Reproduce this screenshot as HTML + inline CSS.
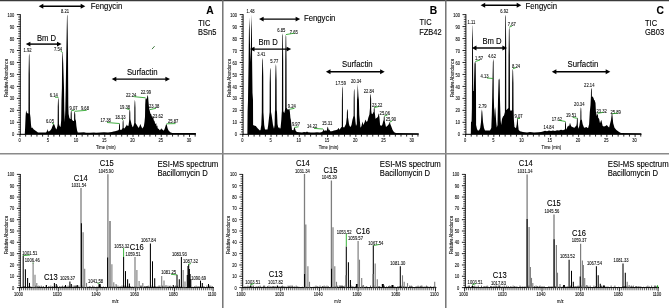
<!DOCTYPE html>
<html><head><meta charset="utf-8"><style>
html,body{margin:0;padding:0;background:#fff;}
body{width:669px;height:308px;overflow:hidden;}
svg{display:block;font-family:"Liberation Sans", sans-serif;will-change:transform;}
</style></head><body>
<svg width="669" height="308" viewBox="0 0 669 308">
<rect width="669" height="308" fill="#fff"/>
<path d="M20.2 134.3 L24.8 134 L25.1 128 L25.6 116 L26.1 110.2 L26.8 112.8 L27.9 113.4 L28.45 113.5 L28.57 74.37 L28.92 55.8 L29.2 53.3 L29.48 55.8 L29.83 74.37 L29.95 113.5 L30.5 117.5 L31 124.8 L31.5 127.9 L32.2 127.5 L33 128.4 L33.8 129.5 L34.6 130 L35.6 130.8 L36.7 131.5 L38 132.4 L46 132.6 L46.8 131.5 L47.4 128.9 L48 131.3 L49 131.6 L50.5 130.3 L51.5 128.8 L52.5 126 L53.4 124.3 L53.8 123.7 L54.5 125 L55.5 128 L56.5 129.4 L57.4 126 L57.65 124 L57.75 106.64 L58.02 99.8 L58.3 97.3 L58.58 99.8 L58.85 106.64 L58.95 124 L59.6 126 L60.6 127 L61.2 120 L61.5 100 L61.9 88 L62.1 63 L62.4 53.2 L62.6 52 L62.8 53.2 L63.2 63 L64 88 L64.3 110 L64.8 122 L65.3 110 L65.7 90 L66.3 54 L66.7 31 L67 16 L67.2 14.5 L67.4 16 L67.7 31 L68 54 L68.2 88 L68.3 105 L68.6 114 L69.4 118 L70.2 119 L70.6 119 L70.7 113.41 L70.92 111.26 L71.2 110.4 L71.48 111.26 L71.7 113.41 L71.8 119 L72.2 120 L73.2 121 L74.05 121 L74.15 114.69 L74.42 112.27 L74.7 111.3 L74.98 112.27 L75.25 114.69 L75.35 121 L75.8 119 L76.4 126 L77.1 130.5 L77.8 132.4 L80 132.6 L84 132.2 L86 132.7 L90 132.7 L94 132.4 L96 132.7 L100 132.6 L104 132.3 L108 132.5 L111.9 132 L113.5 131.6 L115 131.2 L116.8 130.8 L118.3 130.3 L118.95 129.5 L119.04 125.41 L119.22 123.83 L119.5 123.2 L119.78 123.83 L119.96 125.41 L120.05 129.5 L120.8 130 L121.8 129.5 L122.55 128 L122.64 122.8 L122.82 120.8 L123.1 120 L123.38 120.8 L123.56 122.8 L123.65 128 L124.4 128.4 L125.4 127 L126.3 125.8 L126.9 124.6 L127.6 126 L128.5 125.8 L129.1 121 L129.25 119 L129.34 112.83 L129.52 110.45 L129.8 109.5 L130.08 110.45 L130.26 112.83 L130.35 119 L130.5 120 L131 122.1 L131.6 124.5 L132 125.5 L132.6 127.2 L133.2 126.4 L133.7 125.2 L134.25 123 L134.35 107.92 L134.62 102.12 L134.9 99.8 L135.18 102.12 L135.45 107.92 L135.55 123 L136.5 124.5 L137.7 126.5 L138.8 128 L139.6 126 L140.4 124.1 L141.2 126.2 L142.3 128.4 L143.4 127 L143.9 126 L144.5 122 L145 116.7 L145.2 105 L145.5 99.2 L146.1 97.8 L146.5 99.5 L146.9 98.6 L147.4 95.8 L147.7 95.1 L148.1 96.8 L148.5 101.8 L149.1 108.3 L149.5 109.6 L149.9 111.5 L150.4 113.5 L151.3 114.5 L151.8 116.5 L152.3 116 L152.9 118.3 L153.2 116.2 L153.5 119 L153.8 120 L154.2 121.8 L154.6 120.2 L155 123.2 L155.6 124.2 L156.1 122.8 L156.5 125.5 L156.9 126.5 L157.3 125.2 L157.7 128.2 L158.8 129 L159.8 130.3 L160.8 129.3 L161.4 128.2 L162 129.5 L162.8 129.8 L163.7 130.7 L164.6 129 L165.4 126.5 L166 124.5 L166.4 124.1 L166.9 125.3 L167.6 128.2 L168.4 130.3 L169.5 131.6 L170.7 132.4 L172.5 132.9 L195.9 133.1 L195.9 134.3 Z" fill="#000"/>
<line x1="20.3" y1="14.2" x2="20.3" y2="134.8" stroke="#000" stroke-width="0.95"/>
<line x1="16.9" y1="134.3" x2="20.3" y2="134.3" stroke="#000" stroke-width="0.85"/>
<line x1="18.2" y1="131.91" x2="20.3" y2="131.91" stroke="#000" stroke-width="0.7"/>
<line x1="18.2" y1="129.51" x2="20.3" y2="129.51" stroke="#000" stroke-width="0.7"/>
<line x1="18.2" y1="127.12" x2="20.3" y2="127.12" stroke="#000" stroke-width="0.7"/>
<line x1="18.2" y1="124.72" x2="20.3" y2="124.72" stroke="#000" stroke-width="0.7"/>
<line x1="16.9" y1="122.33" x2="20.3" y2="122.33" stroke="#000" stroke-width="0.85"/>
<line x1="18.2" y1="119.94" x2="20.3" y2="119.94" stroke="#000" stroke-width="0.7"/>
<line x1="18.2" y1="117.54" x2="20.3" y2="117.54" stroke="#000" stroke-width="0.7"/>
<line x1="18.2" y1="115.15" x2="20.3" y2="115.15" stroke="#000" stroke-width="0.7"/>
<line x1="18.2" y1="112.75" x2="20.3" y2="112.75" stroke="#000" stroke-width="0.7"/>
<line x1="16.9" y1="110.36" x2="20.3" y2="110.36" stroke="#000" stroke-width="0.85"/>
<line x1="18.2" y1="107.97" x2="20.3" y2="107.97" stroke="#000" stroke-width="0.7"/>
<line x1="18.2" y1="105.57" x2="20.3" y2="105.57" stroke="#000" stroke-width="0.7"/>
<line x1="18.2" y1="103.18" x2="20.3" y2="103.18" stroke="#000" stroke-width="0.7"/>
<line x1="18.2" y1="100.78" x2="20.3" y2="100.78" stroke="#000" stroke-width="0.7"/>
<line x1="16.9" y1="98.39" x2="20.3" y2="98.39" stroke="#000" stroke-width="0.85"/>
<line x1="18.2" y1="96" x2="20.3" y2="96" stroke="#000" stroke-width="0.7"/>
<line x1="18.2" y1="93.6" x2="20.3" y2="93.6" stroke="#000" stroke-width="0.7"/>
<line x1="18.2" y1="91.21" x2="20.3" y2="91.21" stroke="#000" stroke-width="0.7"/>
<line x1="18.2" y1="88.81" x2="20.3" y2="88.81" stroke="#000" stroke-width="0.7"/>
<line x1="16.9" y1="86.42" x2="20.3" y2="86.42" stroke="#000" stroke-width="0.85"/>
<line x1="18.2" y1="84.03" x2="20.3" y2="84.03" stroke="#000" stroke-width="0.7"/>
<line x1="18.2" y1="81.63" x2="20.3" y2="81.63" stroke="#000" stroke-width="0.7"/>
<line x1="18.2" y1="79.24" x2="20.3" y2="79.24" stroke="#000" stroke-width="0.7"/>
<line x1="18.2" y1="76.84" x2="20.3" y2="76.84" stroke="#000" stroke-width="0.7"/>
<line x1="16.9" y1="74.45" x2="20.3" y2="74.45" stroke="#000" stroke-width="0.85"/>
<line x1="18.2" y1="72.06" x2="20.3" y2="72.06" stroke="#000" stroke-width="0.7"/>
<line x1="18.2" y1="69.66" x2="20.3" y2="69.66" stroke="#000" stroke-width="0.7"/>
<line x1="18.2" y1="67.27" x2="20.3" y2="67.27" stroke="#000" stroke-width="0.7"/>
<line x1="18.2" y1="64.87" x2="20.3" y2="64.87" stroke="#000" stroke-width="0.7"/>
<line x1="16.9" y1="62.48" x2="20.3" y2="62.48" stroke="#000" stroke-width="0.85"/>
<line x1="18.2" y1="60.09" x2="20.3" y2="60.09" stroke="#000" stroke-width="0.7"/>
<line x1="18.2" y1="57.69" x2="20.3" y2="57.69" stroke="#000" stroke-width="0.7"/>
<line x1="18.2" y1="55.3" x2="20.3" y2="55.3" stroke="#000" stroke-width="0.7"/>
<line x1="18.2" y1="52.9" x2="20.3" y2="52.9" stroke="#000" stroke-width="0.7"/>
<line x1="16.9" y1="50.51" x2="20.3" y2="50.51" stroke="#000" stroke-width="0.85"/>
<line x1="18.2" y1="48.12" x2="20.3" y2="48.12" stroke="#000" stroke-width="0.7"/>
<line x1="18.2" y1="45.72" x2="20.3" y2="45.72" stroke="#000" stroke-width="0.7"/>
<line x1="18.2" y1="43.33" x2="20.3" y2="43.33" stroke="#000" stroke-width="0.7"/>
<line x1="18.2" y1="40.93" x2="20.3" y2="40.93" stroke="#000" stroke-width="0.7"/>
<line x1="16.9" y1="38.54" x2="20.3" y2="38.54" stroke="#000" stroke-width="0.85"/>
<line x1="18.2" y1="36.15" x2="20.3" y2="36.15" stroke="#000" stroke-width="0.7"/>
<line x1="18.2" y1="33.75" x2="20.3" y2="33.75" stroke="#000" stroke-width="0.7"/>
<line x1="18.2" y1="31.36" x2="20.3" y2="31.36" stroke="#000" stroke-width="0.7"/>
<line x1="18.2" y1="28.96" x2="20.3" y2="28.96" stroke="#000" stroke-width="0.7"/>
<line x1="16.9" y1="26.57" x2="20.3" y2="26.57" stroke="#000" stroke-width="0.85"/>
<line x1="18.2" y1="24.18" x2="20.3" y2="24.18" stroke="#000" stroke-width="0.7"/>
<line x1="18.2" y1="21.78" x2="20.3" y2="21.78" stroke="#000" stroke-width="0.7"/>
<line x1="18.2" y1="19.39" x2="20.3" y2="19.39" stroke="#000" stroke-width="0.7"/>
<line x1="18.2" y1="16.99" x2="20.3" y2="16.99" stroke="#000" stroke-width="0.7"/>
<line x1="16.9" y1="14.6" x2="20.3" y2="14.6" stroke="#000" stroke-width="0.85"/>
<text transform="translate(14.3,136.38) scale(0.86,1)" font-size="4.7" text-anchor="end" fill="#111" stroke="#111" stroke-width="0.1">0</text>
<text transform="translate(14.3,124.41) scale(0.86,1)" font-size="4.7" text-anchor="end" fill="#111" stroke="#111" stroke-width="0.1">10</text>
<text transform="translate(14.3,112.44) scale(0.86,1)" font-size="4.7" text-anchor="end" fill="#111" stroke="#111" stroke-width="0.1">20</text>
<text transform="translate(14.3,100.47) scale(0.86,1)" font-size="4.7" text-anchor="end" fill="#111" stroke="#111" stroke-width="0.1">30</text>
<text transform="translate(14.3,88.5) scale(0.86,1)" font-size="4.7" text-anchor="end" fill="#111" stroke="#111" stroke-width="0.1">40</text>
<text transform="translate(14.3,76.53) scale(0.86,1)" font-size="4.7" text-anchor="end" fill="#111" stroke="#111" stroke-width="0.1">50</text>
<text transform="translate(14.3,64.56) scale(0.86,1)" font-size="4.7" text-anchor="end" fill="#111" stroke="#111" stroke-width="0.1">60</text>
<text transform="translate(14.3,52.59) scale(0.86,1)" font-size="4.7" text-anchor="end" fill="#111" stroke="#111" stroke-width="0.1">70</text>
<text transform="translate(14.3,40.62) scale(0.86,1)" font-size="4.7" text-anchor="end" fill="#111" stroke="#111" stroke-width="0.1">80</text>
<text transform="translate(14.3,28.65) scale(0.86,1)" font-size="4.7" text-anchor="end" fill="#111" stroke="#111" stroke-width="0.1">90</text>
<text transform="translate(14.3,16.68) scale(0.86,1)" font-size="4.7" text-anchor="end" fill="#111" stroke="#111" stroke-width="0.1">100</text>
<line x1="19.9" y1="134.3" x2="195.9" y2="134.3" stroke="#000" stroke-width="1"/>
<line x1="20" y1="134.3" x2="20" y2="136.9" stroke="#000" stroke-width="0.85"/>
<line x1="25.65" y1="134.3" x2="25.65" y2="136.6" stroke="#000" stroke-width="0.85"/>
<line x1="31.3" y1="134.3" x2="31.3" y2="136.6" stroke="#000" stroke-width="0.85"/>
<line x1="36.95" y1="134.3" x2="36.95" y2="136.6" stroke="#000" stroke-width="0.85"/>
<line x1="42.6" y1="134.3" x2="42.6" y2="136.6" stroke="#000" stroke-width="0.85"/>
<line x1="48.25" y1="134.3" x2="48.25" y2="136.9" stroke="#000" stroke-width="0.85"/>
<line x1="53.9" y1="134.3" x2="53.9" y2="136.6" stroke="#000" stroke-width="0.85"/>
<line x1="59.55" y1="134.3" x2="59.55" y2="136.6" stroke="#000" stroke-width="0.85"/>
<line x1="65.2" y1="134.3" x2="65.2" y2="136.6" stroke="#000" stroke-width="0.85"/>
<line x1="70.85" y1="134.3" x2="70.85" y2="136.6" stroke="#000" stroke-width="0.85"/>
<line x1="76.5" y1="134.3" x2="76.5" y2="136.9" stroke="#000" stroke-width="0.85"/>
<line x1="82.15" y1="134.3" x2="82.15" y2="136.6" stroke="#000" stroke-width="0.85"/>
<line x1="87.8" y1="134.3" x2="87.8" y2="136.6" stroke="#000" stroke-width="0.85"/>
<line x1="93.45" y1="134.3" x2="93.45" y2="136.6" stroke="#000" stroke-width="0.85"/>
<line x1="99.1" y1="134.3" x2="99.1" y2="136.6" stroke="#000" stroke-width="0.85"/>
<line x1="104.75" y1="134.3" x2="104.75" y2="136.9" stroke="#000" stroke-width="0.85"/>
<line x1="110.4" y1="134.3" x2="110.4" y2="136.6" stroke="#000" stroke-width="0.85"/>
<line x1="116.05" y1="134.3" x2="116.05" y2="136.6" stroke="#000" stroke-width="0.85"/>
<line x1="121.7" y1="134.3" x2="121.7" y2="136.6" stroke="#000" stroke-width="0.85"/>
<line x1="127.35" y1="134.3" x2="127.35" y2="136.6" stroke="#000" stroke-width="0.85"/>
<line x1="133" y1="134.3" x2="133" y2="136.9" stroke="#000" stroke-width="0.85"/>
<line x1="138.65" y1="134.3" x2="138.65" y2="136.6" stroke="#000" stroke-width="0.85"/>
<line x1="144.3" y1="134.3" x2="144.3" y2="136.6" stroke="#000" stroke-width="0.85"/>
<line x1="149.95" y1="134.3" x2="149.95" y2="136.6" stroke="#000" stroke-width="0.85"/>
<line x1="155.6" y1="134.3" x2="155.6" y2="136.6" stroke="#000" stroke-width="0.85"/>
<line x1="161.25" y1="134.3" x2="161.25" y2="136.9" stroke="#000" stroke-width="0.85"/>
<line x1="166.9" y1="134.3" x2="166.9" y2="136.6" stroke="#000" stroke-width="0.85"/>
<line x1="172.55" y1="134.3" x2="172.55" y2="136.6" stroke="#000" stroke-width="0.85"/>
<line x1="178.2" y1="134.3" x2="178.2" y2="136.6" stroke="#000" stroke-width="0.85"/>
<line x1="183.85" y1="134.3" x2="183.85" y2="136.6" stroke="#000" stroke-width="0.85"/>
<line x1="189.5" y1="134.3" x2="189.5" y2="136.9" stroke="#000" stroke-width="0.85"/>
<line x1="195.15" y1="134.3" x2="195.15" y2="136.6" stroke="#000" stroke-width="0.85"/>
<text transform="translate(19.5,141.98) scale(0.86,1)" font-size="4.7" text-anchor="middle" fill="#111" stroke="#111" stroke-width="0.1">0</text>
<text transform="translate(47.75,141.98) scale(0.86,1)" font-size="4.7" text-anchor="middle" fill="#111" stroke="#111" stroke-width="0.1">5</text>
<text transform="translate(76,141.98) scale(0.86,1)" font-size="4.7" text-anchor="middle" fill="#111" stroke="#111" stroke-width="0.1">10</text>
<text transform="translate(104.25,141.98) scale(0.86,1)" font-size="4.7" text-anchor="middle" fill="#111" stroke="#111" stroke-width="0.1">15</text>
<text transform="translate(132.5,141.98) scale(0.86,1)" font-size="4.7" text-anchor="middle" fill="#111" stroke="#111" stroke-width="0.1">20</text>
<text transform="translate(160.75,141.98) scale(0.86,1)" font-size="4.7" text-anchor="middle" fill="#111" stroke="#111" stroke-width="0.1">25</text>
<text transform="translate(189,141.98) scale(0.86,1)" font-size="4.7" text-anchor="middle" fill="#111" stroke="#111" stroke-width="0.1">30</text>
<text transform="translate(105.8,148.72) scale(0.76,1)" font-size="5.46" text-anchor="middle" fill="#111" stroke="#111" stroke-width="0.1">Time (min)</text>
<text transform="translate(8.1,78) rotate(-90) scale(0.87,1)" font-size="4.95" text-anchor="middle" fill="#111" stroke="#111" stroke-width="0.1">Relative Abundance</text>
<path d="M243 134.3 L247.4 134 L247.6 112 L248 100 L248.6 60 L248.95 30 L249.35 17.3 L249.7 30 L250.1 50 L250.4 62 L250.8 50 L251.2 30 L251.6 14.6 L251.95 30 L252.1 60 L252.5 93 L253 100 L253.1 125 L254 125.5 L255.8 126 L257.6 128.3 L259.9 130.5 L260.5 130 L261.3 125 L261.8 112 L261.93 76.77 L262.32 60.3 L262.6 57.8 L262.88 60.3 L263.27 76.77 L263.4 112 L264.2 125 L265 129.6 L267.5 129.6 L268.2 125 L269.3 115 L269.6 112 L269.71 83.08 L270.02 70 L270.3 67.5 L270.58 70 L270.89 83.08 L271 112 L271.6 115 L273 125 L274 128.7 L274.6 125 L274.9 112 L275.1 110 L275.23 80.1 L275.62 66.5 L275.9 64 L276.18 66.5 L276.57 80.1 L276.7 110 L277 112 L277.5 124 L278.3 128 L279 127 L279.8 128.5 L280.5 128.3 L281.3 120 L281.7 113 L281.9 111 L282.01 60.49 L282.32 35.8 L282.6 33.3 L282.88 35.8 L283.19 60.49 L283.3 111 L283.6 112 L284.3 113 L285 110 L285.15 108 L285.27 60.29 L285.62 37.1 L285.9 34.6 L286.18 37.1 L286.53 60.29 L286.65 108 L286.8 108 L287.5 109.5 L288.5 109.5 L289.4 108.8 L289.9 112 L290.4 117.8 L290.9 120 L291.4 125 L292 130 L293.5 130.2 L294 128 L294.5 126.9 L295 128.5 L295.8 131 L297 132 L302 132.4 L304 132.1 L306 132.3 L307 131.4 L308 132.3 L311 132.5 L314 132.5 L317 132.2 L320 132.4 L322 132 L323 131 L323.6 128.7 L324.2 131 L324.8 130.5 L325.2 129.8 L325.7 131 L326.8 130.5 L327.4 127.5 L327.8 126.4 L328.3 128.5 L329 130.5 L329.5 129.5 L330.2 131.2 L332 131.3 L334 130.6 L336.5 130 L337.8 129.2 L338.7 127.8 L339.4 129.8 L340.4 128.4 L341.5 127 L341.8 127 L341.9 100.41 L342.12 88.6 L342.4 86.1 L342.68 88.6 L342.9 100.41 L343 127 L343.3 127 L344 127.8 L345 126 L346 124 L346.7 118 L346.8 118 L346.9 112.15 L347.12 109.9 L347.4 109 L347.68 109.9 L347.9 112.15 L348 118 L348.1 118 L349 124 L349.6 126 L350.5 127 L351.5 125 L352.4 120 L353.5 116 L353.6 116 L353.7 98.06 L353.92 90.9 L354.2 88.4 L354.48 90.9 L354.7 98.06 L354.8 116 L355 117 L355.5 122 L356 126 L356.8 124 L357 100 L357.3 96.5 L357.5 90 L357.8 83.8 L358.1 90 L358.5 96.5 L358.9 100 L359.3 115 L360.5 127.8 L361.5 126 L362.4 121.5 L363.3 125 L364.5 122.5 L365.5 119.6 L366.5 122 L367.5 121 L368.3 117.8 L369.4 114.5 L370 108 L370 108 L370.1 98.77 L370.32 95.22 L370.6 93.8 L370.88 95.22 L371.1 98.77 L371.2 108 L371.2 110 L371.6 113.5 L372.4 114.2 L373.5 112 L373.7 112 L373.78 109.2 L373.92 108.13 L374.2 107.7 L374.48 108.13 L374.62 109.2 L374.7 112 L375.5 118.7 L376.5 118 L377.8 116.9 L378.7 113.3 L379.4 117 L380.1 125.1 L381.2 126 L382.4 124.6 L383.5 120 L383.7 121 L383.78 117.75 L383.92 116.5 L384.2 116 L384.48 116.5 L384.62 117.75 L384.7 121 L385 122.5 L386 126.9 L387.2 126 L388.3 125.1 L389.3 123 L389.35 124 L389.42 122.7 L389.52 122.2 L389.8 122 L390.08 122.2 L390.18 122.7 L390.25 124 L390.5 124.5 L391.5 127 L392.5 129.8 L393.6 131.6 L394.6 132.6 L396 133.1 L418.7 133.2 L418.7 134.3 Z" fill="#000"/>
<line x1="243.1" y1="14.2" x2="243.1" y2="134.8" stroke="#000" stroke-width="0.95"/>
<line x1="239.7" y1="134.3" x2="243.1" y2="134.3" stroke="#000" stroke-width="0.85"/>
<line x1="241" y1="131.91" x2="243.1" y2="131.91" stroke="#000" stroke-width="0.7"/>
<line x1="241" y1="129.51" x2="243.1" y2="129.51" stroke="#000" stroke-width="0.7"/>
<line x1="241" y1="127.12" x2="243.1" y2="127.12" stroke="#000" stroke-width="0.7"/>
<line x1="241" y1="124.72" x2="243.1" y2="124.72" stroke="#000" stroke-width="0.7"/>
<line x1="239.7" y1="122.33" x2="243.1" y2="122.33" stroke="#000" stroke-width="0.85"/>
<line x1="241" y1="119.94" x2="243.1" y2="119.94" stroke="#000" stroke-width="0.7"/>
<line x1="241" y1="117.54" x2="243.1" y2="117.54" stroke="#000" stroke-width="0.7"/>
<line x1="241" y1="115.15" x2="243.1" y2="115.15" stroke="#000" stroke-width="0.7"/>
<line x1="241" y1="112.75" x2="243.1" y2="112.75" stroke="#000" stroke-width="0.7"/>
<line x1="239.7" y1="110.36" x2="243.1" y2="110.36" stroke="#000" stroke-width="0.85"/>
<line x1="241" y1="107.97" x2="243.1" y2="107.97" stroke="#000" stroke-width="0.7"/>
<line x1="241" y1="105.57" x2="243.1" y2="105.57" stroke="#000" stroke-width="0.7"/>
<line x1="241" y1="103.18" x2="243.1" y2="103.18" stroke="#000" stroke-width="0.7"/>
<line x1="241" y1="100.78" x2="243.1" y2="100.78" stroke="#000" stroke-width="0.7"/>
<line x1="239.7" y1="98.39" x2="243.1" y2="98.39" stroke="#000" stroke-width="0.85"/>
<line x1="241" y1="96" x2="243.1" y2="96" stroke="#000" stroke-width="0.7"/>
<line x1="241" y1="93.6" x2="243.1" y2="93.6" stroke="#000" stroke-width="0.7"/>
<line x1="241" y1="91.21" x2="243.1" y2="91.21" stroke="#000" stroke-width="0.7"/>
<line x1="241" y1="88.81" x2="243.1" y2="88.81" stroke="#000" stroke-width="0.7"/>
<line x1="239.7" y1="86.42" x2="243.1" y2="86.42" stroke="#000" stroke-width="0.85"/>
<line x1="241" y1="84.03" x2="243.1" y2="84.03" stroke="#000" stroke-width="0.7"/>
<line x1="241" y1="81.63" x2="243.1" y2="81.63" stroke="#000" stroke-width="0.7"/>
<line x1="241" y1="79.24" x2="243.1" y2="79.24" stroke="#000" stroke-width="0.7"/>
<line x1="241" y1="76.84" x2="243.1" y2="76.84" stroke="#000" stroke-width="0.7"/>
<line x1="239.7" y1="74.45" x2="243.1" y2="74.45" stroke="#000" stroke-width="0.85"/>
<line x1="241" y1="72.06" x2="243.1" y2="72.06" stroke="#000" stroke-width="0.7"/>
<line x1="241" y1="69.66" x2="243.1" y2="69.66" stroke="#000" stroke-width="0.7"/>
<line x1="241" y1="67.27" x2="243.1" y2="67.27" stroke="#000" stroke-width="0.7"/>
<line x1="241" y1="64.87" x2="243.1" y2="64.87" stroke="#000" stroke-width="0.7"/>
<line x1="239.7" y1="62.48" x2="243.1" y2="62.48" stroke="#000" stroke-width="0.85"/>
<line x1="241" y1="60.09" x2="243.1" y2="60.09" stroke="#000" stroke-width="0.7"/>
<line x1="241" y1="57.69" x2="243.1" y2="57.69" stroke="#000" stroke-width="0.7"/>
<line x1="241" y1="55.3" x2="243.1" y2="55.3" stroke="#000" stroke-width="0.7"/>
<line x1="241" y1="52.9" x2="243.1" y2="52.9" stroke="#000" stroke-width="0.7"/>
<line x1="239.7" y1="50.51" x2="243.1" y2="50.51" stroke="#000" stroke-width="0.85"/>
<line x1="241" y1="48.12" x2="243.1" y2="48.12" stroke="#000" stroke-width="0.7"/>
<line x1="241" y1="45.72" x2="243.1" y2="45.72" stroke="#000" stroke-width="0.7"/>
<line x1="241" y1="43.33" x2="243.1" y2="43.33" stroke="#000" stroke-width="0.7"/>
<line x1="241" y1="40.93" x2="243.1" y2="40.93" stroke="#000" stroke-width="0.7"/>
<line x1="239.7" y1="38.54" x2="243.1" y2="38.54" stroke="#000" stroke-width="0.85"/>
<line x1="241" y1="36.15" x2="243.1" y2="36.15" stroke="#000" stroke-width="0.7"/>
<line x1="241" y1="33.75" x2="243.1" y2="33.75" stroke="#000" stroke-width="0.7"/>
<line x1="241" y1="31.36" x2="243.1" y2="31.36" stroke="#000" stroke-width="0.7"/>
<line x1="241" y1="28.96" x2="243.1" y2="28.96" stroke="#000" stroke-width="0.7"/>
<line x1="239.7" y1="26.57" x2="243.1" y2="26.57" stroke="#000" stroke-width="0.85"/>
<line x1="241" y1="24.18" x2="243.1" y2="24.18" stroke="#000" stroke-width="0.7"/>
<line x1="241" y1="21.78" x2="243.1" y2="21.78" stroke="#000" stroke-width="0.7"/>
<line x1="241" y1="19.39" x2="243.1" y2="19.39" stroke="#000" stroke-width="0.7"/>
<line x1="241" y1="16.99" x2="243.1" y2="16.99" stroke="#000" stroke-width="0.7"/>
<line x1="239.7" y1="14.6" x2="243.1" y2="14.6" stroke="#000" stroke-width="0.85"/>
<text transform="translate(237.1,136.38) scale(0.86,1)" font-size="4.7" text-anchor="end" fill="#111" stroke="#111" stroke-width="0.1">0</text>
<text transform="translate(237.1,124.41) scale(0.86,1)" font-size="4.7" text-anchor="end" fill="#111" stroke="#111" stroke-width="0.1">10</text>
<text transform="translate(237.1,112.44) scale(0.86,1)" font-size="4.7" text-anchor="end" fill="#111" stroke="#111" stroke-width="0.1">20</text>
<text transform="translate(237.1,100.47) scale(0.86,1)" font-size="4.7" text-anchor="end" fill="#111" stroke="#111" stroke-width="0.1">30</text>
<text transform="translate(237.1,88.5) scale(0.86,1)" font-size="4.7" text-anchor="end" fill="#111" stroke="#111" stroke-width="0.1">40</text>
<text transform="translate(237.1,76.53) scale(0.86,1)" font-size="4.7" text-anchor="end" fill="#111" stroke="#111" stroke-width="0.1">50</text>
<text transform="translate(237.1,64.56) scale(0.86,1)" font-size="4.7" text-anchor="end" fill="#111" stroke="#111" stroke-width="0.1">60</text>
<text transform="translate(237.1,52.59) scale(0.86,1)" font-size="4.7" text-anchor="end" fill="#111" stroke="#111" stroke-width="0.1">70</text>
<text transform="translate(237.1,40.62) scale(0.86,1)" font-size="4.7" text-anchor="end" fill="#111" stroke="#111" stroke-width="0.1">80</text>
<text transform="translate(237.1,28.65) scale(0.86,1)" font-size="4.7" text-anchor="end" fill="#111" stroke="#111" stroke-width="0.1">90</text>
<text transform="translate(237.1,16.68) scale(0.86,1)" font-size="4.7" text-anchor="end" fill="#111" stroke="#111" stroke-width="0.1">100</text>
<line x1="242.7" y1="134.3" x2="418.7" y2="134.3" stroke="#000" stroke-width="1"/>
<line x1="242.8" y1="134.3" x2="242.8" y2="136.9" stroke="#000" stroke-width="0.85"/>
<line x1="248.45" y1="134.3" x2="248.45" y2="136.6" stroke="#000" stroke-width="0.85"/>
<line x1="254.1" y1="134.3" x2="254.1" y2="136.6" stroke="#000" stroke-width="0.85"/>
<line x1="259.75" y1="134.3" x2="259.75" y2="136.6" stroke="#000" stroke-width="0.85"/>
<line x1="265.4" y1="134.3" x2="265.4" y2="136.6" stroke="#000" stroke-width="0.85"/>
<line x1="271.05" y1="134.3" x2="271.05" y2="136.9" stroke="#000" stroke-width="0.85"/>
<line x1="276.7" y1="134.3" x2="276.7" y2="136.6" stroke="#000" stroke-width="0.85"/>
<line x1="282.35" y1="134.3" x2="282.35" y2="136.6" stroke="#000" stroke-width="0.85"/>
<line x1="288" y1="134.3" x2="288" y2="136.6" stroke="#000" stroke-width="0.85"/>
<line x1="293.65" y1="134.3" x2="293.65" y2="136.6" stroke="#000" stroke-width="0.85"/>
<line x1="299.3" y1="134.3" x2="299.3" y2="136.9" stroke="#000" stroke-width="0.85"/>
<line x1="304.95" y1="134.3" x2="304.95" y2="136.6" stroke="#000" stroke-width="0.85"/>
<line x1="310.6" y1="134.3" x2="310.6" y2="136.6" stroke="#000" stroke-width="0.85"/>
<line x1="316.25" y1="134.3" x2="316.25" y2="136.6" stroke="#000" stroke-width="0.85"/>
<line x1="321.9" y1="134.3" x2="321.9" y2="136.6" stroke="#000" stroke-width="0.85"/>
<line x1="327.55" y1="134.3" x2="327.55" y2="136.9" stroke="#000" stroke-width="0.85"/>
<line x1="333.2" y1="134.3" x2="333.2" y2="136.6" stroke="#000" stroke-width="0.85"/>
<line x1="338.85" y1="134.3" x2="338.85" y2="136.6" stroke="#000" stroke-width="0.85"/>
<line x1="344.5" y1="134.3" x2="344.5" y2="136.6" stroke="#000" stroke-width="0.85"/>
<line x1="350.15" y1="134.3" x2="350.15" y2="136.6" stroke="#000" stroke-width="0.85"/>
<line x1="355.8" y1="134.3" x2="355.8" y2="136.9" stroke="#000" stroke-width="0.85"/>
<line x1="361.45" y1="134.3" x2="361.45" y2="136.6" stroke="#000" stroke-width="0.85"/>
<line x1="367.1" y1="134.3" x2="367.1" y2="136.6" stroke="#000" stroke-width="0.85"/>
<line x1="372.75" y1="134.3" x2="372.75" y2="136.6" stroke="#000" stroke-width="0.85"/>
<line x1="378.4" y1="134.3" x2="378.4" y2="136.6" stroke="#000" stroke-width="0.85"/>
<line x1="384.05" y1="134.3" x2="384.05" y2="136.9" stroke="#000" stroke-width="0.85"/>
<line x1="389.7" y1="134.3" x2="389.7" y2="136.6" stroke="#000" stroke-width="0.85"/>
<line x1="395.35" y1="134.3" x2="395.35" y2="136.6" stroke="#000" stroke-width="0.85"/>
<line x1="401" y1="134.3" x2="401" y2="136.6" stroke="#000" stroke-width="0.85"/>
<line x1="406.65" y1="134.3" x2="406.65" y2="136.6" stroke="#000" stroke-width="0.85"/>
<line x1="412.3" y1="134.3" x2="412.3" y2="136.9" stroke="#000" stroke-width="0.85"/>
<line x1="417.95" y1="134.3" x2="417.95" y2="136.6" stroke="#000" stroke-width="0.85"/>
<text transform="translate(242.3,141.98) scale(0.86,1)" font-size="4.7" text-anchor="middle" fill="#111" stroke="#111" stroke-width="0.1">0</text>
<text transform="translate(270.55,141.98) scale(0.86,1)" font-size="4.7" text-anchor="middle" fill="#111" stroke="#111" stroke-width="0.1">5</text>
<text transform="translate(298.8,141.98) scale(0.86,1)" font-size="4.7" text-anchor="middle" fill="#111" stroke="#111" stroke-width="0.1">10</text>
<text transform="translate(327.05,141.98) scale(0.86,1)" font-size="4.7" text-anchor="middle" fill="#111" stroke="#111" stroke-width="0.1">15</text>
<text transform="translate(355.3,141.98) scale(0.86,1)" font-size="4.7" text-anchor="middle" fill="#111" stroke="#111" stroke-width="0.1">20</text>
<text transform="translate(383.55,141.98) scale(0.86,1)" font-size="4.7" text-anchor="middle" fill="#111" stroke="#111" stroke-width="0.1">25</text>
<text transform="translate(411.8,141.98) scale(0.86,1)" font-size="4.7" text-anchor="middle" fill="#111" stroke="#111" stroke-width="0.1">30</text>
<text transform="translate(328.6,148.72) scale(0.76,1)" font-size="5.46" text-anchor="middle" fill="#111" stroke="#111" stroke-width="0.1">Time (min)</text>
<text transform="translate(230.9,78) rotate(-90) scale(0.87,1)" font-size="4.95" text-anchor="middle" fill="#111" stroke="#111" stroke-width="0.1">Relative Abundance</text>
<path d="M466 134.3 L470.8 134 L471 122 L471.6 121.5 L471.9 108 L472.1 40 L472.4 26 L472.5 25.3 L472.6 26 L472.9 40 L473.3 91 L473.8 91 L474.5 64 L474.9 62 L475.1 61.5 L475.3 62 L475.7 64 L476 91 L476.1 125 L477 129 L477.8 130.5 L479 130.5 L480.2 128 L481 122 L481.5 112 L481.9 109.2 L482.3 112 L483 122 L484 128 L485 130.5 L490 130.6 L491.3 128 L491.8 115 L492.2 97 L492.5 80 L492.9 62 L493.3 58.8 L493.6 62 L493.8 97 L494.4 118 L494.7 110 L495.1 107 L495.4 110 L496.2 122 L496.8 127.4 L497.5 125 L498 100 L498.6 80 L499.2 78.4 L499.6 80 L500 100 L500.6 120 L501.2 125 L502 119 L503 116.5 L504 115.5 L504.9 112 L504.9 110 L505.01 47.99 L505.32 17.1 L505.6 14.6 L505.88 17.1 L506.19 47.99 L506.3 110 L506.5 110 L507.4 109 L508.4 108 L508.4 108 L508.53 55.48 L508.92 29.7 L509.2 27.2 L509.48 29.7 L509.87 55.48 L510 108 L510.1 110 L511 111 L512 110 L512.05 110 L512.17 82.96 L512.52 70.9 L512.8 68.4 L513.08 70.9 L513.43 82.96 L513.55 110 L513.6 110 L513.9 120 L514.5 127 L516 128.3 L516.8 124 L517.1 119 L517.4 117.8 L517.7 119 L518.1 125 L518.7 130 L520 131.3 L523 132 L527 132.4 L530 132.1 L534 132.4 L538 132.2 L541 131.9 L543 131.5 L545 130.8 L547 131.2 L549 130.6 L551 131 L553 130.4 L555 130.9 L557 130.2 L559 130.6 L561 129.8 L563 130.2 L564.6 129.5 L564.95 129.5 L565.04 124.3 L565.22 122.3 L565.5 121.5 L565.78 122.3 L565.96 124.3 L566.05 129.5 L566.5 129 L567.4 127 L568.2 125.5 L569 126.5 L570 122.8 L570.7 125 L571.4 126.5 L572.5 127 L573.5 127.5 L574.5 127.8 L575.5 126.5 L576.4 125.5 L576.8 123 L576.8 123 L576.88 119.62 L577.02 118.32 L577.3 117.8 L577.58 118.32 L577.72 119.62 L577.8 123 L577.9 126 L578.3 128.7 L579.3 126 L580.2 120 L580.35 120 L580.44 111.68 L580.62 108.48 L580.9 107.2 L581.18 108.48 L581.36 111.68 L581.45 120 L581.8 119.6 L582.7 124.2 L584.1 127.8 L585.2 127.5 L586.4 126.9 L587.5 128 L588.2 127.8 L589.1 124.2 L589.8 112 L590.5 104.9 L590.9 97 L590.9 97 L590.98 91.22 L591.12 88.99 L591.4 88.1 L591.68 88.99 L591.82 91.22 L591.9 97 L592 96.7 L592.7 96.5 L593.5 98 L594.1 99.9 L594.5 100 L595.5 103.1 L595.9 111.5 L596.8 116 L597.5 114 L597.8 113.4 L598.2 117.8 L599.1 118.7 L600 123.3 L600.8 121 L601.4 120.1 L602 123 L602.7 126 L604 126.5 L605.5 126 L606.8 125.1 L608 126.5 L609.1 127.4 L610 124 L611 120 L611.5 116 L611.55 116 L611.62 114.25 L611.72 113.57 L612 113.3 L612.28 113.57 L612.38 114.25 L612.45 116 L612.5 116 L613.2 123.3 L614.5 127.8 L616.4 130.1 L619.1 132 L621 133 L641.3 133.2 L641.3 134.3 Z" fill="#000"/>
<line x1="465.9" y1="14.2" x2="465.9" y2="134.8" stroke="#000" stroke-width="0.95"/>
<line x1="462.5" y1="134.3" x2="465.9" y2="134.3" stroke="#000" stroke-width="0.85"/>
<line x1="463.8" y1="131.91" x2="465.9" y2="131.91" stroke="#000" stroke-width="0.7"/>
<line x1="463.8" y1="129.51" x2="465.9" y2="129.51" stroke="#000" stroke-width="0.7"/>
<line x1="463.8" y1="127.12" x2="465.9" y2="127.12" stroke="#000" stroke-width="0.7"/>
<line x1="463.8" y1="124.72" x2="465.9" y2="124.72" stroke="#000" stroke-width="0.7"/>
<line x1="462.5" y1="122.33" x2="465.9" y2="122.33" stroke="#000" stroke-width="0.85"/>
<line x1="463.8" y1="119.94" x2="465.9" y2="119.94" stroke="#000" stroke-width="0.7"/>
<line x1="463.8" y1="117.54" x2="465.9" y2="117.54" stroke="#000" stroke-width="0.7"/>
<line x1="463.8" y1="115.15" x2="465.9" y2="115.15" stroke="#000" stroke-width="0.7"/>
<line x1="463.8" y1="112.75" x2="465.9" y2="112.75" stroke="#000" stroke-width="0.7"/>
<line x1="462.5" y1="110.36" x2="465.9" y2="110.36" stroke="#000" stroke-width="0.85"/>
<line x1="463.8" y1="107.97" x2="465.9" y2="107.97" stroke="#000" stroke-width="0.7"/>
<line x1="463.8" y1="105.57" x2="465.9" y2="105.57" stroke="#000" stroke-width="0.7"/>
<line x1="463.8" y1="103.18" x2="465.9" y2="103.18" stroke="#000" stroke-width="0.7"/>
<line x1="463.8" y1="100.78" x2="465.9" y2="100.78" stroke="#000" stroke-width="0.7"/>
<line x1="462.5" y1="98.39" x2="465.9" y2="98.39" stroke="#000" stroke-width="0.85"/>
<line x1="463.8" y1="96" x2="465.9" y2="96" stroke="#000" stroke-width="0.7"/>
<line x1="463.8" y1="93.6" x2="465.9" y2="93.6" stroke="#000" stroke-width="0.7"/>
<line x1="463.8" y1="91.21" x2="465.9" y2="91.21" stroke="#000" stroke-width="0.7"/>
<line x1="463.8" y1="88.81" x2="465.9" y2="88.81" stroke="#000" stroke-width="0.7"/>
<line x1="462.5" y1="86.42" x2="465.9" y2="86.42" stroke="#000" stroke-width="0.85"/>
<line x1="463.8" y1="84.03" x2="465.9" y2="84.03" stroke="#000" stroke-width="0.7"/>
<line x1="463.8" y1="81.63" x2="465.9" y2="81.63" stroke="#000" stroke-width="0.7"/>
<line x1="463.8" y1="79.24" x2="465.9" y2="79.24" stroke="#000" stroke-width="0.7"/>
<line x1="463.8" y1="76.84" x2="465.9" y2="76.84" stroke="#000" stroke-width="0.7"/>
<line x1="462.5" y1="74.45" x2="465.9" y2="74.45" stroke="#000" stroke-width="0.85"/>
<line x1="463.8" y1="72.06" x2="465.9" y2="72.06" stroke="#000" stroke-width="0.7"/>
<line x1="463.8" y1="69.66" x2="465.9" y2="69.66" stroke="#000" stroke-width="0.7"/>
<line x1="463.8" y1="67.27" x2="465.9" y2="67.27" stroke="#000" stroke-width="0.7"/>
<line x1="463.8" y1="64.87" x2="465.9" y2="64.87" stroke="#000" stroke-width="0.7"/>
<line x1="462.5" y1="62.48" x2="465.9" y2="62.48" stroke="#000" stroke-width="0.85"/>
<line x1="463.8" y1="60.09" x2="465.9" y2="60.09" stroke="#000" stroke-width="0.7"/>
<line x1="463.8" y1="57.69" x2="465.9" y2="57.69" stroke="#000" stroke-width="0.7"/>
<line x1="463.8" y1="55.3" x2="465.9" y2="55.3" stroke="#000" stroke-width="0.7"/>
<line x1="463.8" y1="52.9" x2="465.9" y2="52.9" stroke="#000" stroke-width="0.7"/>
<line x1="462.5" y1="50.51" x2="465.9" y2="50.51" stroke="#000" stroke-width="0.85"/>
<line x1="463.8" y1="48.12" x2="465.9" y2="48.12" stroke="#000" stroke-width="0.7"/>
<line x1="463.8" y1="45.72" x2="465.9" y2="45.72" stroke="#000" stroke-width="0.7"/>
<line x1="463.8" y1="43.33" x2="465.9" y2="43.33" stroke="#000" stroke-width="0.7"/>
<line x1="463.8" y1="40.93" x2="465.9" y2="40.93" stroke="#000" stroke-width="0.7"/>
<line x1="462.5" y1="38.54" x2="465.9" y2="38.54" stroke="#000" stroke-width="0.85"/>
<line x1="463.8" y1="36.15" x2="465.9" y2="36.15" stroke="#000" stroke-width="0.7"/>
<line x1="463.8" y1="33.75" x2="465.9" y2="33.75" stroke="#000" stroke-width="0.7"/>
<line x1="463.8" y1="31.36" x2="465.9" y2="31.36" stroke="#000" stroke-width="0.7"/>
<line x1="463.8" y1="28.96" x2="465.9" y2="28.96" stroke="#000" stroke-width="0.7"/>
<line x1="462.5" y1="26.57" x2="465.9" y2="26.57" stroke="#000" stroke-width="0.85"/>
<line x1="463.8" y1="24.18" x2="465.9" y2="24.18" stroke="#000" stroke-width="0.7"/>
<line x1="463.8" y1="21.78" x2="465.9" y2="21.78" stroke="#000" stroke-width="0.7"/>
<line x1="463.8" y1="19.39" x2="465.9" y2="19.39" stroke="#000" stroke-width="0.7"/>
<line x1="463.8" y1="16.99" x2="465.9" y2="16.99" stroke="#000" stroke-width="0.7"/>
<line x1="462.5" y1="14.6" x2="465.9" y2="14.6" stroke="#000" stroke-width="0.85"/>
<text transform="translate(459.9,136.38) scale(0.86,1)" font-size="4.7" text-anchor="end" fill="#111" stroke="#111" stroke-width="0.1">0</text>
<text transform="translate(459.9,124.41) scale(0.86,1)" font-size="4.7" text-anchor="end" fill="#111" stroke="#111" stroke-width="0.1">10</text>
<text transform="translate(459.9,112.44) scale(0.86,1)" font-size="4.7" text-anchor="end" fill="#111" stroke="#111" stroke-width="0.1">20</text>
<text transform="translate(459.9,100.47) scale(0.86,1)" font-size="4.7" text-anchor="end" fill="#111" stroke="#111" stroke-width="0.1">30</text>
<text transform="translate(459.9,88.5) scale(0.86,1)" font-size="4.7" text-anchor="end" fill="#111" stroke="#111" stroke-width="0.1">40</text>
<text transform="translate(459.9,76.53) scale(0.86,1)" font-size="4.7" text-anchor="end" fill="#111" stroke="#111" stroke-width="0.1">50</text>
<text transform="translate(459.9,64.56) scale(0.86,1)" font-size="4.7" text-anchor="end" fill="#111" stroke="#111" stroke-width="0.1">60</text>
<text transform="translate(459.9,52.59) scale(0.86,1)" font-size="4.7" text-anchor="end" fill="#111" stroke="#111" stroke-width="0.1">70</text>
<text transform="translate(459.9,40.62) scale(0.86,1)" font-size="4.7" text-anchor="end" fill="#111" stroke="#111" stroke-width="0.1">80</text>
<text transform="translate(459.9,28.65) scale(0.86,1)" font-size="4.7" text-anchor="end" fill="#111" stroke="#111" stroke-width="0.1">90</text>
<text transform="translate(459.9,16.68) scale(0.86,1)" font-size="4.7" text-anchor="end" fill="#111" stroke="#111" stroke-width="0.1">100</text>
<line x1="465.5" y1="134.3" x2="641.5" y2="134.3" stroke="#000" stroke-width="1"/>
<line x1="465.6" y1="134.3" x2="465.6" y2="136.9" stroke="#000" stroke-width="0.85"/>
<line x1="471.25" y1="134.3" x2="471.25" y2="136.6" stroke="#000" stroke-width="0.85"/>
<line x1="476.9" y1="134.3" x2="476.9" y2="136.6" stroke="#000" stroke-width="0.85"/>
<line x1="482.55" y1="134.3" x2="482.55" y2="136.6" stroke="#000" stroke-width="0.85"/>
<line x1="488.2" y1="134.3" x2="488.2" y2="136.6" stroke="#000" stroke-width="0.85"/>
<line x1="493.85" y1="134.3" x2="493.85" y2="136.9" stroke="#000" stroke-width="0.85"/>
<line x1="499.5" y1="134.3" x2="499.5" y2="136.6" stroke="#000" stroke-width="0.85"/>
<line x1="505.15" y1="134.3" x2="505.15" y2="136.6" stroke="#000" stroke-width="0.85"/>
<line x1="510.8" y1="134.3" x2="510.8" y2="136.6" stroke="#000" stroke-width="0.85"/>
<line x1="516.45" y1="134.3" x2="516.45" y2="136.6" stroke="#000" stroke-width="0.85"/>
<line x1="522.1" y1="134.3" x2="522.1" y2="136.9" stroke="#000" stroke-width="0.85"/>
<line x1="527.75" y1="134.3" x2="527.75" y2="136.6" stroke="#000" stroke-width="0.85"/>
<line x1="533.4" y1="134.3" x2="533.4" y2="136.6" stroke="#000" stroke-width="0.85"/>
<line x1="539.05" y1="134.3" x2="539.05" y2="136.6" stroke="#000" stroke-width="0.85"/>
<line x1="544.7" y1="134.3" x2="544.7" y2="136.6" stroke="#000" stroke-width="0.85"/>
<line x1="550.35" y1="134.3" x2="550.35" y2="136.9" stroke="#000" stroke-width="0.85"/>
<line x1="556" y1="134.3" x2="556" y2="136.6" stroke="#000" stroke-width="0.85"/>
<line x1="561.65" y1="134.3" x2="561.65" y2="136.6" stroke="#000" stroke-width="0.85"/>
<line x1="567.3" y1="134.3" x2="567.3" y2="136.6" stroke="#000" stroke-width="0.85"/>
<line x1="572.95" y1="134.3" x2="572.95" y2="136.6" stroke="#000" stroke-width="0.85"/>
<line x1="578.6" y1="134.3" x2="578.6" y2="136.9" stroke="#000" stroke-width="0.85"/>
<line x1="584.25" y1="134.3" x2="584.25" y2="136.6" stroke="#000" stroke-width="0.85"/>
<line x1="589.9" y1="134.3" x2="589.9" y2="136.6" stroke="#000" stroke-width="0.85"/>
<line x1="595.55" y1="134.3" x2="595.55" y2="136.6" stroke="#000" stroke-width="0.85"/>
<line x1="601.2" y1="134.3" x2="601.2" y2="136.6" stroke="#000" stroke-width="0.85"/>
<line x1="606.85" y1="134.3" x2="606.85" y2="136.9" stroke="#000" stroke-width="0.85"/>
<line x1="612.5" y1="134.3" x2="612.5" y2="136.6" stroke="#000" stroke-width="0.85"/>
<line x1="618.15" y1="134.3" x2="618.15" y2="136.6" stroke="#000" stroke-width="0.85"/>
<line x1="623.8" y1="134.3" x2="623.8" y2="136.6" stroke="#000" stroke-width="0.85"/>
<line x1="629.45" y1="134.3" x2="629.45" y2="136.6" stroke="#000" stroke-width="0.85"/>
<line x1="635.1" y1="134.3" x2="635.1" y2="136.9" stroke="#000" stroke-width="0.85"/>
<line x1="640.75" y1="134.3" x2="640.75" y2="136.6" stroke="#000" stroke-width="0.85"/>
<text transform="translate(465.1,141.98) scale(0.86,1)" font-size="4.7" text-anchor="middle" fill="#111" stroke="#111" stroke-width="0.1">0</text>
<text transform="translate(493.35,141.98) scale(0.86,1)" font-size="4.7" text-anchor="middle" fill="#111" stroke="#111" stroke-width="0.1">5</text>
<text transform="translate(521.6,141.98) scale(0.86,1)" font-size="4.7" text-anchor="middle" fill="#111" stroke="#111" stroke-width="0.1">10</text>
<text transform="translate(549.85,141.98) scale(0.86,1)" font-size="4.7" text-anchor="middle" fill="#111" stroke="#111" stroke-width="0.1">15</text>
<text transform="translate(578.1,141.98) scale(0.86,1)" font-size="4.7" text-anchor="middle" fill="#111" stroke="#111" stroke-width="0.1">20</text>
<text transform="translate(606.35,141.98) scale(0.86,1)" font-size="4.7" text-anchor="middle" fill="#111" stroke="#111" stroke-width="0.1">25</text>
<text transform="translate(634.6,141.98) scale(0.86,1)" font-size="4.7" text-anchor="middle" fill="#111" stroke="#111" stroke-width="0.1">30</text>
<text transform="translate(551.4,148.72) scale(0.76,1)" font-size="5.46" text-anchor="middle" fill="#111" stroke="#111" stroke-width="0.1">Time (min)</text>
<text transform="translate(453.7,78) rotate(-90) scale(0.87,1)" font-size="4.95" text-anchor="middle" fill="#111" stroke="#111" stroke-width="0.1">Relative Abundance</text>
<line x1="42.38" y1="6.2" x2="81.62" y2="6.2" stroke="#000" stroke-width="1.45"/>
<path d="M85.3 6.2 L80.7 3.75 L80.7 8.65 Z" fill="#000"/>
<path d="M38.7 6.2 L43.3 3.75 L43.3 8.65 Z" fill="#000"/>
<text transform="translate(90.7,8.9) scale(0.84,1)" font-size="9.28" text-anchor="start" fill="#000" stroke="#000" stroke-width="0.12">Fengycin</text>
<line x1="29.48" y1="44.1" x2="57.92" y2="44.1" stroke="#000" stroke-width="1.45"/>
<path d="M61.6 44.1 L57 41.65 L57 46.55 Z" fill="#000"/>
<path d="M25.8 44.1 L30.4 41.65 L30.4 46.55 Z" fill="#000"/>
<text transform="translate(36.9,41.3) scale(0.84,1)" font-size="9.16" text-anchor="start" fill="#000" stroke="#000" stroke-width="0.12">Bm D</text>
<line x1="115.38" y1="79.1" x2="166.32" y2="79.1" stroke="#000" stroke-width="1.45"/>
<path d="M170 79.1 L165.4 76.65 L165.4 81.55 Z" fill="#000"/>
<path d="M111.7 79.1 L116.3 76.65 L116.3 81.55 Z" fill="#000"/>
<text transform="translate(126.9,75.2) scale(0.84,1)" font-size="9.28" text-anchor="start" fill="#000" stroke="#000" stroke-width="0.12">Surfactin</text>
<text transform="translate(213.8,14.2) scale(0.95,1)" font-size="10.82" text-anchor="end" fill="#000" font-weight="bold" stroke="#000" stroke-width="0.12">A</text>
<text transform="translate(198.3,26) scale(0.84,1)" font-size="8.92" text-anchor="start" fill="#000" stroke="#000" stroke-width="0.12">TIC</text>
<text transform="translate(198,35) scale(0.84,1)" font-size="8.92" text-anchor="start" fill="#000" stroke="#000" stroke-width="0.12">BSn5</text>
<text transform="translate(61,13.12) scale(0.76,1)" font-size="5.46" text-anchor="start" fill="#111" stroke="#111" stroke-width="0.1">8.21</text>
<text transform="translate(23.5,52.02) scale(0.76,1)" font-size="5.46" text-anchor="start" fill="#111" stroke="#111" stroke-width="0.1">1.92</text>
<text transform="translate(54,50.82) scale(0.76,1)" font-size="5.46" text-anchor="start" fill="#111" stroke="#111" stroke-width="0.1">7.54</text>
<line x1="60.5" y1="51" x2="62.6" y2="52.5" stroke="#22a022" stroke-width="0.85"/>
<text transform="translate(49.7,96.62) scale(0.76,1)" font-size="5.46" text-anchor="start" fill="#111" stroke="#111" stroke-width="0.1">6.14</text>
<line x1="55" y1="97.2" x2="58.4" y2="97.4" stroke="#22a022" stroke-width="0.85"/>
<text transform="translate(45.9,123.42) scale(0.76,1)" font-size="5.46" text-anchor="start" fill="#111" stroke="#111" stroke-width="0.1">6.05</text>
<line x1="52" y1="123.5" x2="54" y2="124" stroke="#22a022" stroke-width="0.85"/>
<text transform="translate(69.5,110.22) scale(0.76,1)" font-size="5.46" text-anchor="start" fill="#111" stroke="#111" stroke-width="0.1">9.07</text>
<line x1="71.3" y1="110.7" x2="74.3" y2="110.2" stroke="#22a022" stroke-width="0.85"/>
<text transform="translate(80.9,110.22) scale(0.76,1)" font-size="5.46" text-anchor="start" fill="#111" stroke="#111" stroke-width="0.1">9.68</text>
<line x1="74.7" y1="111.3" x2="86.7" y2="110.3" stroke="#22a022" stroke-width="0.85"/>
<text transform="translate(100.4,122.02) scale(0.76,1)" font-size="5.46" text-anchor="start" fill="#111" stroke="#111" stroke-width="0.1">17.38</text>
<line x1="107" y1="122.5" x2="119.4" y2="123.5" stroke="#22a022" stroke-width="0.85"/>
<text transform="translate(115.3,119.42) scale(0.76,1)" font-size="5.46" text-anchor="start" fill="#111" stroke="#111" stroke-width="0.1">18.33</text>
<line x1="122" y1="119" x2="123.2" y2="120.2" stroke="#22a022" stroke-width="0.85"/>
<text transform="translate(119.8,108.72) scale(0.76,1)" font-size="5.46" text-anchor="start" fill="#111" stroke="#111" stroke-width="0.1">19.38</text>
<line x1="126.5" y1="108.7" x2="129.7" y2="109.7" stroke="#22a022" stroke-width="0.85"/>
<text transform="translate(126,97.02) scale(0.76,1)" font-size="5.46" text-anchor="start" fill="#111" stroke="#111" stroke-width="0.1">22.24</text>
<line x1="133.5" y1="96.6" x2="145.5" y2="97.8" stroke="#22a022" stroke-width="0.85"/>
<text transform="translate(140.7,93.92) scale(0.76,1)" font-size="5.46" text-anchor="start" fill="#111" stroke="#111" stroke-width="0.1">22.99</text>
<text transform="translate(149,108.22) scale(0.76,1)" font-size="5.46" text-anchor="start" fill="#111" stroke="#111" stroke-width="0.1">23.38</text>
<line x1="150" y1="109.6" x2="156" y2="108.3" stroke="#22a022" stroke-width="0.85"/>
<text transform="translate(152.8,117.82) scale(0.76,1)" font-size="5.46" text-anchor="start" fill="#111" stroke="#111" stroke-width="0.1">23.62</text>
<text transform="translate(168,122.92) scale(0.76,1)" font-size="5.46" text-anchor="start" fill="#111" stroke="#111" stroke-width="0.1">25.87</text>
<line x1="166.5" y1="123.8" x2="175.5" y2="123.6" stroke="#22a022" stroke-width="0.85"/>
<line x1="152" y1="49.1" x2="154.6" y2="46.2" stroke="#2a6a2a" stroke-width="0.9"/>
<line x1="262.68" y1="19.1" x2="296.52" y2="19.1" stroke="#000" stroke-width="1.45"/>
<path d="M300.2 19.1 L295.6 16.65 L295.6 21.55 Z" fill="#000"/>
<path d="M259 19.1 L263.6 16.65 L263.6 21.55 Z" fill="#000"/>
<text transform="translate(303.9,21) scale(0.84,1)" font-size="9.28" text-anchor="start" fill="#000" stroke="#000" stroke-width="0.12">Fengycin</text>
<line x1="253.58" y1="49.1" x2="287.52" y2="49.1" stroke="#000" stroke-width="1.45"/>
<path d="M291.2 49.1 L286.6 46.65 L286.6 51.55 Z" fill="#000"/>
<path d="M249.9 49.1 L254.5 46.65 L254.5 51.55 Z" fill="#000"/>
<text transform="translate(258.5,45.1) scale(0.84,1)" font-size="9.16" text-anchor="start" fill="#000" stroke="#000" stroke-width="0.12">Bm D</text>
<line x1="329.58" y1="71.8" x2="381.02" y2="71.8" stroke="#000" stroke-width="1.45"/>
<path d="M384.7 71.8 L380.1 69.35 L380.1 74.25 Z" fill="#000"/>
<path d="M325.9 71.8 L330.5 69.35 L330.5 74.25 Z" fill="#000"/>
<text transform="translate(342,67.2) scale(0.84,1)" font-size="9.28" text-anchor="start" fill="#000" stroke="#000" stroke-width="0.12">Surfactin</text>
<text transform="translate(437.2,13.6) scale(0.95,1)" font-size="10.82" text-anchor="end" fill="#000" font-weight="bold" stroke="#000" stroke-width="0.12">B</text>
<text transform="translate(419.5,25.4) scale(0.84,1)" font-size="8.92" text-anchor="start" fill="#000" stroke="#000" stroke-width="0.12">TIC</text>
<text transform="translate(419.2,35) scale(0.84,1)" font-size="8.92" text-anchor="start" fill="#000" stroke="#000" stroke-width="0.12">FZB42</text>
<text transform="translate(246.5,13.22) scale(0.76,1)" font-size="5.46" text-anchor="start" fill="#111" stroke="#111" stroke-width="0.1">1.48</text>
<text transform="translate(277.3,32.02) scale(0.76,1)" font-size="5.46" text-anchor="start" fill="#111" stroke="#111" stroke-width="0.1">6.85</text>
<text transform="translate(289.7,33.72) scale(0.76,1)" font-size="5.46" text-anchor="start" fill="#111" stroke="#111" stroke-width="0.1">7.65</text>
<line x1="285.9" y1="34.6" x2="294.6" y2="33.1" stroke="#22a022" stroke-width="0.85"/>
<text transform="translate(257.3,56.12) scale(0.76,1)" font-size="5.46" text-anchor="start" fill="#111" stroke="#111" stroke-width="0.1">3.41</text>
<text transform="translate(270.2,63.32) scale(0.76,1)" font-size="5.46" text-anchor="start" fill="#111" stroke="#111" stroke-width="0.1">5.77</text>
<text transform="translate(287.8,108.42) scale(0.76,1)" font-size="5.46" text-anchor="start" fill="#111" stroke="#111" stroke-width="0.1">9.24</text>
<line x1="289.6" y1="109.3" x2="294.5" y2="108.3" stroke="#22a022" stroke-width="0.85"/>
<text transform="translate(291.9,126.12) scale(0.76,1)" font-size="5.46" text-anchor="start" fill="#111" stroke="#111" stroke-width="0.1">9.97</text>
<line x1="294.5" y1="127.4" x2="298.5" y2="126.8" stroke="#22a022" stroke-width="0.85"/>
<text transform="translate(307,128.32) scale(0.76,1)" font-size="5.46" text-anchor="start" fill="#111" stroke="#111" stroke-width="0.1">14.22</text>
<line x1="314" y1="128.4" x2="323" y2="129" stroke="#22a022" stroke-width="0.85"/>
<text transform="translate(322,125.42) scale(0.76,1)" font-size="5.46" text-anchor="start" fill="#111" stroke="#111" stroke-width="0.1">15.31</text>
<text transform="translate(335.6,85.42) scale(0.76,1)" font-size="5.46" text-anchor="start" fill="#111" stroke="#111" stroke-width="0.1">17.59</text>
<text transform="translate(351,82.72) scale(0.76,1)" font-size="5.46" text-anchor="start" fill="#111" stroke="#111" stroke-width="0.1">20.34</text>
<text transform="translate(363.8,92.52) scale(0.76,1)" font-size="5.46" text-anchor="start" fill="#111" stroke="#111" stroke-width="0.1">22.84</text>
<text transform="translate(372,106.62) scale(0.76,1)" font-size="5.46" text-anchor="start" fill="#111" stroke="#111" stroke-width="0.1">23.22</text>
<line x1="374.1" y1="107.6" x2="378.5" y2="106.6" stroke="#22a022" stroke-width="0.85"/>
<text transform="translate(379.6,115.22) scale(0.76,1)" font-size="5.46" text-anchor="start" fill="#111" stroke="#111" stroke-width="0.1">25.06</text>
<line x1="384.3" y1="116" x2="387.5" y2="115" stroke="#22a022" stroke-width="0.85"/>
<text transform="translate(385.7,121.12) scale(0.76,1)" font-size="5.46" text-anchor="start" fill="#111" stroke="#111" stroke-width="0.1">25.90</text>
<line x1="389.8" y1="122" x2="392" y2="121" stroke="#22a022" stroke-width="0.85"/>
<line x1="484.28" y1="5.2" x2="517.62" y2="5.2" stroke="#000" stroke-width="1.45"/>
<path d="M521.3 5.2 L516.7 2.75 L516.7 7.65 Z" fill="#000"/>
<path d="M480.6 5.2 L485.2 2.75 L485.2 7.65 Z" fill="#000"/>
<text transform="translate(525.5,8.6) scale(0.84,1)" font-size="9.28" text-anchor="start" fill="#000" stroke="#000" stroke-width="0.12">Fengycin</text>
<line x1="475.58" y1="48" x2="503.32" y2="48" stroke="#000" stroke-width="1.45"/>
<path d="M507 48 L502.4 45.55 L502.4 50.45 Z" fill="#000"/>
<path d="M471.9 48 L476.5 45.55 L476.5 50.45 Z" fill="#000"/>
<text transform="translate(482.4,44.4) scale(0.84,1)" font-size="9.16" text-anchor="start" fill="#000" stroke="#000" stroke-width="0.12">Bm D</text>
<line x1="555.48" y1="71.8" x2="606.62" y2="71.8" stroke="#000" stroke-width="1.45"/>
<path d="M610.3 71.8 L605.7 69.35 L605.7 74.25 Z" fill="#000"/>
<path d="M551.8 71.8 L556.4 69.35 L556.4 74.25 Z" fill="#000"/>
<text transform="translate(567.6,67.1) scale(0.84,1)" font-size="9.28" text-anchor="start" fill="#000" stroke="#000" stroke-width="0.12">Surfactin</text>
<text transform="translate(664,13.6) scale(0.95,1)" font-size="10.82" text-anchor="end" fill="#000" font-weight="bold" stroke="#000" stroke-width="0.12">C</text>
<text transform="translate(645,25.5) scale(0.84,1)" font-size="8.92" text-anchor="start" fill="#000" stroke="#000" stroke-width="0.12">TIC</text>
<text transform="translate(645,35.2) scale(0.84,1)" font-size="8.92" text-anchor="start" fill="#000" stroke="#000" stroke-width="0.12">GB03</text>
<text transform="translate(500.3,13.22) scale(0.76,1)" font-size="5.46" text-anchor="start" fill="#111" stroke="#111" stroke-width="0.1">6.92</text>
<text transform="translate(467.6,24.32) scale(0.76,1)" font-size="5.46" text-anchor="start" fill="#111" stroke="#111" stroke-width="0.1">1.11</text>
<text transform="translate(507.7,26.22) scale(0.76,1)" font-size="5.46" text-anchor="start" fill="#111" stroke="#111" stroke-width="0.1">7.67</text>
<line x1="509.3" y1="27.2" x2="512" y2="26" stroke="#22a022" stroke-width="0.85"/>
<text transform="translate(475,60.02) scale(0.76,1)" font-size="5.46" text-anchor="start" fill="#111" stroke="#111" stroke-width="0.1">1.57</text>
<line x1="475.3" y1="61.5" x2="480" y2="60" stroke="#22a022" stroke-width="0.85"/>
<text transform="translate(487.9,57.62) scale(0.76,1)" font-size="5.46" text-anchor="start" fill="#111" stroke="#111" stroke-width="0.1">4.62</text>
<text transform="translate(480.5,78.02) scale(0.76,1)" font-size="5.46" text-anchor="start" fill="#111" stroke="#111" stroke-width="0.1">4.13</text>
<line x1="487" y1="78" x2="493" y2="78.5" stroke="#22a022" stroke-width="0.85"/>
<text transform="translate(512,68.12) scale(0.76,1)" font-size="5.46" text-anchor="start" fill="#111" stroke="#111" stroke-width="0.1">8.24</text>
<line x1="513" y1="68.8" x2="516" y2="67.6" stroke="#22a022" stroke-width="0.85"/>
<text transform="translate(478.5,108.42) scale(0.76,1)" font-size="5.46" text-anchor="start" fill="#111" stroke="#111" stroke-width="0.1">2.79</text>
<text transform="translate(514.5,118.22) scale(0.76,1)" font-size="5.46" text-anchor="start" fill="#111" stroke="#111" stroke-width="0.1">9.07</text>
<line x1="517.3" y1="118.5" x2="520" y2="118.5" stroke="#22a022" stroke-width="0.85"/>
<text transform="translate(543.6,128.92) scale(0.76,1)" font-size="5.46" text-anchor="start" fill="#111" stroke="#111" stroke-width="0.1">14.84</text>
<text transform="translate(551.8,120.72) scale(0.76,1)" font-size="5.46" text-anchor="start" fill="#111" stroke="#111" stroke-width="0.1">17.62</text>
<line x1="559" y1="120.3" x2="565.5" y2="121.5" stroke="#22a022" stroke-width="0.85"/>
<text transform="translate(565.9,117.32) scale(0.76,1)" font-size="5.46" text-anchor="start" fill="#111" stroke="#111" stroke-width="0.1">19.51</text>
<line x1="572.7" y1="117.4" x2="577.3" y2="118.3" stroke="#22a022" stroke-width="0.85"/>
<text transform="translate(574.1,106.32) scale(0.76,1)" font-size="5.46" text-anchor="start" fill="#111" stroke="#111" stroke-width="0.1">20.34</text>
<text transform="translate(584.1,87.22) scale(0.76,1)" font-size="5.46" text-anchor="start" fill="#111" stroke="#111" stroke-width="0.1">22.14</text>
<text transform="translate(596.4,112.82) scale(0.76,1)" font-size="5.46" text-anchor="start" fill="#111" stroke="#111" stroke-width="0.1">23.32</text>
<line x1="597.7" y1="113.3" x2="603.2" y2="112.4" stroke="#22a022" stroke-width="0.85"/>
<text transform="translate(610.5,113.72) scale(0.76,1)" font-size="5.46" text-anchor="start" fill="#111" stroke="#111" stroke-width="0.1">25.89</text>
<line x1="612.3" y1="113.7" x2="617.7" y2="113.1" stroke="#22a022" stroke-width="0.85"/>
<line x1="20.3" y1="174" x2="20.3" y2="288.1" stroke="#000" stroke-width="0.95"/>
<line x1="16.9" y1="287.6" x2="20.3" y2="287.6" stroke="#000" stroke-width="0.85"/>
<line x1="18.2" y1="285.34" x2="20.3" y2="285.34" stroke="#000" stroke-width="0.7"/>
<line x1="18.2" y1="283.07" x2="20.3" y2="283.07" stroke="#000" stroke-width="0.7"/>
<line x1="18.2" y1="280.81" x2="20.3" y2="280.81" stroke="#000" stroke-width="0.7"/>
<line x1="18.2" y1="278.54" x2="20.3" y2="278.54" stroke="#000" stroke-width="0.7"/>
<line x1="16.9" y1="276.28" x2="20.3" y2="276.28" stroke="#000" stroke-width="0.85"/>
<line x1="18.2" y1="274.02" x2="20.3" y2="274.02" stroke="#000" stroke-width="0.7"/>
<line x1="18.2" y1="271.75" x2="20.3" y2="271.75" stroke="#000" stroke-width="0.7"/>
<line x1="18.2" y1="269.49" x2="20.3" y2="269.49" stroke="#000" stroke-width="0.7"/>
<line x1="18.2" y1="267.22" x2="20.3" y2="267.22" stroke="#000" stroke-width="0.7"/>
<line x1="16.9" y1="264.96" x2="20.3" y2="264.96" stroke="#000" stroke-width="0.85"/>
<line x1="18.2" y1="262.7" x2="20.3" y2="262.7" stroke="#000" stroke-width="0.7"/>
<line x1="18.2" y1="260.43" x2="20.3" y2="260.43" stroke="#000" stroke-width="0.7"/>
<line x1="18.2" y1="258.17" x2="20.3" y2="258.17" stroke="#000" stroke-width="0.7"/>
<line x1="18.2" y1="255.9" x2="20.3" y2="255.9" stroke="#000" stroke-width="0.7"/>
<line x1="16.9" y1="253.64" x2="20.3" y2="253.64" stroke="#000" stroke-width="0.85"/>
<line x1="18.2" y1="251.38" x2="20.3" y2="251.38" stroke="#000" stroke-width="0.7"/>
<line x1="18.2" y1="249.11" x2="20.3" y2="249.11" stroke="#000" stroke-width="0.7"/>
<line x1="18.2" y1="246.85" x2="20.3" y2="246.85" stroke="#000" stroke-width="0.7"/>
<line x1="18.2" y1="244.58" x2="20.3" y2="244.58" stroke="#000" stroke-width="0.7"/>
<line x1="16.9" y1="242.32" x2="20.3" y2="242.32" stroke="#000" stroke-width="0.85"/>
<line x1="18.2" y1="240.06" x2="20.3" y2="240.06" stroke="#000" stroke-width="0.7"/>
<line x1="18.2" y1="237.79" x2="20.3" y2="237.79" stroke="#000" stroke-width="0.7"/>
<line x1="18.2" y1="235.53" x2="20.3" y2="235.53" stroke="#000" stroke-width="0.7"/>
<line x1="18.2" y1="233.26" x2="20.3" y2="233.26" stroke="#000" stroke-width="0.7"/>
<line x1="16.9" y1="231" x2="20.3" y2="231" stroke="#000" stroke-width="0.85"/>
<line x1="18.2" y1="228.74" x2="20.3" y2="228.74" stroke="#000" stroke-width="0.7"/>
<line x1="18.2" y1="226.47" x2="20.3" y2="226.47" stroke="#000" stroke-width="0.7"/>
<line x1="18.2" y1="224.21" x2="20.3" y2="224.21" stroke="#000" stroke-width="0.7"/>
<line x1="18.2" y1="221.94" x2="20.3" y2="221.94" stroke="#000" stroke-width="0.7"/>
<line x1="16.9" y1="219.68" x2="20.3" y2="219.68" stroke="#000" stroke-width="0.85"/>
<line x1="18.2" y1="217.42" x2="20.3" y2="217.42" stroke="#000" stroke-width="0.7"/>
<line x1="18.2" y1="215.15" x2="20.3" y2="215.15" stroke="#000" stroke-width="0.7"/>
<line x1="18.2" y1="212.89" x2="20.3" y2="212.89" stroke="#000" stroke-width="0.7"/>
<line x1="18.2" y1="210.62" x2="20.3" y2="210.62" stroke="#000" stroke-width="0.7"/>
<line x1="16.9" y1="208.36" x2="20.3" y2="208.36" stroke="#000" stroke-width="0.85"/>
<line x1="18.2" y1="206.1" x2="20.3" y2="206.1" stroke="#000" stroke-width="0.7"/>
<line x1="18.2" y1="203.83" x2="20.3" y2="203.83" stroke="#000" stroke-width="0.7"/>
<line x1="18.2" y1="201.57" x2="20.3" y2="201.57" stroke="#000" stroke-width="0.7"/>
<line x1="18.2" y1="199.3" x2="20.3" y2="199.3" stroke="#000" stroke-width="0.7"/>
<line x1="16.9" y1="197.04" x2="20.3" y2="197.04" stroke="#000" stroke-width="0.85"/>
<line x1="18.2" y1="194.78" x2="20.3" y2="194.78" stroke="#000" stroke-width="0.7"/>
<line x1="18.2" y1="192.51" x2="20.3" y2="192.51" stroke="#000" stroke-width="0.7"/>
<line x1="18.2" y1="190.25" x2="20.3" y2="190.25" stroke="#000" stroke-width="0.7"/>
<line x1="18.2" y1="187.98" x2="20.3" y2="187.98" stroke="#000" stroke-width="0.7"/>
<line x1="16.9" y1="185.72" x2="20.3" y2="185.72" stroke="#000" stroke-width="0.85"/>
<line x1="18.2" y1="183.46" x2="20.3" y2="183.46" stroke="#000" stroke-width="0.7"/>
<line x1="18.2" y1="181.19" x2="20.3" y2="181.19" stroke="#000" stroke-width="0.7"/>
<line x1="18.2" y1="178.93" x2="20.3" y2="178.93" stroke="#000" stroke-width="0.7"/>
<line x1="18.2" y1="176.66" x2="20.3" y2="176.66" stroke="#000" stroke-width="0.7"/>
<line x1="16.9" y1="174.4" x2="20.3" y2="174.4" stroke="#000" stroke-width="0.85"/>
<text transform="translate(14.3,289.68) scale(0.86,1)" font-size="4.7" text-anchor="end" fill="#111" stroke="#111" stroke-width="0.1">0</text>
<text transform="translate(14.3,278.36) scale(0.86,1)" font-size="4.7" text-anchor="end" fill="#111" stroke="#111" stroke-width="0.1">10</text>
<text transform="translate(14.3,267.04) scale(0.86,1)" font-size="4.7" text-anchor="end" fill="#111" stroke="#111" stroke-width="0.1">20</text>
<text transform="translate(14.3,255.72) scale(0.86,1)" font-size="4.7" text-anchor="end" fill="#111" stroke="#111" stroke-width="0.1">30</text>
<text transform="translate(14.3,244.4) scale(0.86,1)" font-size="4.7" text-anchor="end" fill="#111" stroke="#111" stroke-width="0.1">40</text>
<text transform="translate(14.3,233.08) scale(0.86,1)" font-size="4.7" text-anchor="end" fill="#111" stroke="#111" stroke-width="0.1">50</text>
<text transform="translate(14.3,221.76) scale(0.86,1)" font-size="4.7" text-anchor="end" fill="#111" stroke="#111" stroke-width="0.1">60</text>
<text transform="translate(14.3,210.44) scale(0.86,1)" font-size="4.7" text-anchor="end" fill="#111" stroke="#111" stroke-width="0.1">70</text>
<text transform="translate(14.3,199.12) scale(0.86,1)" font-size="4.7" text-anchor="end" fill="#111" stroke="#111" stroke-width="0.1">80</text>
<text transform="translate(14.3,187.8) scale(0.86,1)" font-size="4.7" text-anchor="end" fill="#111" stroke="#111" stroke-width="0.1">90</text>
<text transform="translate(14.3,176.48) scale(0.86,1)" font-size="4.7" text-anchor="end" fill="#111" stroke="#111" stroke-width="0.1">100</text>
<line x1="19.9" y1="287.6" x2="214" y2="287.6" stroke="#000" stroke-width="1"/>
<line x1="19.6" y1="287.6" x2="19.6" y2="291.4" stroke="#000" stroke-width="0.85"/>
<line x1="21.54" y1="287.6" x2="21.54" y2="290.3" stroke="#000" stroke-width="0.6"/>
<line x1="23.47" y1="287.6" x2="23.47" y2="290.3" stroke="#000" stroke-width="0.6"/>
<line x1="25.41" y1="287.6" x2="25.41" y2="290.3" stroke="#000" stroke-width="0.6"/>
<line x1="27.34" y1="287.6" x2="27.34" y2="290.3" stroke="#000" stroke-width="0.6"/>
<line x1="29.28" y1="287.6" x2="29.28" y2="290.3" stroke="#000" stroke-width="0.6"/>
<line x1="31.21" y1="287.6" x2="31.21" y2="290.3" stroke="#000" stroke-width="0.6"/>
<line x1="33.15" y1="287.6" x2="33.15" y2="290.3" stroke="#000" stroke-width="0.6"/>
<line x1="35.08" y1="287.6" x2="35.08" y2="290.3" stroke="#000" stroke-width="0.6"/>
<line x1="37.02" y1="287.6" x2="37.02" y2="290.3" stroke="#000" stroke-width="0.6"/>
<line x1="38.95" y1="287.6" x2="38.95" y2="290.3" stroke="#000" stroke-width="0.6"/>
<line x1="40.89" y1="287.6" x2="40.89" y2="290.3" stroke="#000" stroke-width="0.6"/>
<line x1="42.82" y1="287.6" x2="42.82" y2="290.3" stroke="#000" stroke-width="0.6"/>
<line x1="44.76" y1="287.6" x2="44.76" y2="290.3" stroke="#000" stroke-width="0.6"/>
<line x1="46.69" y1="287.6" x2="46.69" y2="290.3" stroke="#000" stroke-width="0.6"/>
<line x1="48.62" y1="287.6" x2="48.62" y2="290.3" stroke="#000" stroke-width="0.6"/>
<line x1="50.56" y1="287.6" x2="50.56" y2="290.3" stroke="#000" stroke-width="0.6"/>
<line x1="52.5" y1="287.6" x2="52.5" y2="290.3" stroke="#000" stroke-width="0.6"/>
<line x1="54.43" y1="287.6" x2="54.43" y2="290.3" stroke="#000" stroke-width="0.6"/>
<line x1="56.37" y1="287.6" x2="56.37" y2="290.3" stroke="#000" stroke-width="0.6"/>
<line x1="58.3" y1="287.6" x2="58.3" y2="291.4" stroke="#000" stroke-width="0.85"/>
<line x1="60.23" y1="287.6" x2="60.23" y2="290.3" stroke="#000" stroke-width="0.6"/>
<line x1="62.17" y1="287.6" x2="62.17" y2="290.3" stroke="#000" stroke-width="0.6"/>
<line x1="64.11" y1="287.6" x2="64.11" y2="290.3" stroke="#000" stroke-width="0.6"/>
<line x1="66.04" y1="287.6" x2="66.04" y2="290.3" stroke="#000" stroke-width="0.6"/>
<line x1="67.97" y1="287.6" x2="67.97" y2="290.3" stroke="#000" stroke-width="0.6"/>
<line x1="69.91" y1="287.6" x2="69.91" y2="290.3" stroke="#000" stroke-width="0.6"/>
<line x1="71.84" y1="287.6" x2="71.84" y2="290.3" stroke="#000" stroke-width="0.6"/>
<line x1="73.78" y1="287.6" x2="73.78" y2="290.3" stroke="#000" stroke-width="0.6"/>
<line x1="75.72" y1="287.6" x2="75.72" y2="290.3" stroke="#000" stroke-width="0.6"/>
<line x1="77.65" y1="287.6" x2="77.65" y2="290.3" stroke="#000" stroke-width="0.6"/>
<line x1="79.59" y1="287.6" x2="79.59" y2="290.3" stroke="#000" stroke-width="0.6"/>
<line x1="81.52" y1="287.6" x2="81.52" y2="290.3" stroke="#000" stroke-width="0.6"/>
<line x1="83.46" y1="287.6" x2="83.46" y2="290.3" stroke="#000" stroke-width="0.6"/>
<line x1="85.39" y1="287.6" x2="85.39" y2="290.3" stroke="#000" stroke-width="0.6"/>
<line x1="87.33" y1="287.6" x2="87.33" y2="290.3" stroke="#000" stroke-width="0.6"/>
<line x1="89.26" y1="287.6" x2="89.26" y2="290.3" stroke="#000" stroke-width="0.6"/>
<line x1="91.19" y1="287.6" x2="91.19" y2="290.3" stroke="#000" stroke-width="0.6"/>
<line x1="93.13" y1="287.6" x2="93.13" y2="290.3" stroke="#000" stroke-width="0.6"/>
<line x1="95.06" y1="287.6" x2="95.06" y2="290.3" stroke="#000" stroke-width="0.6"/>
<line x1="97" y1="287.6" x2="97" y2="291.4" stroke="#000" stroke-width="0.85"/>
<line x1="98.94" y1="287.6" x2="98.94" y2="290.3" stroke="#000" stroke-width="0.6"/>
<line x1="100.87" y1="287.6" x2="100.87" y2="290.3" stroke="#000" stroke-width="0.6"/>
<line x1="102.81" y1="287.6" x2="102.81" y2="290.3" stroke="#000" stroke-width="0.6"/>
<line x1="104.74" y1="287.6" x2="104.74" y2="290.3" stroke="#000" stroke-width="0.6"/>
<line x1="106.68" y1="287.6" x2="106.68" y2="290.3" stroke="#000" stroke-width="0.6"/>
<line x1="108.61" y1="287.6" x2="108.61" y2="290.3" stroke="#000" stroke-width="0.6"/>
<line x1="110.55" y1="287.6" x2="110.55" y2="290.3" stroke="#000" stroke-width="0.6"/>
<line x1="112.48" y1="287.6" x2="112.48" y2="290.3" stroke="#000" stroke-width="0.6"/>
<line x1="114.41" y1="287.6" x2="114.41" y2="290.3" stroke="#000" stroke-width="0.6"/>
<line x1="116.35" y1="287.6" x2="116.35" y2="290.3" stroke="#000" stroke-width="0.6"/>
<line x1="118.28" y1="287.6" x2="118.28" y2="290.3" stroke="#000" stroke-width="0.6"/>
<line x1="120.22" y1="287.6" x2="120.22" y2="290.3" stroke="#000" stroke-width="0.6"/>
<line x1="122.16" y1="287.6" x2="122.16" y2="290.3" stroke="#000" stroke-width="0.6"/>
<line x1="124.09" y1="287.6" x2="124.09" y2="290.3" stroke="#000" stroke-width="0.6"/>
<line x1="126.03" y1="287.6" x2="126.03" y2="290.3" stroke="#000" stroke-width="0.6"/>
<line x1="127.96" y1="287.6" x2="127.96" y2="290.3" stroke="#000" stroke-width="0.6"/>
<line x1="129.9" y1="287.6" x2="129.9" y2="290.3" stroke="#000" stroke-width="0.6"/>
<line x1="131.83" y1="287.6" x2="131.83" y2="290.3" stroke="#000" stroke-width="0.6"/>
<line x1="133.77" y1="287.6" x2="133.77" y2="290.3" stroke="#000" stroke-width="0.6"/>
<line x1="135.7" y1="287.6" x2="135.7" y2="291.4" stroke="#000" stroke-width="0.85"/>
<line x1="137.63" y1="287.6" x2="137.63" y2="290.3" stroke="#000" stroke-width="0.6"/>
<line x1="139.57" y1="287.6" x2="139.57" y2="290.3" stroke="#000" stroke-width="0.6"/>
<line x1="141.5" y1="287.6" x2="141.5" y2="290.3" stroke="#000" stroke-width="0.6"/>
<line x1="143.44" y1="287.6" x2="143.44" y2="290.3" stroke="#000" stroke-width="0.6"/>
<line x1="145.38" y1="287.6" x2="145.38" y2="290.3" stroke="#000" stroke-width="0.6"/>
<line x1="147.31" y1="287.6" x2="147.31" y2="290.3" stroke="#000" stroke-width="0.6"/>
<line x1="149.25" y1="287.6" x2="149.25" y2="290.3" stroke="#000" stroke-width="0.6"/>
<line x1="151.18" y1="287.6" x2="151.18" y2="290.3" stroke="#000" stroke-width="0.6"/>
<line x1="153.12" y1="287.6" x2="153.12" y2="290.3" stroke="#000" stroke-width="0.6"/>
<line x1="155.05" y1="287.6" x2="155.05" y2="290.3" stroke="#000" stroke-width="0.6"/>
<line x1="156.98" y1="287.6" x2="156.98" y2="290.3" stroke="#000" stroke-width="0.6"/>
<line x1="158.92" y1="287.6" x2="158.92" y2="290.3" stroke="#000" stroke-width="0.6"/>
<line x1="160.85" y1="287.6" x2="160.85" y2="290.3" stroke="#000" stroke-width="0.6"/>
<line x1="162.79" y1="287.6" x2="162.79" y2="290.3" stroke="#000" stroke-width="0.6"/>
<line x1="164.72" y1="287.6" x2="164.72" y2="290.3" stroke="#000" stroke-width="0.6"/>
<line x1="166.66" y1="287.6" x2="166.66" y2="290.3" stroke="#000" stroke-width="0.6"/>
<line x1="168.59" y1="287.6" x2="168.59" y2="290.3" stroke="#000" stroke-width="0.6"/>
<line x1="170.53" y1="287.6" x2="170.53" y2="290.3" stroke="#000" stroke-width="0.6"/>
<line x1="172.47" y1="287.6" x2="172.47" y2="290.3" stroke="#000" stroke-width="0.6"/>
<line x1="174.4" y1="287.6" x2="174.4" y2="291.4" stroke="#000" stroke-width="0.85"/>
<line x1="176.34" y1="287.6" x2="176.34" y2="290.3" stroke="#000" stroke-width="0.6"/>
<line x1="178.27" y1="287.6" x2="178.27" y2="290.3" stroke="#000" stroke-width="0.6"/>
<line x1="180.21" y1="287.6" x2="180.21" y2="290.3" stroke="#000" stroke-width="0.6"/>
<line x1="182.14" y1="287.6" x2="182.14" y2="290.3" stroke="#000" stroke-width="0.6"/>
<line x1="184.07" y1="287.6" x2="184.07" y2="290.3" stroke="#000" stroke-width="0.6"/>
<line x1="186.01" y1="287.6" x2="186.01" y2="290.3" stroke="#000" stroke-width="0.6"/>
<line x1="187.94" y1="287.6" x2="187.94" y2="290.3" stroke="#000" stroke-width="0.6"/>
<line x1="189.88" y1="287.6" x2="189.88" y2="290.3" stroke="#000" stroke-width="0.6"/>
<line x1="191.81" y1="287.6" x2="191.81" y2="290.3" stroke="#000" stroke-width="0.6"/>
<line x1="193.75" y1="287.6" x2="193.75" y2="290.3" stroke="#000" stroke-width="0.6"/>
<line x1="195.69" y1="287.6" x2="195.69" y2="290.3" stroke="#000" stroke-width="0.6"/>
<line x1="197.62" y1="287.6" x2="197.62" y2="290.3" stroke="#000" stroke-width="0.6"/>
<line x1="199.56" y1="287.6" x2="199.56" y2="290.3" stroke="#000" stroke-width="0.6"/>
<line x1="201.49" y1="287.6" x2="201.49" y2="290.3" stroke="#000" stroke-width="0.6"/>
<line x1="203.43" y1="287.6" x2="203.43" y2="290.3" stroke="#000" stroke-width="0.6"/>
<line x1="205.36" y1="287.6" x2="205.36" y2="290.3" stroke="#000" stroke-width="0.6"/>
<line x1="207.29" y1="287.6" x2="207.29" y2="290.3" stroke="#000" stroke-width="0.6"/>
<line x1="209.23" y1="287.6" x2="209.23" y2="290.3" stroke="#000" stroke-width="0.6"/>
<line x1="211.16" y1="287.6" x2="211.16" y2="290.3" stroke="#000" stroke-width="0.6"/>
<line x1="213.1" y1="287.6" x2="213.1" y2="291.4" stroke="#000" stroke-width="0.85"/>
<line x1="21.1" y1="287.6" x2="21.1" y2="286.7" stroke="#000" stroke-width="0.6"/>
<line x1="22.31" y1="287.6" x2="22.31" y2="287" stroke="#000" stroke-width="0.6"/>
<line x1="23.24" y1="287.6" x2="23.24" y2="286.1" stroke="#000" stroke-width="0.6"/>
<line x1="24.63" y1="287.6" x2="24.63" y2="286.1" stroke="#000" stroke-width="0.6"/>
<line x1="25.91" y1="287.6" x2="25.91" y2="286.7" stroke="#000" stroke-width="0.6"/>
<line x1="26.7" y1="287.6" x2="26.7" y2="287" stroke="#000" stroke-width="0.6"/>
<line x1="28.2" y1="287.6" x2="28.2" y2="286.1" stroke="#000" stroke-width="0.6"/>
<line x1="29.29" y1="287.6" x2="29.29" y2="287" stroke="#000" stroke-width="0.6"/>
<line x1="30.62" y1="287.6" x2="30.62" y2="286.4" stroke="#000" stroke-width="0.6"/>
<line x1="31.97" y1="287.6" x2="31.97" y2="286.7" stroke="#000" stroke-width="0.6"/>
<line x1="33.2" y1="287.6" x2="33.2" y2="287" stroke="#000" stroke-width="0.6"/>
<line x1="34.71" y1="287.6" x2="34.71" y2="287" stroke="#000" stroke-width="0.6"/>
<line x1="35.43" y1="287.6" x2="35.43" y2="285.6" stroke="#000" stroke-width="0.6"/>
<line x1="36.14" y1="287.6" x2="36.14" y2="286.1" stroke="#000" stroke-width="0.6"/>
<line x1="37.46" y1="287.6" x2="37.46" y2="286.1" stroke="#000" stroke-width="0.6"/>
<line x1="38.81" y1="287.6" x2="38.81" y2="285.6" stroke="#000" stroke-width="0.6"/>
<line x1="39.71" y1="287.6" x2="39.71" y2="286.1" stroke="#000" stroke-width="0.6"/>
<line x1="41.25" y1="287.6" x2="41.25" y2="285.6" stroke="#000" stroke-width="0.6"/>
<line x1="42.16" y1="287.6" x2="42.16" y2="286.7" stroke="#000" stroke-width="0.6"/>
<line x1="43.47" y1="287.6" x2="43.47" y2="286.1" stroke="#000" stroke-width="0.6"/>
<line x1="45.03" y1="287.6" x2="45.03" y2="287" stroke="#000" stroke-width="0.6"/>
<line x1="46.1" y1="287.6" x2="46.1" y2="285.6" stroke="#000" stroke-width="0.6"/>
<line x1="47.63" y1="287.6" x2="47.63" y2="287" stroke="#000" stroke-width="0.6"/>
<line x1="48.5" y1="287.6" x2="48.5" y2="286.4" stroke="#000" stroke-width="0.6"/>
<line x1="49.31" y1="287.6" x2="49.31" y2="286.4" stroke="#000" stroke-width="0.6"/>
<line x1="50.82" y1="287.6" x2="50.82" y2="285.6" stroke="#000" stroke-width="0.6"/>
<line x1="52.36" y1="287.6" x2="52.36" y2="286.1" stroke="#000" stroke-width="0.6"/>
<line x1="53.52" y1="287.6" x2="53.52" y2="286.7" stroke="#000" stroke-width="0.6"/>
<line x1="54.49" y1="287.6" x2="54.49" y2="285.6" stroke="#000" stroke-width="0.6"/>
<line x1="56.07" y1="287.6" x2="56.07" y2="286.1" stroke="#000" stroke-width="0.6"/>
<line x1="57.53" y1="287.6" x2="57.53" y2="285.6" stroke="#000" stroke-width="0.6"/>
<line x1="58.58" y1="287.6" x2="58.58" y2="287" stroke="#000" stroke-width="0.6"/>
<line x1="59.71" y1="287.6" x2="59.71" y2="286.1" stroke="#000" stroke-width="0.6"/>
<line x1="60.79" y1="287.6" x2="60.79" y2="286.7" stroke="#000" stroke-width="0.6"/>
<line x1="61.82" y1="287.6" x2="61.82" y2="286.4" stroke="#000" stroke-width="0.6"/>
<line x1="62.59" y1="287.6" x2="62.59" y2="285.6" stroke="#000" stroke-width="0.6"/>
<line x1="63.39" y1="287.6" x2="63.39" y2="286.7" stroke="#000" stroke-width="0.6"/>
<line x1="64.56" y1="287.6" x2="64.56" y2="286.1" stroke="#000" stroke-width="0.6"/>
<line x1="65.59" y1="287.6" x2="65.59" y2="287" stroke="#000" stroke-width="0.6"/>
<line x1="66.72" y1="287.6" x2="66.72" y2="286.4" stroke="#000" stroke-width="0.6"/>
<line x1="68.05" y1="287.6" x2="68.05" y2="285.6" stroke="#000" stroke-width="0.6"/>
<line x1="69.28" y1="287.6" x2="69.28" y2="286.1" stroke="#000" stroke-width="0.6"/>
<line x1="70.57" y1="287.6" x2="70.57" y2="286.7" stroke="#000" stroke-width="0.6"/>
<line x1="71.72" y1="287.6" x2="71.72" y2="287" stroke="#000" stroke-width="0.6"/>
<line x1="73.11" y1="287.6" x2="73.11" y2="285.6" stroke="#000" stroke-width="0.6"/>
<line x1="74.64" y1="287.6" x2="74.64" y2="285.6" stroke="#000" stroke-width="0.6"/>
<line x1="75.55" y1="287.6" x2="75.55" y2="285.6" stroke="#000" stroke-width="0.6"/>
<line x1="76.56" y1="287.6" x2="76.56" y2="285.6" stroke="#000" stroke-width="0.6"/>
<line x1="77.58" y1="287.6" x2="77.58" y2="286.4" stroke="#000" stroke-width="0.6"/>
<line x1="78.87" y1="287.6" x2="78.87" y2="285.6" stroke="#000" stroke-width="0.6"/>
<line x1="80.43" y1="287.6" x2="80.43" y2="287" stroke="#000" stroke-width="0.6"/>
<line x1="81.48" y1="287.6" x2="81.48" y2="285.6" stroke="#000" stroke-width="0.6"/>
<line x1="82.9" y1="287.6" x2="82.9" y2="285.6" stroke="#000" stroke-width="0.6"/>
<line x1="84.3" y1="287.6" x2="84.3" y2="286.7" stroke="#000" stroke-width="0.6"/>
<line x1="85.39" y1="287.6" x2="85.39" y2="287" stroke="#000" stroke-width="0.6"/>
<line x1="86.52" y1="287.6" x2="86.52" y2="286.4" stroke="#000" stroke-width="0.6"/>
<line x1="87.73" y1="287.6" x2="87.73" y2="286.7" stroke="#000" stroke-width="0.6"/>
<line x1="89.28" y1="287.6" x2="89.28" y2="286.1" stroke="#000" stroke-width="0.6"/>
<line x1="90.42" y1="287.6" x2="90.42" y2="286.4" stroke="#000" stroke-width="0.6"/>
<line x1="91.49" y1="287.6" x2="91.49" y2="287" stroke="#000" stroke-width="0.6"/>
<line x1="92.67" y1="287.6" x2="92.67" y2="285.6" stroke="#000" stroke-width="0.6"/>
<line x1="94.08" y1="287.6" x2="94.08" y2="286.4" stroke="#000" stroke-width="0.6"/>
<line x1="95.19" y1="287.6" x2="95.19" y2="287" stroke="#000" stroke-width="0.6"/>
<line x1="96.62" y1="287.6" x2="96.62" y2="286.7" stroke="#000" stroke-width="0.6"/>
<line x1="97.81" y1="287.6" x2="97.81" y2="286.7" stroke="#000" stroke-width="0.6"/>
<line x1="99.29" y1="287.6" x2="99.29" y2="285.6" stroke="#000" stroke-width="0.6"/>
<line x1="100.71" y1="287.6" x2="100.71" y2="286.4" stroke="#000" stroke-width="0.6"/>
<line x1="101.44" y1="287.6" x2="101.44" y2="287" stroke="#000" stroke-width="0.6"/>
<line x1="102.21" y1="287.6" x2="102.21" y2="287" stroke="#000" stroke-width="0.6"/>
<line x1="103.32" y1="287.6" x2="103.32" y2="286.4" stroke="#000" stroke-width="0.6"/>
<line x1="104.24" y1="287.6" x2="104.24" y2="287" stroke="#000" stroke-width="0.6"/>
<line x1="105.66" y1="287.6" x2="105.66" y2="286.7" stroke="#000" stroke-width="0.6"/>
<line x1="106.67" y1="287.6" x2="106.67" y2="287" stroke="#000" stroke-width="0.6"/>
<line x1="107.52" y1="287.6" x2="107.52" y2="286.4" stroke="#000" stroke-width="0.6"/>
<line x1="108.7" y1="287.6" x2="108.7" y2="286.7" stroke="#000" stroke-width="0.6"/>
<line x1="109.99" y1="287.6" x2="109.99" y2="286.4" stroke="#000" stroke-width="0.6"/>
<line x1="111.1" y1="287.6" x2="111.1" y2="286.4" stroke="#000" stroke-width="0.6"/>
<line x1="112.24" y1="287.6" x2="112.24" y2="287" stroke="#000" stroke-width="0.6"/>
<line x1="112.96" y1="287.6" x2="112.96" y2="286.1" stroke="#000" stroke-width="0.6"/>
<line x1="113.97" y1="287.6" x2="113.97" y2="286.7" stroke="#000" stroke-width="0.6"/>
<line x1="114.91" y1="287.6" x2="114.91" y2="286.4" stroke="#000" stroke-width="0.6"/>
<line x1="116.42" y1="287.6" x2="116.42" y2="285.6" stroke="#000" stroke-width="0.6"/>
<line x1="117.99" y1="287.6" x2="117.99" y2="285.6" stroke="#000" stroke-width="0.6"/>
<line x1="119.08" y1="287.6" x2="119.08" y2="287" stroke="#000" stroke-width="0.6"/>
<line x1="119.99" y1="287.6" x2="119.99" y2="286.1" stroke="#000" stroke-width="0.6"/>
<line x1="120.82" y1="287.6" x2="120.82" y2="286.7" stroke="#000" stroke-width="0.6"/>
<line x1="121.92" y1="287.6" x2="121.92" y2="285.6" stroke="#000" stroke-width="0.6"/>
<line x1="123.23" y1="287.6" x2="123.23" y2="285.6" stroke="#000" stroke-width="0.6"/>
<line x1="124.68" y1="287.6" x2="124.68" y2="285.6" stroke="#000" stroke-width="0.6"/>
<line x1="125.78" y1="287.6" x2="125.78" y2="285.6" stroke="#000" stroke-width="0.6"/>
<line x1="127.07" y1="287.6" x2="127.07" y2="286.1" stroke="#000" stroke-width="0.6"/>
<line x1="128.37" y1="287.6" x2="128.37" y2="286.4" stroke="#000" stroke-width="0.6"/>
<line x1="129.67" y1="287.6" x2="129.67" y2="286.1" stroke="#000" stroke-width="0.6"/>
<line x1="130.42" y1="287.6" x2="130.42" y2="286.4" stroke="#000" stroke-width="0.6"/>
<line x1="131.23" y1="287.6" x2="131.23" y2="286.7" stroke="#000" stroke-width="0.6"/>
<line x1="132.72" y1="287.6" x2="132.72" y2="286.4" stroke="#000" stroke-width="0.6"/>
<line x1="133.49" y1="287.6" x2="133.49" y2="287" stroke="#000" stroke-width="0.6"/>
<line x1="134.47" y1="287.6" x2="134.47" y2="286.4" stroke="#000" stroke-width="0.6"/>
<line x1="135.84" y1="287.6" x2="135.84" y2="286.1" stroke="#000" stroke-width="0.6"/>
<line x1="137.04" y1="287.6" x2="137.04" y2="286.7" stroke="#000" stroke-width="0.6"/>
<line x1="137.75" y1="287.6" x2="137.75" y2="287" stroke="#000" stroke-width="0.6"/>
<line x1="138.98" y1="287.6" x2="138.98" y2="286.7" stroke="#000" stroke-width="0.6"/>
<line x1="140.55" y1="287.6" x2="140.55" y2="285.6" stroke="#000" stroke-width="0.6"/>
<line x1="141.66" y1="287.6" x2="141.66" y2="285.6" stroke="#000" stroke-width="0.6"/>
<line x1="142.82" y1="287.6" x2="142.82" y2="286.1" stroke="#000" stroke-width="0.6"/>
<line x1="143.7" y1="287.6" x2="143.7" y2="287" stroke="#000" stroke-width="0.6"/>
<line x1="144.59" y1="287.6" x2="144.59" y2="286.1" stroke="#000" stroke-width="0.6"/>
<line x1="145.82" y1="287.6" x2="145.82" y2="286.1" stroke="#000" stroke-width="0.6"/>
<line x1="146.61" y1="287.6" x2="146.61" y2="286.1" stroke="#000" stroke-width="0.6"/>
<line x1="147.58" y1="287.6" x2="147.58" y2="286.1" stroke="#000" stroke-width="0.6"/>
<line x1="148.3" y1="287.6" x2="148.3" y2="285.6" stroke="#000" stroke-width="0.6"/>
<line x1="149.78" y1="287.6" x2="149.78" y2="286.4" stroke="#000" stroke-width="0.6"/>
<line x1="150.5" y1="287.6" x2="150.5" y2="286.7" stroke="#000" stroke-width="0.6"/>
<line x1="151.97" y1="287.6" x2="151.97" y2="285.6" stroke="#000" stroke-width="0.6"/>
<line x1="153.37" y1="287.6" x2="153.37" y2="286.4" stroke="#000" stroke-width="0.6"/>
<line x1="154.46" y1="287.6" x2="154.46" y2="286.4" stroke="#000" stroke-width="0.6"/>
<line x1="155.77" y1="287.6" x2="155.77" y2="286.1" stroke="#000" stroke-width="0.6"/>
<line x1="157.3" y1="287.6" x2="157.3" y2="286.4" stroke="#000" stroke-width="0.6"/>
<line x1="158.83" y1="287.6" x2="158.83" y2="285.6" stroke="#000" stroke-width="0.6"/>
<line x1="159.96" y1="287.6" x2="159.96" y2="285.6" stroke="#000" stroke-width="0.6"/>
<line x1="160.87" y1="287.6" x2="160.87" y2="287" stroke="#000" stroke-width="0.6"/>
<line x1="161.65" y1="287.6" x2="161.65" y2="286.7" stroke="#000" stroke-width="0.6"/>
<line x1="162.5" y1="287.6" x2="162.5" y2="285.6" stroke="#000" stroke-width="0.6"/>
<line x1="163.39" y1="287.6" x2="163.39" y2="286.4" stroke="#000" stroke-width="0.6"/>
<line x1="164.63" y1="287.6" x2="164.63" y2="286.4" stroke="#000" stroke-width="0.6"/>
<line x1="165.66" y1="287.6" x2="165.66" y2="286.4" stroke="#000" stroke-width="0.6"/>
<line x1="166.47" y1="287.6" x2="166.47" y2="286.7" stroke="#000" stroke-width="0.6"/>
<line x1="167.95" y1="287.6" x2="167.95" y2="285.6" stroke="#000" stroke-width="0.6"/>
<line x1="169.35" y1="287.6" x2="169.35" y2="286.1" stroke="#000" stroke-width="0.6"/>
<line x1="170.17" y1="287.6" x2="170.17" y2="285.6" stroke="#000" stroke-width="0.6"/>
<line x1="171.56" y1="287.6" x2="171.56" y2="286.4" stroke="#000" stroke-width="0.6"/>
<line x1="172.3" y1="287.6" x2="172.3" y2="287" stroke="#000" stroke-width="0.6"/>
<line x1="173.34" y1="287.6" x2="173.34" y2="286.7" stroke="#000" stroke-width="0.6"/>
<line x1="174.79" y1="287.6" x2="174.79" y2="286.4" stroke="#000" stroke-width="0.6"/>
<line x1="175.59" y1="287.6" x2="175.59" y2="285.6" stroke="#000" stroke-width="0.6"/>
<line x1="176.99" y1="287.6" x2="176.99" y2="286.1" stroke="#000" stroke-width="0.6"/>
<line x1="177.76" y1="287.6" x2="177.76" y2="285.6" stroke="#000" stroke-width="0.6"/>
<line x1="178.66" y1="287.6" x2="178.66" y2="287" stroke="#000" stroke-width="0.6"/>
<line x1="180.22" y1="287.6" x2="180.22" y2="286.4" stroke="#000" stroke-width="0.6"/>
<line x1="181.72" y1="287.6" x2="181.72" y2="285.6" stroke="#000" stroke-width="0.6"/>
<line x1="182.9" y1="287.6" x2="182.9" y2="287" stroke="#000" stroke-width="0.6"/>
<line x1="184.02" y1="287.6" x2="184.02" y2="286.4" stroke="#000" stroke-width="0.6"/>
<line x1="184.81" y1="287.6" x2="184.81" y2="287" stroke="#000" stroke-width="0.6"/>
<line x1="186.26" y1="287.6" x2="186.26" y2="287" stroke="#000" stroke-width="0.6"/>
<line x1="187.51" y1="287.6" x2="187.51" y2="287" stroke="#000" stroke-width="0.6"/>
<line x1="188.29" y1="287.6" x2="188.29" y2="287" stroke="#000" stroke-width="0.6"/>
<line x1="189.74" y1="287.6" x2="189.74" y2="287" stroke="#000" stroke-width="0.6"/>
<line x1="190.61" y1="287.6" x2="190.61" y2="285.6" stroke="#000" stroke-width="0.6"/>
<line x1="191.68" y1="287.6" x2="191.68" y2="287" stroke="#000" stroke-width="0.6"/>
<line x1="192.79" y1="287.6" x2="192.79" y2="286.7" stroke="#000" stroke-width="0.6"/>
<line x1="193.63" y1="287.6" x2="193.63" y2="287" stroke="#000" stroke-width="0.6"/>
<line x1="194.72" y1="287.6" x2="194.72" y2="286.1" stroke="#000" stroke-width="0.6"/>
<line x1="196.15" y1="287.6" x2="196.15" y2="285.6" stroke="#000" stroke-width="0.6"/>
<line x1="197.67" y1="287.6" x2="197.67" y2="286.4" stroke="#000" stroke-width="0.6"/>
<line x1="198.86" y1="287.6" x2="198.86" y2="286.1" stroke="#000" stroke-width="0.6"/>
<line x1="199.85" y1="287.6" x2="199.85" y2="286.7" stroke="#000" stroke-width="0.6"/>
<line x1="201.13" y1="287.6" x2="201.13" y2="287" stroke="#000" stroke-width="0.6"/>
<line x1="201.86" y1="287.6" x2="201.86" y2="286.4" stroke="#000" stroke-width="0.6"/>
<line x1="203.21" y1="287.6" x2="203.21" y2="286.4" stroke="#000" stroke-width="0.6"/>
<line x1="204.32" y1="287.6" x2="204.32" y2="286.4" stroke="#000" stroke-width="0.6"/>
<line x1="205.38" y1="287.6" x2="205.38" y2="287" stroke="#000" stroke-width="0.6"/>
<line x1="206.9" y1="287.6" x2="206.9" y2="285.6" stroke="#000" stroke-width="0.6"/>
<line x1="208.47" y1="287.6" x2="208.47" y2="287" stroke="#000" stroke-width="0.6"/>
<line x1="209.4" y1="287.6" x2="209.4" y2="285.6" stroke="#000" stroke-width="0.6"/>
<line x1="210.8" y1="287.6" x2="210.8" y2="285.6" stroke="#000" stroke-width="0.6"/>
<line x1="212.28" y1="287.6" x2="212.28" y2="286.1" stroke="#000" stroke-width="0.6"/>
<text transform="translate(18.5,295.58) scale(0.86,1)" font-size="4.7" text-anchor="middle" fill="#111" stroke="#111" stroke-width="0.1">1000</text>
<text transform="translate(57.2,295.58) scale(0.86,1)" font-size="4.7" text-anchor="middle" fill="#111" stroke="#111" stroke-width="0.1">1020</text>
<text transform="translate(95.9,295.58) scale(0.86,1)" font-size="4.7" text-anchor="middle" fill="#111" stroke="#111" stroke-width="0.1">1040</text>
<text transform="translate(134.6,295.58) scale(0.86,1)" font-size="4.7" text-anchor="middle" fill="#111" stroke="#111" stroke-width="0.1">1060</text>
<text transform="translate(173.3,295.58) scale(0.86,1)" font-size="4.7" text-anchor="middle" fill="#111" stroke="#111" stroke-width="0.1">1080</text>
<text transform="translate(212,295.58) scale(0.86,1)" font-size="4.7" text-anchor="middle" fill="#111" stroke="#111" stroke-width="0.1">1100</text>
<text transform="translate(115.3,303.02) scale(0.76,1)" font-size="5.46" text-anchor="middle" fill="#111" stroke="#111" stroke-width="0.1">m/z</text>
<text transform="translate(7.8,235) rotate(-90) scale(0.87,1)" font-size="4.95" text-anchor="middle" fill="#111" stroke="#111" stroke-width="0.1">Relative Abundance</text>
<text transform="translate(157.4,167) scale(0.84,1)" font-size="9.28" text-anchor="start" fill="#000" stroke="#000" stroke-width="0.12">ESI-MS spectrum</text>
<text transform="translate(157.4,176.3) scale(0.84,1)" font-size="9.16" text-anchor="start" fill="#000" stroke="#000" stroke-width="0.12">Bacillomycin D</text>
<line x1="242.7" y1="174" x2="242.7" y2="288.1" stroke="#000" stroke-width="0.95"/>
<line x1="239.3" y1="287.6" x2="242.7" y2="287.6" stroke="#000" stroke-width="0.85"/>
<line x1="240.6" y1="285.34" x2="242.7" y2="285.34" stroke="#000" stroke-width="0.7"/>
<line x1="240.6" y1="283.07" x2="242.7" y2="283.07" stroke="#000" stroke-width="0.7"/>
<line x1="240.6" y1="280.81" x2="242.7" y2="280.81" stroke="#000" stroke-width="0.7"/>
<line x1="240.6" y1="278.54" x2="242.7" y2="278.54" stroke="#000" stroke-width="0.7"/>
<line x1="239.3" y1="276.28" x2="242.7" y2="276.28" stroke="#000" stroke-width="0.85"/>
<line x1="240.6" y1="274.02" x2="242.7" y2="274.02" stroke="#000" stroke-width="0.7"/>
<line x1="240.6" y1="271.75" x2="242.7" y2="271.75" stroke="#000" stroke-width="0.7"/>
<line x1="240.6" y1="269.49" x2="242.7" y2="269.49" stroke="#000" stroke-width="0.7"/>
<line x1="240.6" y1="267.22" x2="242.7" y2="267.22" stroke="#000" stroke-width="0.7"/>
<line x1="239.3" y1="264.96" x2="242.7" y2="264.96" stroke="#000" stroke-width="0.85"/>
<line x1="240.6" y1="262.7" x2="242.7" y2="262.7" stroke="#000" stroke-width="0.7"/>
<line x1="240.6" y1="260.43" x2="242.7" y2="260.43" stroke="#000" stroke-width="0.7"/>
<line x1="240.6" y1="258.17" x2="242.7" y2="258.17" stroke="#000" stroke-width="0.7"/>
<line x1="240.6" y1="255.9" x2="242.7" y2="255.9" stroke="#000" stroke-width="0.7"/>
<line x1="239.3" y1="253.64" x2="242.7" y2="253.64" stroke="#000" stroke-width="0.85"/>
<line x1="240.6" y1="251.38" x2="242.7" y2="251.38" stroke="#000" stroke-width="0.7"/>
<line x1="240.6" y1="249.11" x2="242.7" y2="249.11" stroke="#000" stroke-width="0.7"/>
<line x1="240.6" y1="246.85" x2="242.7" y2="246.85" stroke="#000" stroke-width="0.7"/>
<line x1="240.6" y1="244.58" x2="242.7" y2="244.58" stroke="#000" stroke-width="0.7"/>
<line x1="239.3" y1="242.32" x2="242.7" y2="242.32" stroke="#000" stroke-width="0.85"/>
<line x1="240.6" y1="240.06" x2="242.7" y2="240.06" stroke="#000" stroke-width="0.7"/>
<line x1="240.6" y1="237.79" x2="242.7" y2="237.79" stroke="#000" stroke-width="0.7"/>
<line x1="240.6" y1="235.53" x2="242.7" y2="235.53" stroke="#000" stroke-width="0.7"/>
<line x1="240.6" y1="233.26" x2="242.7" y2="233.26" stroke="#000" stroke-width="0.7"/>
<line x1="239.3" y1="231" x2="242.7" y2="231" stroke="#000" stroke-width="0.85"/>
<line x1="240.6" y1="228.74" x2="242.7" y2="228.74" stroke="#000" stroke-width="0.7"/>
<line x1="240.6" y1="226.47" x2="242.7" y2="226.47" stroke="#000" stroke-width="0.7"/>
<line x1="240.6" y1="224.21" x2="242.7" y2="224.21" stroke="#000" stroke-width="0.7"/>
<line x1="240.6" y1="221.94" x2="242.7" y2="221.94" stroke="#000" stroke-width="0.7"/>
<line x1="239.3" y1="219.68" x2="242.7" y2="219.68" stroke="#000" stroke-width="0.85"/>
<line x1="240.6" y1="217.42" x2="242.7" y2="217.42" stroke="#000" stroke-width="0.7"/>
<line x1="240.6" y1="215.15" x2="242.7" y2="215.15" stroke="#000" stroke-width="0.7"/>
<line x1="240.6" y1="212.89" x2="242.7" y2="212.89" stroke="#000" stroke-width="0.7"/>
<line x1="240.6" y1="210.62" x2="242.7" y2="210.62" stroke="#000" stroke-width="0.7"/>
<line x1="239.3" y1="208.36" x2="242.7" y2="208.36" stroke="#000" stroke-width="0.85"/>
<line x1="240.6" y1="206.1" x2="242.7" y2="206.1" stroke="#000" stroke-width="0.7"/>
<line x1="240.6" y1="203.83" x2="242.7" y2="203.83" stroke="#000" stroke-width="0.7"/>
<line x1="240.6" y1="201.57" x2="242.7" y2="201.57" stroke="#000" stroke-width="0.7"/>
<line x1="240.6" y1="199.3" x2="242.7" y2="199.3" stroke="#000" stroke-width="0.7"/>
<line x1="239.3" y1="197.04" x2="242.7" y2="197.04" stroke="#000" stroke-width="0.85"/>
<line x1="240.6" y1="194.78" x2="242.7" y2="194.78" stroke="#000" stroke-width="0.7"/>
<line x1="240.6" y1="192.51" x2="242.7" y2="192.51" stroke="#000" stroke-width="0.7"/>
<line x1="240.6" y1="190.25" x2="242.7" y2="190.25" stroke="#000" stroke-width="0.7"/>
<line x1="240.6" y1="187.98" x2="242.7" y2="187.98" stroke="#000" stroke-width="0.7"/>
<line x1="239.3" y1="185.72" x2="242.7" y2="185.72" stroke="#000" stroke-width="0.85"/>
<line x1="240.6" y1="183.46" x2="242.7" y2="183.46" stroke="#000" stroke-width="0.7"/>
<line x1="240.6" y1="181.19" x2="242.7" y2="181.19" stroke="#000" stroke-width="0.7"/>
<line x1="240.6" y1="178.93" x2="242.7" y2="178.93" stroke="#000" stroke-width="0.7"/>
<line x1="240.6" y1="176.66" x2="242.7" y2="176.66" stroke="#000" stroke-width="0.7"/>
<line x1="239.3" y1="174.4" x2="242.7" y2="174.4" stroke="#000" stroke-width="0.85"/>
<text transform="translate(236.7,289.68) scale(0.86,1)" font-size="4.7" text-anchor="end" fill="#111" stroke="#111" stroke-width="0.1">0</text>
<text transform="translate(236.7,278.36) scale(0.86,1)" font-size="4.7" text-anchor="end" fill="#111" stroke="#111" stroke-width="0.1">10</text>
<text transform="translate(236.7,267.04) scale(0.86,1)" font-size="4.7" text-anchor="end" fill="#111" stroke="#111" stroke-width="0.1">20</text>
<text transform="translate(236.7,255.72) scale(0.86,1)" font-size="4.7" text-anchor="end" fill="#111" stroke="#111" stroke-width="0.1">30</text>
<text transform="translate(236.7,244.4) scale(0.86,1)" font-size="4.7" text-anchor="end" fill="#111" stroke="#111" stroke-width="0.1">40</text>
<text transform="translate(236.7,233.08) scale(0.86,1)" font-size="4.7" text-anchor="end" fill="#111" stroke="#111" stroke-width="0.1">50</text>
<text transform="translate(236.7,221.76) scale(0.86,1)" font-size="4.7" text-anchor="end" fill="#111" stroke="#111" stroke-width="0.1">60</text>
<text transform="translate(236.7,210.44) scale(0.86,1)" font-size="4.7" text-anchor="end" fill="#111" stroke="#111" stroke-width="0.1">70</text>
<text transform="translate(236.7,199.12) scale(0.86,1)" font-size="4.7" text-anchor="end" fill="#111" stroke="#111" stroke-width="0.1">80</text>
<text transform="translate(236.7,187.8) scale(0.86,1)" font-size="4.7" text-anchor="end" fill="#111" stroke="#111" stroke-width="0.1">90</text>
<text transform="translate(236.7,176.48) scale(0.86,1)" font-size="4.7" text-anchor="end" fill="#111" stroke="#111" stroke-width="0.1">100</text>
<line x1="242.3" y1="287.6" x2="436.4" y2="287.6" stroke="#000" stroke-width="1"/>
<line x1="242" y1="287.6" x2="242" y2="291.4" stroke="#000" stroke-width="0.85"/>
<line x1="243.94" y1="287.6" x2="243.94" y2="290.3" stroke="#000" stroke-width="0.6"/>
<line x1="245.87" y1="287.6" x2="245.87" y2="290.3" stroke="#000" stroke-width="0.6"/>
<line x1="247.81" y1="287.6" x2="247.81" y2="290.3" stroke="#000" stroke-width="0.6"/>
<line x1="249.74" y1="287.6" x2="249.74" y2="290.3" stroke="#000" stroke-width="0.6"/>
<line x1="251.68" y1="287.6" x2="251.68" y2="290.3" stroke="#000" stroke-width="0.6"/>
<line x1="253.61" y1="287.6" x2="253.61" y2="290.3" stroke="#000" stroke-width="0.6"/>
<line x1="255.54" y1="287.6" x2="255.54" y2="290.3" stroke="#000" stroke-width="0.6"/>
<line x1="257.48" y1="287.6" x2="257.48" y2="290.3" stroke="#000" stroke-width="0.6"/>
<line x1="259.42" y1="287.6" x2="259.42" y2="290.3" stroke="#000" stroke-width="0.6"/>
<line x1="261.35" y1="287.6" x2="261.35" y2="290.3" stroke="#000" stroke-width="0.6"/>
<line x1="263.29" y1="287.6" x2="263.29" y2="290.3" stroke="#000" stroke-width="0.6"/>
<line x1="265.22" y1="287.6" x2="265.22" y2="290.3" stroke="#000" stroke-width="0.6"/>
<line x1="267.15" y1="287.6" x2="267.15" y2="290.3" stroke="#000" stroke-width="0.6"/>
<line x1="269.09" y1="287.6" x2="269.09" y2="290.3" stroke="#000" stroke-width="0.6"/>
<line x1="271.02" y1="287.6" x2="271.02" y2="290.3" stroke="#000" stroke-width="0.6"/>
<line x1="272.96" y1="287.6" x2="272.96" y2="290.3" stroke="#000" stroke-width="0.6"/>
<line x1="274.89" y1="287.6" x2="274.89" y2="290.3" stroke="#000" stroke-width="0.6"/>
<line x1="276.83" y1="287.6" x2="276.83" y2="290.3" stroke="#000" stroke-width="0.6"/>
<line x1="278.76" y1="287.6" x2="278.76" y2="290.3" stroke="#000" stroke-width="0.6"/>
<line x1="280.7" y1="287.6" x2="280.7" y2="291.4" stroke="#000" stroke-width="0.85"/>
<line x1="282.63" y1="287.6" x2="282.63" y2="290.3" stroke="#000" stroke-width="0.6"/>
<line x1="284.57" y1="287.6" x2="284.57" y2="290.3" stroke="#000" stroke-width="0.6"/>
<line x1="286.5" y1="287.6" x2="286.5" y2="290.3" stroke="#000" stroke-width="0.6"/>
<line x1="288.44" y1="287.6" x2="288.44" y2="290.3" stroke="#000" stroke-width="0.6"/>
<line x1="290.38" y1="287.6" x2="290.38" y2="290.3" stroke="#000" stroke-width="0.6"/>
<line x1="292.31" y1="287.6" x2="292.31" y2="290.3" stroke="#000" stroke-width="0.6"/>
<line x1="294.25" y1="287.6" x2="294.25" y2="290.3" stroke="#000" stroke-width="0.6"/>
<line x1="296.18" y1="287.6" x2="296.18" y2="290.3" stroke="#000" stroke-width="0.6"/>
<line x1="298.12" y1="287.6" x2="298.12" y2="290.3" stroke="#000" stroke-width="0.6"/>
<line x1="300.05" y1="287.6" x2="300.05" y2="290.3" stroke="#000" stroke-width="0.6"/>
<line x1="301.99" y1="287.6" x2="301.99" y2="290.3" stroke="#000" stroke-width="0.6"/>
<line x1="303.92" y1="287.6" x2="303.92" y2="290.3" stroke="#000" stroke-width="0.6"/>
<line x1="305.86" y1="287.6" x2="305.86" y2="290.3" stroke="#000" stroke-width="0.6"/>
<line x1="307.79" y1="287.6" x2="307.79" y2="290.3" stroke="#000" stroke-width="0.6"/>
<line x1="309.73" y1="287.6" x2="309.73" y2="290.3" stroke="#000" stroke-width="0.6"/>
<line x1="311.66" y1="287.6" x2="311.66" y2="290.3" stroke="#000" stroke-width="0.6"/>
<line x1="313.6" y1="287.6" x2="313.6" y2="290.3" stroke="#000" stroke-width="0.6"/>
<line x1="315.53" y1="287.6" x2="315.53" y2="290.3" stroke="#000" stroke-width="0.6"/>
<line x1="317.47" y1="287.6" x2="317.47" y2="290.3" stroke="#000" stroke-width="0.6"/>
<line x1="319.4" y1="287.6" x2="319.4" y2="291.4" stroke="#000" stroke-width="0.85"/>
<line x1="321.34" y1="287.6" x2="321.34" y2="290.3" stroke="#000" stroke-width="0.6"/>
<line x1="323.27" y1="287.6" x2="323.27" y2="290.3" stroke="#000" stroke-width="0.6"/>
<line x1="325.2" y1="287.6" x2="325.2" y2="290.3" stroke="#000" stroke-width="0.6"/>
<line x1="327.14" y1="287.6" x2="327.14" y2="290.3" stroke="#000" stroke-width="0.6"/>
<line x1="329.07" y1="287.6" x2="329.07" y2="290.3" stroke="#000" stroke-width="0.6"/>
<line x1="331.01" y1="287.6" x2="331.01" y2="290.3" stroke="#000" stroke-width="0.6"/>
<line x1="332.94" y1="287.6" x2="332.94" y2="290.3" stroke="#000" stroke-width="0.6"/>
<line x1="334.88" y1="287.6" x2="334.88" y2="290.3" stroke="#000" stroke-width="0.6"/>
<line x1="336.81" y1="287.6" x2="336.81" y2="290.3" stroke="#000" stroke-width="0.6"/>
<line x1="338.75" y1="287.6" x2="338.75" y2="290.3" stroke="#000" stroke-width="0.6"/>
<line x1="340.69" y1="287.6" x2="340.69" y2="290.3" stroke="#000" stroke-width="0.6"/>
<line x1="342.62" y1="287.6" x2="342.62" y2="290.3" stroke="#000" stroke-width="0.6"/>
<line x1="344.56" y1="287.6" x2="344.56" y2="290.3" stroke="#000" stroke-width="0.6"/>
<line x1="346.49" y1="287.6" x2="346.49" y2="290.3" stroke="#000" stroke-width="0.6"/>
<line x1="348.43" y1="287.6" x2="348.43" y2="290.3" stroke="#000" stroke-width="0.6"/>
<line x1="350.36" y1="287.6" x2="350.36" y2="290.3" stroke="#000" stroke-width="0.6"/>
<line x1="352.3" y1="287.6" x2="352.3" y2="290.3" stroke="#000" stroke-width="0.6"/>
<line x1="354.23" y1="287.6" x2="354.23" y2="290.3" stroke="#000" stroke-width="0.6"/>
<line x1="356.17" y1="287.6" x2="356.17" y2="290.3" stroke="#000" stroke-width="0.6"/>
<line x1="358.1" y1="287.6" x2="358.1" y2="291.4" stroke="#000" stroke-width="0.85"/>
<line x1="360.03" y1="287.6" x2="360.03" y2="290.3" stroke="#000" stroke-width="0.6"/>
<line x1="361.97" y1="287.6" x2="361.97" y2="290.3" stroke="#000" stroke-width="0.6"/>
<line x1="363.9" y1="287.6" x2="363.9" y2="290.3" stroke="#000" stroke-width="0.6"/>
<line x1="365.84" y1="287.6" x2="365.84" y2="290.3" stroke="#000" stroke-width="0.6"/>
<line x1="367.77" y1="287.6" x2="367.77" y2="290.3" stroke="#000" stroke-width="0.6"/>
<line x1="369.71" y1="287.6" x2="369.71" y2="290.3" stroke="#000" stroke-width="0.6"/>
<line x1="371.64" y1="287.6" x2="371.64" y2="290.3" stroke="#000" stroke-width="0.6"/>
<line x1="373.58" y1="287.6" x2="373.58" y2="290.3" stroke="#000" stroke-width="0.6"/>
<line x1="375.51" y1="287.6" x2="375.51" y2="290.3" stroke="#000" stroke-width="0.6"/>
<line x1="377.45" y1="287.6" x2="377.45" y2="290.3" stroke="#000" stroke-width="0.6"/>
<line x1="379.38" y1="287.6" x2="379.38" y2="290.3" stroke="#000" stroke-width="0.6"/>
<line x1="381.32" y1="287.6" x2="381.32" y2="290.3" stroke="#000" stroke-width="0.6"/>
<line x1="383.25" y1="287.6" x2="383.25" y2="290.3" stroke="#000" stroke-width="0.6"/>
<line x1="385.19" y1="287.6" x2="385.19" y2="290.3" stroke="#000" stroke-width="0.6"/>
<line x1="387.12" y1="287.6" x2="387.12" y2="290.3" stroke="#000" stroke-width="0.6"/>
<line x1="389.06" y1="287.6" x2="389.06" y2="290.3" stroke="#000" stroke-width="0.6"/>
<line x1="391" y1="287.6" x2="391" y2="290.3" stroke="#000" stroke-width="0.6"/>
<line x1="392.93" y1="287.6" x2="392.93" y2="290.3" stroke="#000" stroke-width="0.6"/>
<line x1="394.87" y1="287.6" x2="394.87" y2="290.3" stroke="#000" stroke-width="0.6"/>
<line x1="396.8" y1="287.6" x2="396.8" y2="291.4" stroke="#000" stroke-width="0.85"/>
<line x1="398.74" y1="287.6" x2="398.74" y2="290.3" stroke="#000" stroke-width="0.6"/>
<line x1="400.67" y1="287.6" x2="400.67" y2="290.3" stroke="#000" stroke-width="0.6"/>
<line x1="402.61" y1="287.6" x2="402.61" y2="290.3" stroke="#000" stroke-width="0.6"/>
<line x1="404.54" y1="287.6" x2="404.54" y2="290.3" stroke="#000" stroke-width="0.6"/>
<line x1="406.48" y1="287.6" x2="406.48" y2="290.3" stroke="#000" stroke-width="0.6"/>
<line x1="408.41" y1="287.6" x2="408.41" y2="290.3" stroke="#000" stroke-width="0.6"/>
<line x1="410.35" y1="287.6" x2="410.35" y2="290.3" stroke="#000" stroke-width="0.6"/>
<line x1="412.28" y1="287.6" x2="412.28" y2="290.3" stroke="#000" stroke-width="0.6"/>
<line x1="414.22" y1="287.6" x2="414.22" y2="290.3" stroke="#000" stroke-width="0.6"/>
<line x1="416.15" y1="287.6" x2="416.15" y2="290.3" stroke="#000" stroke-width="0.6"/>
<line x1="418.09" y1="287.6" x2="418.09" y2="290.3" stroke="#000" stroke-width="0.6"/>
<line x1="420.02" y1="287.6" x2="420.02" y2="290.3" stroke="#000" stroke-width="0.6"/>
<line x1="421.96" y1="287.6" x2="421.96" y2="290.3" stroke="#000" stroke-width="0.6"/>
<line x1="423.89" y1="287.6" x2="423.89" y2="290.3" stroke="#000" stroke-width="0.6"/>
<line x1="425.83" y1="287.6" x2="425.83" y2="290.3" stroke="#000" stroke-width="0.6"/>
<line x1="427.76" y1="287.6" x2="427.76" y2="290.3" stroke="#000" stroke-width="0.6"/>
<line x1="429.69" y1="287.6" x2="429.69" y2="290.3" stroke="#000" stroke-width="0.6"/>
<line x1="431.63" y1="287.6" x2="431.63" y2="290.3" stroke="#000" stroke-width="0.6"/>
<line x1="433.56" y1="287.6" x2="433.56" y2="290.3" stroke="#000" stroke-width="0.6"/>
<line x1="435.5" y1="287.6" x2="435.5" y2="291.4" stroke="#000" stroke-width="0.85"/>
<line x1="243.5" y1="287.6" x2="243.5" y2="287" stroke="#000" stroke-width="0.6"/>
<line x1="244.28" y1="287.6" x2="244.28" y2="286.4" stroke="#000" stroke-width="0.6"/>
<line x1="245.73" y1="287.6" x2="245.73" y2="286.4" stroke="#000" stroke-width="0.6"/>
<line x1="246.66" y1="287.6" x2="246.66" y2="286.7" stroke="#000" stroke-width="0.6"/>
<line x1="247.91" y1="287.6" x2="247.91" y2="285.6" stroke="#000" stroke-width="0.6"/>
<line x1="249.22" y1="287.6" x2="249.22" y2="286.1" stroke="#000" stroke-width="0.6"/>
<line x1="250.49" y1="287.6" x2="250.49" y2="285.6" stroke="#000" stroke-width="0.6"/>
<line x1="252.05" y1="287.6" x2="252.05" y2="285.6" stroke="#000" stroke-width="0.6"/>
<line x1="253.59" y1="287.6" x2="253.59" y2="285.6" stroke="#000" stroke-width="0.6"/>
<line x1="254.53" y1="287.6" x2="254.53" y2="287" stroke="#000" stroke-width="0.6"/>
<line x1="256.02" y1="287.6" x2="256.02" y2="286.4" stroke="#000" stroke-width="0.6"/>
<line x1="257.14" y1="287.6" x2="257.14" y2="286.4" stroke="#000" stroke-width="0.6"/>
<line x1="258.65" y1="287.6" x2="258.65" y2="286.1" stroke="#000" stroke-width="0.6"/>
<line x1="260.15" y1="287.6" x2="260.15" y2="285.6" stroke="#000" stroke-width="0.6"/>
<line x1="261" y1="287.6" x2="261" y2="286.7" stroke="#000" stroke-width="0.6"/>
<line x1="261.92" y1="287.6" x2="261.92" y2="287" stroke="#000" stroke-width="0.6"/>
<line x1="262.77" y1="287.6" x2="262.77" y2="286.7" stroke="#000" stroke-width="0.6"/>
<line x1="263.6" y1="287.6" x2="263.6" y2="285.6" stroke="#000" stroke-width="0.6"/>
<line x1="264.62" y1="287.6" x2="264.62" y2="285.6" stroke="#000" stroke-width="0.6"/>
<line x1="265.93" y1="287.6" x2="265.93" y2="286.7" stroke="#000" stroke-width="0.6"/>
<line x1="267.52" y1="287.6" x2="267.52" y2="286.1" stroke="#000" stroke-width="0.6"/>
<line x1="268.94" y1="287.6" x2="268.94" y2="285.6" stroke="#000" stroke-width="0.6"/>
<line x1="270.46" y1="287.6" x2="270.46" y2="286.4" stroke="#000" stroke-width="0.6"/>
<line x1="271.87" y1="287.6" x2="271.87" y2="286.4" stroke="#000" stroke-width="0.6"/>
<line x1="272.89" y1="287.6" x2="272.89" y2="286.1" stroke="#000" stroke-width="0.6"/>
<line x1="273.74" y1="287.6" x2="273.74" y2="286.1" stroke="#000" stroke-width="0.6"/>
<line x1="275.08" y1="287.6" x2="275.08" y2="286.1" stroke="#000" stroke-width="0.6"/>
<line x1="276.37" y1="287.6" x2="276.37" y2="286.7" stroke="#000" stroke-width="0.6"/>
<line x1="277.51" y1="287.6" x2="277.51" y2="286.1" stroke="#000" stroke-width="0.6"/>
<line x1="278.66" y1="287.6" x2="278.66" y2="286.4" stroke="#000" stroke-width="0.6"/>
<line x1="279.96" y1="287.6" x2="279.96" y2="286.1" stroke="#000" stroke-width="0.6"/>
<line x1="281.47" y1="287.6" x2="281.47" y2="286.1" stroke="#000" stroke-width="0.6"/>
<line x1="282.48" y1="287.6" x2="282.48" y2="285.6" stroke="#000" stroke-width="0.6"/>
<line x1="283.84" y1="287.6" x2="283.84" y2="286.1" stroke="#000" stroke-width="0.6"/>
<line x1="285.13" y1="287.6" x2="285.13" y2="286.4" stroke="#000" stroke-width="0.6"/>
<line x1="286.56" y1="287.6" x2="286.56" y2="286.7" stroke="#000" stroke-width="0.6"/>
<line x1="288.05" y1="287.6" x2="288.05" y2="285.6" stroke="#000" stroke-width="0.6"/>
<line x1="288.99" y1="287.6" x2="288.99" y2="286.1" stroke="#000" stroke-width="0.6"/>
<line x1="289.97" y1="287.6" x2="289.97" y2="285.6" stroke="#000" stroke-width="0.6"/>
<line x1="291.18" y1="287.6" x2="291.18" y2="285.6" stroke="#000" stroke-width="0.6"/>
<line x1="292.46" y1="287.6" x2="292.46" y2="285.6" stroke="#000" stroke-width="0.6"/>
<line x1="293.53" y1="287.6" x2="293.53" y2="286.7" stroke="#000" stroke-width="0.6"/>
<line x1="294.67" y1="287.6" x2="294.67" y2="286.4" stroke="#000" stroke-width="0.6"/>
<line x1="296.21" y1="287.6" x2="296.21" y2="285.6" stroke="#000" stroke-width="0.6"/>
<line x1="297.7" y1="287.6" x2="297.7" y2="286.4" stroke="#000" stroke-width="0.6"/>
<line x1="299.06" y1="287.6" x2="299.06" y2="286.7" stroke="#000" stroke-width="0.6"/>
<line x1="300.65" y1="287.6" x2="300.65" y2="287" stroke="#000" stroke-width="0.6"/>
<line x1="301.41" y1="287.6" x2="301.41" y2="287" stroke="#000" stroke-width="0.6"/>
<line x1="302.35" y1="287.6" x2="302.35" y2="286.7" stroke="#000" stroke-width="0.6"/>
<line x1="303.67" y1="287.6" x2="303.67" y2="287" stroke="#000" stroke-width="0.6"/>
<line x1="305.05" y1="287.6" x2="305.05" y2="286.7" stroke="#000" stroke-width="0.6"/>
<line x1="306.51" y1="287.6" x2="306.51" y2="286.7" stroke="#000" stroke-width="0.6"/>
<line x1="307.96" y1="287.6" x2="307.96" y2="287" stroke="#000" stroke-width="0.6"/>
<line x1="309.04" y1="287.6" x2="309.04" y2="287" stroke="#000" stroke-width="0.6"/>
<line x1="309.79" y1="287.6" x2="309.79" y2="286.4" stroke="#000" stroke-width="0.6"/>
<line x1="310.64" y1="287.6" x2="310.64" y2="287" stroke="#000" stroke-width="0.6"/>
<line x1="311.42" y1="287.6" x2="311.42" y2="287" stroke="#000" stroke-width="0.6"/>
<line x1="312.14" y1="287.6" x2="312.14" y2="287" stroke="#000" stroke-width="0.6"/>
<line x1="313.18" y1="287.6" x2="313.18" y2="286.7" stroke="#000" stroke-width="0.6"/>
<line x1="314.61" y1="287.6" x2="314.61" y2="286.7" stroke="#000" stroke-width="0.6"/>
<line x1="315.97" y1="287.6" x2="315.97" y2="285.6" stroke="#000" stroke-width="0.6"/>
<line x1="317.29" y1="287.6" x2="317.29" y2="286.1" stroke="#000" stroke-width="0.6"/>
<line x1="318.52" y1="287.6" x2="318.52" y2="286.7" stroke="#000" stroke-width="0.6"/>
<line x1="319.36" y1="287.6" x2="319.36" y2="287" stroke="#000" stroke-width="0.6"/>
<line x1="320.06" y1="287.6" x2="320.06" y2="285.6" stroke="#000" stroke-width="0.6"/>
<line x1="321.33" y1="287.6" x2="321.33" y2="287" stroke="#000" stroke-width="0.6"/>
<line x1="322.29" y1="287.6" x2="322.29" y2="286.1" stroke="#000" stroke-width="0.6"/>
<line x1="323.01" y1="287.6" x2="323.01" y2="286.1" stroke="#000" stroke-width="0.6"/>
<line x1="324.21" y1="287.6" x2="324.21" y2="285.6" stroke="#000" stroke-width="0.6"/>
<line x1="325.58" y1="287.6" x2="325.58" y2="286.4" stroke="#000" stroke-width="0.6"/>
<line x1="326.96" y1="287.6" x2="326.96" y2="285.6" stroke="#000" stroke-width="0.6"/>
<line x1="328.29" y1="287.6" x2="328.29" y2="286.1" stroke="#000" stroke-width="0.6"/>
<line x1="329.85" y1="287.6" x2="329.85" y2="287" stroke="#000" stroke-width="0.6"/>
<line x1="331.15" y1="287.6" x2="331.15" y2="286.4" stroke="#000" stroke-width="0.6"/>
<line x1="332.6" y1="287.6" x2="332.6" y2="287" stroke="#000" stroke-width="0.6"/>
<line x1="333.71" y1="287.6" x2="333.71" y2="286.7" stroke="#000" stroke-width="0.6"/>
<line x1="334.87" y1="287.6" x2="334.87" y2="286.1" stroke="#000" stroke-width="0.6"/>
<line x1="336.01" y1="287.6" x2="336.01" y2="286.4" stroke="#000" stroke-width="0.6"/>
<line x1="336.84" y1="287.6" x2="336.84" y2="286.4" stroke="#000" stroke-width="0.6"/>
<line x1="337.77" y1="287.6" x2="337.77" y2="285.6" stroke="#000" stroke-width="0.6"/>
<line x1="339.35" y1="287.6" x2="339.35" y2="287" stroke="#000" stroke-width="0.6"/>
<line x1="340.68" y1="287.6" x2="340.68" y2="286.7" stroke="#000" stroke-width="0.6"/>
<line x1="341.98" y1="287.6" x2="341.98" y2="286.4" stroke="#000" stroke-width="0.6"/>
<line x1="342.71" y1="287.6" x2="342.71" y2="286.7" stroke="#000" stroke-width="0.6"/>
<line x1="343.56" y1="287.6" x2="343.56" y2="286.1" stroke="#000" stroke-width="0.6"/>
<line x1="344.83" y1="287.6" x2="344.83" y2="285.6" stroke="#000" stroke-width="0.6"/>
<line x1="346.36" y1="287.6" x2="346.36" y2="287" stroke="#000" stroke-width="0.6"/>
<line x1="347.95" y1="287.6" x2="347.95" y2="286.7" stroke="#000" stroke-width="0.6"/>
<line x1="349.3" y1="287.6" x2="349.3" y2="287" stroke="#000" stroke-width="0.6"/>
<line x1="350.22" y1="287.6" x2="350.22" y2="285.6" stroke="#000" stroke-width="0.6"/>
<line x1="351.13" y1="287.6" x2="351.13" y2="285.6" stroke="#000" stroke-width="0.6"/>
<line x1="352.47" y1="287.6" x2="352.47" y2="286.4" stroke="#000" stroke-width="0.6"/>
<line x1="353.78" y1="287.6" x2="353.78" y2="286.4" stroke="#000" stroke-width="0.6"/>
<line x1="354.96" y1="287.6" x2="354.96" y2="287" stroke="#000" stroke-width="0.6"/>
<line x1="355.79" y1="287.6" x2="355.79" y2="286.1" stroke="#000" stroke-width="0.6"/>
<line x1="356.86" y1="287.6" x2="356.86" y2="287" stroke="#000" stroke-width="0.6"/>
<line x1="358.02" y1="287.6" x2="358.02" y2="287" stroke="#000" stroke-width="0.6"/>
<line x1="358.94" y1="287.6" x2="358.94" y2="287" stroke="#000" stroke-width="0.6"/>
<line x1="359.66" y1="287.6" x2="359.66" y2="286.7" stroke="#000" stroke-width="0.6"/>
<line x1="360.45" y1="287.6" x2="360.45" y2="287" stroke="#000" stroke-width="0.6"/>
<line x1="361.62" y1="287.6" x2="361.62" y2="286.1" stroke="#000" stroke-width="0.6"/>
<line x1="362.73" y1="287.6" x2="362.73" y2="285.6" stroke="#000" stroke-width="0.6"/>
<line x1="364" y1="287.6" x2="364" y2="286.7" stroke="#000" stroke-width="0.6"/>
<line x1="365.32" y1="287.6" x2="365.32" y2="286.7" stroke="#000" stroke-width="0.6"/>
<line x1="366.68" y1="287.6" x2="366.68" y2="286.1" stroke="#000" stroke-width="0.6"/>
<line x1="367.76" y1="287.6" x2="367.76" y2="287" stroke="#000" stroke-width="0.6"/>
<line x1="368.98" y1="287.6" x2="368.98" y2="287" stroke="#000" stroke-width="0.6"/>
<line x1="370.48" y1="287.6" x2="370.48" y2="285.6" stroke="#000" stroke-width="0.6"/>
<line x1="371.7" y1="287.6" x2="371.7" y2="287" stroke="#000" stroke-width="0.6"/>
<line x1="373" y1="287.6" x2="373" y2="286.1" stroke="#000" stroke-width="0.6"/>
<line x1="374.03" y1="287.6" x2="374.03" y2="285.6" stroke="#000" stroke-width="0.6"/>
<line x1="375.59" y1="287.6" x2="375.59" y2="287" stroke="#000" stroke-width="0.6"/>
<line x1="376.84" y1="287.6" x2="376.84" y2="286.4" stroke="#000" stroke-width="0.6"/>
<line x1="378.16" y1="287.6" x2="378.16" y2="286.4" stroke="#000" stroke-width="0.6"/>
<line x1="379.14" y1="287.6" x2="379.14" y2="286.1" stroke="#000" stroke-width="0.6"/>
<line x1="379.93" y1="287.6" x2="379.93" y2="286.4" stroke="#000" stroke-width="0.6"/>
<line x1="380.81" y1="287.6" x2="380.81" y2="287" stroke="#000" stroke-width="0.6"/>
<line x1="382.24" y1="287.6" x2="382.24" y2="287" stroke="#000" stroke-width="0.6"/>
<line x1="383.31" y1="287.6" x2="383.31" y2="286.1" stroke="#000" stroke-width="0.6"/>
<line x1="384.43" y1="287.6" x2="384.43" y2="285.6" stroke="#000" stroke-width="0.6"/>
<line x1="385.68" y1="287.6" x2="385.68" y2="287" stroke="#000" stroke-width="0.6"/>
<line x1="386.63" y1="287.6" x2="386.63" y2="286.4" stroke="#000" stroke-width="0.6"/>
<line x1="387.61" y1="287.6" x2="387.61" y2="287" stroke="#000" stroke-width="0.6"/>
<line x1="388.51" y1="287.6" x2="388.51" y2="286.1" stroke="#000" stroke-width="0.6"/>
<line x1="389.38" y1="287.6" x2="389.38" y2="285.6" stroke="#000" stroke-width="0.6"/>
<line x1="390.42" y1="287.6" x2="390.42" y2="286.1" stroke="#000" stroke-width="0.6"/>
<line x1="391.24" y1="287.6" x2="391.24" y2="286.4" stroke="#000" stroke-width="0.6"/>
<line x1="392.3" y1="287.6" x2="392.3" y2="287" stroke="#000" stroke-width="0.6"/>
<line x1="393.23" y1="287.6" x2="393.23" y2="287" stroke="#000" stroke-width="0.6"/>
<line x1="394" y1="287.6" x2="394" y2="286.4" stroke="#000" stroke-width="0.6"/>
<line x1="395.28" y1="287.6" x2="395.28" y2="286.7" stroke="#000" stroke-width="0.6"/>
<line x1="396.6" y1="287.6" x2="396.6" y2="287" stroke="#000" stroke-width="0.6"/>
<line x1="397.86" y1="287.6" x2="397.86" y2="286.1" stroke="#000" stroke-width="0.6"/>
<line x1="399.25" y1="287.6" x2="399.25" y2="286.1" stroke="#000" stroke-width="0.6"/>
<line x1="400.22" y1="287.6" x2="400.22" y2="286.1" stroke="#000" stroke-width="0.6"/>
<line x1="401.04" y1="287.6" x2="401.04" y2="286.4" stroke="#000" stroke-width="0.6"/>
<line x1="401.99" y1="287.6" x2="401.99" y2="285.6" stroke="#000" stroke-width="0.6"/>
<line x1="403.46" y1="287.6" x2="403.46" y2="286.1" stroke="#000" stroke-width="0.6"/>
<line x1="405" y1="287.6" x2="405" y2="286.4" stroke="#000" stroke-width="0.6"/>
<line x1="406.06" y1="287.6" x2="406.06" y2="286.7" stroke="#000" stroke-width="0.6"/>
<line x1="407.2" y1="287.6" x2="407.2" y2="286.4" stroke="#000" stroke-width="0.6"/>
<line x1="408.39" y1="287.6" x2="408.39" y2="287" stroke="#000" stroke-width="0.6"/>
<line x1="409.62" y1="287.6" x2="409.62" y2="285.6" stroke="#000" stroke-width="0.6"/>
<line x1="410.41" y1="287.6" x2="410.41" y2="286.4" stroke="#000" stroke-width="0.6"/>
<line x1="411.26" y1="287.6" x2="411.26" y2="285.6" stroke="#000" stroke-width="0.6"/>
<line x1="412.1" y1="287.6" x2="412.1" y2="286.1" stroke="#000" stroke-width="0.6"/>
<line x1="413.6" y1="287.6" x2="413.6" y2="287" stroke="#000" stroke-width="0.6"/>
<line x1="415.13" y1="287.6" x2="415.13" y2="287" stroke="#000" stroke-width="0.6"/>
<line x1="415.94" y1="287.6" x2="415.94" y2="286.4" stroke="#000" stroke-width="0.6"/>
<line x1="416.99" y1="287.6" x2="416.99" y2="286.4" stroke="#000" stroke-width="0.6"/>
<line x1="418.09" y1="287.6" x2="418.09" y2="285.6" stroke="#000" stroke-width="0.6"/>
<line x1="419.05" y1="287.6" x2="419.05" y2="286.7" stroke="#000" stroke-width="0.6"/>
<line x1="420.23" y1="287.6" x2="420.23" y2="286.1" stroke="#000" stroke-width="0.6"/>
<line x1="421.02" y1="287.6" x2="421.02" y2="285.6" stroke="#000" stroke-width="0.6"/>
<line x1="421.94" y1="287.6" x2="421.94" y2="285.6" stroke="#000" stroke-width="0.6"/>
<line x1="422.87" y1="287.6" x2="422.87" y2="286.7" stroke="#000" stroke-width="0.6"/>
<line x1="423.99" y1="287.6" x2="423.99" y2="286.7" stroke="#000" stroke-width="0.6"/>
<line x1="425.05" y1="287.6" x2="425.05" y2="286.4" stroke="#000" stroke-width="0.6"/>
<line x1="426.46" y1="287.6" x2="426.46" y2="285.6" stroke="#000" stroke-width="0.6"/>
<line x1="427.81" y1="287.6" x2="427.81" y2="286.1" stroke="#000" stroke-width="0.6"/>
<line x1="428.91" y1="287.6" x2="428.91" y2="287" stroke="#000" stroke-width="0.6"/>
<line x1="430.34" y1="287.6" x2="430.34" y2="286.1" stroke="#000" stroke-width="0.6"/>
<line x1="431.83" y1="287.6" x2="431.83" y2="286.7" stroke="#000" stroke-width="0.6"/>
<line x1="432.89" y1="287.6" x2="432.89" y2="287" stroke="#000" stroke-width="0.6"/>
<line x1="434.02" y1="287.6" x2="434.02" y2="286.1" stroke="#000" stroke-width="0.6"/>
<line x1="434.95" y1="287.6" x2="434.95" y2="286.1" stroke="#000" stroke-width="0.6"/>
<text transform="translate(240.9,295.58) scale(0.86,1)" font-size="4.7" text-anchor="middle" fill="#111" stroke="#111" stroke-width="0.1">1000</text>
<text transform="translate(279.6,295.58) scale(0.86,1)" font-size="4.7" text-anchor="middle" fill="#111" stroke="#111" stroke-width="0.1">1020</text>
<text transform="translate(318.3,295.58) scale(0.86,1)" font-size="4.7" text-anchor="middle" fill="#111" stroke="#111" stroke-width="0.1">1040</text>
<text transform="translate(357,295.58) scale(0.86,1)" font-size="4.7" text-anchor="middle" fill="#111" stroke="#111" stroke-width="0.1">1060</text>
<text transform="translate(395.7,295.58) scale(0.86,1)" font-size="4.7" text-anchor="middle" fill="#111" stroke="#111" stroke-width="0.1">1080</text>
<text transform="translate(434.4,295.58) scale(0.86,1)" font-size="4.7" text-anchor="middle" fill="#111" stroke="#111" stroke-width="0.1">1100</text>
<text transform="translate(337.7,303.02) scale(0.76,1)" font-size="5.46" text-anchor="middle" fill="#111" stroke="#111" stroke-width="0.1">m/z</text>
<text transform="translate(230.2,235) rotate(-90) scale(0.87,1)" font-size="4.95" text-anchor="middle" fill="#111" stroke="#111" stroke-width="0.1">Relative Abundance</text>
<text transform="translate(379.8,167) scale(0.84,1)" font-size="9.28" text-anchor="start" fill="#000" stroke="#000" stroke-width="0.12">ESI-MS spectrum</text>
<text transform="translate(379.8,176.3) scale(0.84,1)" font-size="9.16" text-anchor="start" fill="#000" stroke="#000" stroke-width="0.12">Bacillomycin D</text>
<line x1="465.3" y1="174" x2="465.3" y2="288.1" stroke="#000" stroke-width="0.95"/>
<line x1="461.9" y1="287.6" x2="465.3" y2="287.6" stroke="#000" stroke-width="0.85"/>
<line x1="463.2" y1="285.34" x2="465.3" y2="285.34" stroke="#000" stroke-width="0.7"/>
<line x1="463.2" y1="283.07" x2="465.3" y2="283.07" stroke="#000" stroke-width="0.7"/>
<line x1="463.2" y1="280.81" x2="465.3" y2="280.81" stroke="#000" stroke-width="0.7"/>
<line x1="463.2" y1="278.54" x2="465.3" y2="278.54" stroke="#000" stroke-width="0.7"/>
<line x1="461.9" y1="276.28" x2="465.3" y2="276.28" stroke="#000" stroke-width="0.85"/>
<line x1="463.2" y1="274.02" x2="465.3" y2="274.02" stroke="#000" stroke-width="0.7"/>
<line x1="463.2" y1="271.75" x2="465.3" y2="271.75" stroke="#000" stroke-width="0.7"/>
<line x1="463.2" y1="269.49" x2="465.3" y2="269.49" stroke="#000" stroke-width="0.7"/>
<line x1="463.2" y1="267.22" x2="465.3" y2="267.22" stroke="#000" stroke-width="0.7"/>
<line x1="461.9" y1="264.96" x2="465.3" y2="264.96" stroke="#000" stroke-width="0.85"/>
<line x1="463.2" y1="262.7" x2="465.3" y2="262.7" stroke="#000" stroke-width="0.7"/>
<line x1="463.2" y1="260.43" x2="465.3" y2="260.43" stroke="#000" stroke-width="0.7"/>
<line x1="463.2" y1="258.17" x2="465.3" y2="258.17" stroke="#000" stroke-width="0.7"/>
<line x1="463.2" y1="255.9" x2="465.3" y2="255.9" stroke="#000" stroke-width="0.7"/>
<line x1="461.9" y1="253.64" x2="465.3" y2="253.64" stroke="#000" stroke-width="0.85"/>
<line x1="463.2" y1="251.38" x2="465.3" y2="251.38" stroke="#000" stroke-width="0.7"/>
<line x1="463.2" y1="249.11" x2="465.3" y2="249.11" stroke="#000" stroke-width="0.7"/>
<line x1="463.2" y1="246.85" x2="465.3" y2="246.85" stroke="#000" stroke-width="0.7"/>
<line x1="463.2" y1="244.58" x2="465.3" y2="244.58" stroke="#000" stroke-width="0.7"/>
<line x1="461.9" y1="242.32" x2="465.3" y2="242.32" stroke="#000" stroke-width="0.85"/>
<line x1="463.2" y1="240.06" x2="465.3" y2="240.06" stroke="#000" stroke-width="0.7"/>
<line x1="463.2" y1="237.79" x2="465.3" y2="237.79" stroke="#000" stroke-width="0.7"/>
<line x1="463.2" y1="235.53" x2="465.3" y2="235.53" stroke="#000" stroke-width="0.7"/>
<line x1="463.2" y1="233.26" x2="465.3" y2="233.26" stroke="#000" stroke-width="0.7"/>
<line x1="461.9" y1="231" x2="465.3" y2="231" stroke="#000" stroke-width="0.85"/>
<line x1="463.2" y1="228.74" x2="465.3" y2="228.74" stroke="#000" stroke-width="0.7"/>
<line x1="463.2" y1="226.47" x2="465.3" y2="226.47" stroke="#000" stroke-width="0.7"/>
<line x1="463.2" y1="224.21" x2="465.3" y2="224.21" stroke="#000" stroke-width="0.7"/>
<line x1="463.2" y1="221.94" x2="465.3" y2="221.94" stroke="#000" stroke-width="0.7"/>
<line x1="461.9" y1="219.68" x2="465.3" y2="219.68" stroke="#000" stroke-width="0.85"/>
<line x1="463.2" y1="217.42" x2="465.3" y2="217.42" stroke="#000" stroke-width="0.7"/>
<line x1="463.2" y1="215.15" x2="465.3" y2="215.15" stroke="#000" stroke-width="0.7"/>
<line x1="463.2" y1="212.89" x2="465.3" y2="212.89" stroke="#000" stroke-width="0.7"/>
<line x1="463.2" y1="210.62" x2="465.3" y2="210.62" stroke="#000" stroke-width="0.7"/>
<line x1="461.9" y1="208.36" x2="465.3" y2="208.36" stroke="#000" stroke-width="0.85"/>
<line x1="463.2" y1="206.1" x2="465.3" y2="206.1" stroke="#000" stroke-width="0.7"/>
<line x1="463.2" y1="203.83" x2="465.3" y2="203.83" stroke="#000" stroke-width="0.7"/>
<line x1="463.2" y1="201.57" x2="465.3" y2="201.57" stroke="#000" stroke-width="0.7"/>
<line x1="463.2" y1="199.3" x2="465.3" y2="199.3" stroke="#000" stroke-width="0.7"/>
<line x1="461.9" y1="197.04" x2="465.3" y2="197.04" stroke="#000" stroke-width="0.85"/>
<line x1="463.2" y1="194.78" x2="465.3" y2="194.78" stroke="#000" stroke-width="0.7"/>
<line x1="463.2" y1="192.51" x2="465.3" y2="192.51" stroke="#000" stroke-width="0.7"/>
<line x1="463.2" y1="190.25" x2="465.3" y2="190.25" stroke="#000" stroke-width="0.7"/>
<line x1="463.2" y1="187.98" x2="465.3" y2="187.98" stroke="#000" stroke-width="0.7"/>
<line x1="461.9" y1="185.72" x2="465.3" y2="185.72" stroke="#000" stroke-width="0.85"/>
<line x1="463.2" y1="183.46" x2="465.3" y2="183.46" stroke="#000" stroke-width="0.7"/>
<line x1="463.2" y1="181.19" x2="465.3" y2="181.19" stroke="#000" stroke-width="0.7"/>
<line x1="463.2" y1="178.93" x2="465.3" y2="178.93" stroke="#000" stroke-width="0.7"/>
<line x1="463.2" y1="176.66" x2="465.3" y2="176.66" stroke="#000" stroke-width="0.7"/>
<line x1="461.9" y1="174.4" x2="465.3" y2="174.4" stroke="#000" stroke-width="0.85"/>
<text transform="translate(459.3,289.68) scale(0.86,1)" font-size="4.7" text-anchor="end" fill="#111" stroke="#111" stroke-width="0.1">0</text>
<text transform="translate(459.3,278.36) scale(0.86,1)" font-size="4.7" text-anchor="end" fill="#111" stroke="#111" stroke-width="0.1">10</text>
<text transform="translate(459.3,267.04) scale(0.86,1)" font-size="4.7" text-anchor="end" fill="#111" stroke="#111" stroke-width="0.1">20</text>
<text transform="translate(459.3,255.72) scale(0.86,1)" font-size="4.7" text-anchor="end" fill="#111" stroke="#111" stroke-width="0.1">30</text>
<text transform="translate(459.3,244.4) scale(0.86,1)" font-size="4.7" text-anchor="end" fill="#111" stroke="#111" stroke-width="0.1">40</text>
<text transform="translate(459.3,233.08) scale(0.86,1)" font-size="4.7" text-anchor="end" fill="#111" stroke="#111" stroke-width="0.1">50</text>
<text transform="translate(459.3,221.76) scale(0.86,1)" font-size="4.7" text-anchor="end" fill="#111" stroke="#111" stroke-width="0.1">60</text>
<text transform="translate(459.3,210.44) scale(0.86,1)" font-size="4.7" text-anchor="end" fill="#111" stroke="#111" stroke-width="0.1">70</text>
<text transform="translate(459.3,199.12) scale(0.86,1)" font-size="4.7" text-anchor="end" fill="#111" stroke="#111" stroke-width="0.1">80</text>
<text transform="translate(459.3,187.8) scale(0.86,1)" font-size="4.7" text-anchor="end" fill="#111" stroke="#111" stroke-width="0.1">90</text>
<text transform="translate(459.3,176.48) scale(0.86,1)" font-size="4.7" text-anchor="end" fill="#111" stroke="#111" stroke-width="0.1">100</text>
<line x1="464.9" y1="287.6" x2="659" y2="287.6" stroke="#000" stroke-width="1"/>
<line x1="464.6" y1="287.6" x2="464.6" y2="291.4" stroke="#000" stroke-width="0.85"/>
<line x1="466.54" y1="287.6" x2="466.54" y2="290.3" stroke="#000" stroke-width="0.6"/>
<line x1="468.47" y1="287.6" x2="468.47" y2="290.3" stroke="#000" stroke-width="0.6"/>
<line x1="470.41" y1="287.6" x2="470.41" y2="290.3" stroke="#000" stroke-width="0.6"/>
<line x1="472.34" y1="287.6" x2="472.34" y2="290.3" stroke="#000" stroke-width="0.6"/>
<line x1="474.28" y1="287.6" x2="474.28" y2="290.3" stroke="#000" stroke-width="0.6"/>
<line x1="476.21" y1="287.6" x2="476.21" y2="290.3" stroke="#000" stroke-width="0.6"/>
<line x1="478.15" y1="287.6" x2="478.15" y2="290.3" stroke="#000" stroke-width="0.6"/>
<line x1="480.08" y1="287.6" x2="480.08" y2="290.3" stroke="#000" stroke-width="0.6"/>
<line x1="482.02" y1="287.6" x2="482.02" y2="290.3" stroke="#000" stroke-width="0.6"/>
<line x1="483.95" y1="287.6" x2="483.95" y2="290.3" stroke="#000" stroke-width="0.6"/>
<line x1="485.89" y1="287.6" x2="485.89" y2="290.3" stroke="#000" stroke-width="0.6"/>
<line x1="487.82" y1="287.6" x2="487.82" y2="290.3" stroke="#000" stroke-width="0.6"/>
<line x1="489.75" y1="287.6" x2="489.75" y2="290.3" stroke="#000" stroke-width="0.6"/>
<line x1="491.69" y1="287.6" x2="491.69" y2="290.3" stroke="#000" stroke-width="0.6"/>
<line x1="493.62" y1="287.6" x2="493.62" y2="290.3" stroke="#000" stroke-width="0.6"/>
<line x1="495.56" y1="287.6" x2="495.56" y2="290.3" stroke="#000" stroke-width="0.6"/>
<line x1="497.5" y1="287.6" x2="497.5" y2="290.3" stroke="#000" stroke-width="0.6"/>
<line x1="499.43" y1="287.6" x2="499.43" y2="290.3" stroke="#000" stroke-width="0.6"/>
<line x1="501.37" y1="287.6" x2="501.37" y2="290.3" stroke="#000" stroke-width="0.6"/>
<line x1="503.3" y1="287.6" x2="503.3" y2="291.4" stroke="#000" stroke-width="0.85"/>
<line x1="505.24" y1="287.6" x2="505.24" y2="290.3" stroke="#000" stroke-width="0.6"/>
<line x1="507.17" y1="287.6" x2="507.17" y2="290.3" stroke="#000" stroke-width="0.6"/>
<line x1="509.11" y1="287.6" x2="509.11" y2="290.3" stroke="#000" stroke-width="0.6"/>
<line x1="511.04" y1="287.6" x2="511.04" y2="290.3" stroke="#000" stroke-width="0.6"/>
<line x1="512.98" y1="287.6" x2="512.98" y2="290.3" stroke="#000" stroke-width="0.6"/>
<line x1="514.91" y1="287.6" x2="514.91" y2="290.3" stroke="#000" stroke-width="0.6"/>
<line x1="516.85" y1="287.6" x2="516.85" y2="290.3" stroke="#000" stroke-width="0.6"/>
<line x1="518.78" y1="287.6" x2="518.78" y2="290.3" stroke="#000" stroke-width="0.6"/>
<line x1="520.72" y1="287.6" x2="520.72" y2="290.3" stroke="#000" stroke-width="0.6"/>
<line x1="522.65" y1="287.6" x2="522.65" y2="290.3" stroke="#000" stroke-width="0.6"/>
<line x1="524.59" y1="287.6" x2="524.59" y2="290.3" stroke="#000" stroke-width="0.6"/>
<line x1="526.52" y1="287.6" x2="526.52" y2="290.3" stroke="#000" stroke-width="0.6"/>
<line x1="528.46" y1="287.6" x2="528.46" y2="290.3" stroke="#000" stroke-width="0.6"/>
<line x1="530.39" y1="287.6" x2="530.39" y2="290.3" stroke="#000" stroke-width="0.6"/>
<line x1="532.33" y1="287.6" x2="532.33" y2="290.3" stroke="#000" stroke-width="0.6"/>
<line x1="534.26" y1="287.6" x2="534.26" y2="290.3" stroke="#000" stroke-width="0.6"/>
<line x1="536.2" y1="287.6" x2="536.2" y2="290.3" stroke="#000" stroke-width="0.6"/>
<line x1="538.13" y1="287.6" x2="538.13" y2="290.3" stroke="#000" stroke-width="0.6"/>
<line x1="540.07" y1="287.6" x2="540.07" y2="290.3" stroke="#000" stroke-width="0.6"/>
<line x1="542" y1="287.6" x2="542" y2="291.4" stroke="#000" stroke-width="0.85"/>
<line x1="543.94" y1="287.6" x2="543.94" y2="290.3" stroke="#000" stroke-width="0.6"/>
<line x1="545.87" y1="287.6" x2="545.87" y2="290.3" stroke="#000" stroke-width="0.6"/>
<line x1="547.81" y1="287.6" x2="547.81" y2="290.3" stroke="#000" stroke-width="0.6"/>
<line x1="549.74" y1="287.6" x2="549.74" y2="290.3" stroke="#000" stroke-width="0.6"/>
<line x1="551.68" y1="287.6" x2="551.68" y2="290.3" stroke="#000" stroke-width="0.6"/>
<line x1="553.61" y1="287.6" x2="553.61" y2="290.3" stroke="#000" stroke-width="0.6"/>
<line x1="555.55" y1="287.6" x2="555.55" y2="290.3" stroke="#000" stroke-width="0.6"/>
<line x1="557.48" y1="287.6" x2="557.48" y2="290.3" stroke="#000" stroke-width="0.6"/>
<line x1="559.41" y1="287.6" x2="559.41" y2="290.3" stroke="#000" stroke-width="0.6"/>
<line x1="561.35" y1="287.6" x2="561.35" y2="290.3" stroke="#000" stroke-width="0.6"/>
<line x1="563.29" y1="287.6" x2="563.29" y2="290.3" stroke="#000" stroke-width="0.6"/>
<line x1="565.22" y1="287.6" x2="565.22" y2="290.3" stroke="#000" stroke-width="0.6"/>
<line x1="567.15" y1="287.6" x2="567.15" y2="290.3" stroke="#000" stroke-width="0.6"/>
<line x1="569.09" y1="287.6" x2="569.09" y2="290.3" stroke="#000" stroke-width="0.6"/>
<line x1="571.02" y1="287.6" x2="571.02" y2="290.3" stroke="#000" stroke-width="0.6"/>
<line x1="572.96" y1="287.6" x2="572.96" y2="290.3" stroke="#000" stroke-width="0.6"/>
<line x1="574.89" y1="287.6" x2="574.89" y2="290.3" stroke="#000" stroke-width="0.6"/>
<line x1="576.83" y1="287.6" x2="576.83" y2="290.3" stroke="#000" stroke-width="0.6"/>
<line x1="578.76" y1="287.6" x2="578.76" y2="290.3" stroke="#000" stroke-width="0.6"/>
<line x1="580.7" y1="287.6" x2="580.7" y2="291.4" stroke="#000" stroke-width="0.85"/>
<line x1="582.63" y1="287.6" x2="582.63" y2="290.3" stroke="#000" stroke-width="0.6"/>
<line x1="584.57" y1="287.6" x2="584.57" y2="290.3" stroke="#000" stroke-width="0.6"/>
<line x1="586.5" y1="287.6" x2="586.5" y2="290.3" stroke="#000" stroke-width="0.6"/>
<line x1="588.44" y1="287.6" x2="588.44" y2="290.3" stroke="#000" stroke-width="0.6"/>
<line x1="590.38" y1="287.6" x2="590.38" y2="290.3" stroke="#000" stroke-width="0.6"/>
<line x1="592.31" y1="287.6" x2="592.31" y2="290.3" stroke="#000" stroke-width="0.6"/>
<line x1="594.25" y1="287.6" x2="594.25" y2="290.3" stroke="#000" stroke-width="0.6"/>
<line x1="596.18" y1="287.6" x2="596.18" y2="290.3" stroke="#000" stroke-width="0.6"/>
<line x1="598.12" y1="287.6" x2="598.12" y2="290.3" stroke="#000" stroke-width="0.6"/>
<line x1="600.05" y1="287.6" x2="600.05" y2="290.3" stroke="#000" stroke-width="0.6"/>
<line x1="601.99" y1="287.6" x2="601.99" y2="290.3" stroke="#000" stroke-width="0.6"/>
<line x1="603.92" y1="287.6" x2="603.92" y2="290.3" stroke="#000" stroke-width="0.6"/>
<line x1="605.86" y1="287.6" x2="605.86" y2="290.3" stroke="#000" stroke-width="0.6"/>
<line x1="607.79" y1="287.6" x2="607.79" y2="290.3" stroke="#000" stroke-width="0.6"/>
<line x1="609.73" y1="287.6" x2="609.73" y2="290.3" stroke="#000" stroke-width="0.6"/>
<line x1="611.66" y1="287.6" x2="611.66" y2="290.3" stroke="#000" stroke-width="0.6"/>
<line x1="613.6" y1="287.6" x2="613.6" y2="290.3" stroke="#000" stroke-width="0.6"/>
<line x1="615.53" y1="287.6" x2="615.53" y2="290.3" stroke="#000" stroke-width="0.6"/>
<line x1="617.47" y1="287.6" x2="617.47" y2="290.3" stroke="#000" stroke-width="0.6"/>
<line x1="619.4" y1="287.6" x2="619.4" y2="291.4" stroke="#000" stroke-width="0.85"/>
<line x1="621.34" y1="287.6" x2="621.34" y2="290.3" stroke="#000" stroke-width="0.6"/>
<line x1="623.27" y1="287.6" x2="623.27" y2="290.3" stroke="#000" stroke-width="0.6"/>
<line x1="625.21" y1="287.6" x2="625.21" y2="290.3" stroke="#000" stroke-width="0.6"/>
<line x1="627.14" y1="287.6" x2="627.14" y2="290.3" stroke="#000" stroke-width="0.6"/>
<line x1="629.08" y1="287.6" x2="629.08" y2="290.3" stroke="#000" stroke-width="0.6"/>
<line x1="631.01" y1="287.6" x2="631.01" y2="290.3" stroke="#000" stroke-width="0.6"/>
<line x1="632.95" y1="287.6" x2="632.95" y2="290.3" stroke="#000" stroke-width="0.6"/>
<line x1="634.88" y1="287.6" x2="634.88" y2="290.3" stroke="#000" stroke-width="0.6"/>
<line x1="636.82" y1="287.6" x2="636.82" y2="290.3" stroke="#000" stroke-width="0.6"/>
<line x1="638.75" y1="287.6" x2="638.75" y2="290.3" stroke="#000" stroke-width="0.6"/>
<line x1="640.69" y1="287.6" x2="640.69" y2="290.3" stroke="#000" stroke-width="0.6"/>
<line x1="642.62" y1="287.6" x2="642.62" y2="290.3" stroke="#000" stroke-width="0.6"/>
<line x1="644.56" y1="287.6" x2="644.56" y2="290.3" stroke="#000" stroke-width="0.6"/>
<line x1="646.49" y1="287.6" x2="646.49" y2="290.3" stroke="#000" stroke-width="0.6"/>
<line x1="648.43" y1="287.6" x2="648.43" y2="290.3" stroke="#000" stroke-width="0.6"/>
<line x1="650.36" y1="287.6" x2="650.36" y2="290.3" stroke="#000" stroke-width="0.6"/>
<line x1="652.3" y1="287.6" x2="652.3" y2="290.3" stroke="#000" stroke-width="0.6"/>
<line x1="654.23" y1="287.6" x2="654.23" y2="290.3" stroke="#000" stroke-width="0.6"/>
<line x1="656.16" y1="287.6" x2="656.16" y2="290.3" stroke="#000" stroke-width="0.6"/>
<line x1="658.1" y1="287.6" x2="658.1" y2="291.4" stroke="#000" stroke-width="0.85"/>
<line x1="466.1" y1="287.6" x2="466.1" y2="286.7" stroke="#000" stroke-width="0.6"/>
<line x1="467.33" y1="287.6" x2="467.33" y2="286.7" stroke="#000" stroke-width="0.6"/>
<line x1="468.37" y1="287.6" x2="468.37" y2="285.6" stroke="#000" stroke-width="0.6"/>
<line x1="469.49" y1="287.6" x2="469.49" y2="285.6" stroke="#000" stroke-width="0.6"/>
<line x1="470.25" y1="287.6" x2="470.25" y2="287" stroke="#000" stroke-width="0.6"/>
<line x1="471.77" y1="287.6" x2="471.77" y2="286.1" stroke="#000" stroke-width="0.6"/>
<line x1="472.7" y1="287.6" x2="472.7" y2="286.7" stroke="#000" stroke-width="0.6"/>
<line x1="473.58" y1="287.6" x2="473.58" y2="286.1" stroke="#000" stroke-width="0.6"/>
<line x1="474.76" y1="287.6" x2="474.76" y2="285.6" stroke="#000" stroke-width="0.6"/>
<line x1="475.89" y1="287.6" x2="475.89" y2="286.7" stroke="#000" stroke-width="0.6"/>
<line x1="476.8" y1="287.6" x2="476.8" y2="286.7" stroke="#000" stroke-width="0.6"/>
<line x1="478.28" y1="287.6" x2="478.28" y2="285.6" stroke="#000" stroke-width="0.6"/>
<line x1="479.33" y1="287.6" x2="479.33" y2="287" stroke="#000" stroke-width="0.6"/>
<line x1="480.64" y1="287.6" x2="480.64" y2="287" stroke="#000" stroke-width="0.6"/>
<line x1="481.48" y1="287.6" x2="481.48" y2="285.6" stroke="#000" stroke-width="0.6"/>
<line x1="482.22" y1="287.6" x2="482.22" y2="287" stroke="#000" stroke-width="0.6"/>
<line x1="483.66" y1="287.6" x2="483.66" y2="286.4" stroke="#000" stroke-width="0.6"/>
<line x1="484.79" y1="287.6" x2="484.79" y2="286.1" stroke="#000" stroke-width="0.6"/>
<line x1="486.13" y1="287.6" x2="486.13" y2="286.1" stroke="#000" stroke-width="0.6"/>
<line x1="487.18" y1="287.6" x2="487.18" y2="285.6" stroke="#000" stroke-width="0.6"/>
<line x1="488.28" y1="287.6" x2="488.28" y2="286.7" stroke="#000" stroke-width="0.6"/>
<line x1="489.77" y1="287.6" x2="489.77" y2="287" stroke="#000" stroke-width="0.6"/>
<line x1="490.51" y1="287.6" x2="490.51" y2="286.1" stroke="#000" stroke-width="0.6"/>
<line x1="491.4" y1="287.6" x2="491.4" y2="286.1" stroke="#000" stroke-width="0.6"/>
<line x1="492.8" y1="287.6" x2="492.8" y2="286.4" stroke="#000" stroke-width="0.6"/>
<line x1="493.88" y1="287.6" x2="493.88" y2="286.1" stroke="#000" stroke-width="0.6"/>
<line x1="495.1" y1="287.6" x2="495.1" y2="285.6" stroke="#000" stroke-width="0.6"/>
<line x1="496.33" y1="287.6" x2="496.33" y2="285.6" stroke="#000" stroke-width="0.6"/>
<line x1="497.23" y1="287.6" x2="497.23" y2="286.4" stroke="#000" stroke-width="0.6"/>
<line x1="498.55" y1="287.6" x2="498.55" y2="287" stroke="#000" stroke-width="0.6"/>
<line x1="500.02" y1="287.6" x2="500.02" y2="285.6" stroke="#000" stroke-width="0.6"/>
<line x1="501.32" y1="287.6" x2="501.32" y2="286.7" stroke="#000" stroke-width="0.6"/>
<line x1="502.65" y1="287.6" x2="502.65" y2="286.4" stroke="#000" stroke-width="0.6"/>
<line x1="504.22" y1="287.6" x2="504.22" y2="285.6" stroke="#000" stroke-width="0.6"/>
<line x1="505.43" y1="287.6" x2="505.43" y2="286.7" stroke="#000" stroke-width="0.6"/>
<line x1="506.7" y1="287.6" x2="506.7" y2="285.6" stroke="#000" stroke-width="0.6"/>
<line x1="507.64" y1="287.6" x2="507.64" y2="287" stroke="#000" stroke-width="0.6"/>
<line x1="508.4" y1="287.6" x2="508.4" y2="286.1" stroke="#000" stroke-width="0.6"/>
<line x1="509.18" y1="287.6" x2="509.18" y2="287" stroke="#000" stroke-width="0.6"/>
<line x1="510.25" y1="287.6" x2="510.25" y2="286.7" stroke="#000" stroke-width="0.6"/>
<line x1="510.97" y1="287.6" x2="510.97" y2="286.1" stroke="#000" stroke-width="0.6"/>
<line x1="512.36" y1="287.6" x2="512.36" y2="287" stroke="#000" stroke-width="0.6"/>
<line x1="513.1" y1="287.6" x2="513.1" y2="285.6" stroke="#000" stroke-width="0.6"/>
<line x1="514.48" y1="287.6" x2="514.48" y2="286.1" stroke="#000" stroke-width="0.6"/>
<line x1="515.83" y1="287.6" x2="515.83" y2="286.4" stroke="#000" stroke-width="0.6"/>
<line x1="517.03" y1="287.6" x2="517.03" y2="286.4" stroke="#000" stroke-width="0.6"/>
<line x1="518.18" y1="287.6" x2="518.18" y2="287" stroke="#000" stroke-width="0.6"/>
<line x1="519.16" y1="287.6" x2="519.16" y2="287" stroke="#000" stroke-width="0.6"/>
<line x1="519.96" y1="287.6" x2="519.96" y2="285.6" stroke="#000" stroke-width="0.6"/>
<line x1="520.69" y1="287.6" x2="520.69" y2="286.7" stroke="#000" stroke-width="0.6"/>
<line x1="522.26" y1="287.6" x2="522.26" y2="286.4" stroke="#000" stroke-width="0.6"/>
<line x1="523.51" y1="287.6" x2="523.51" y2="286.7" stroke="#000" stroke-width="0.6"/>
<line x1="524.83" y1="287.6" x2="524.83" y2="286.4" stroke="#000" stroke-width="0.6"/>
<line x1="525.81" y1="287.6" x2="525.81" y2="286.7" stroke="#000" stroke-width="0.6"/>
<line x1="527.32" y1="287.6" x2="527.32" y2="286.1" stroke="#000" stroke-width="0.6"/>
<line x1="528.36" y1="287.6" x2="528.36" y2="285.6" stroke="#000" stroke-width="0.6"/>
<line x1="529.41" y1="287.6" x2="529.41" y2="285.6" stroke="#000" stroke-width="0.6"/>
<line x1="530.72" y1="287.6" x2="530.72" y2="287" stroke="#000" stroke-width="0.6"/>
<line x1="531.98" y1="287.6" x2="531.98" y2="285.6" stroke="#000" stroke-width="0.6"/>
<line x1="532.92" y1="287.6" x2="532.92" y2="286.7" stroke="#000" stroke-width="0.6"/>
<line x1="534.46" y1="287.6" x2="534.46" y2="286.1" stroke="#000" stroke-width="0.6"/>
<line x1="536.04" y1="287.6" x2="536.04" y2="285.6" stroke="#000" stroke-width="0.6"/>
<line x1="537.02" y1="287.6" x2="537.02" y2="286.4" stroke="#000" stroke-width="0.6"/>
<line x1="537.73" y1="287.6" x2="537.73" y2="286.1" stroke="#000" stroke-width="0.6"/>
<line x1="539.32" y1="287.6" x2="539.32" y2="286.4" stroke="#000" stroke-width="0.6"/>
<line x1="540.03" y1="287.6" x2="540.03" y2="285.6" stroke="#000" stroke-width="0.6"/>
<line x1="541.26" y1="287.6" x2="541.26" y2="286.7" stroke="#000" stroke-width="0.6"/>
<line x1="542.02" y1="287.6" x2="542.02" y2="286.4" stroke="#000" stroke-width="0.6"/>
<line x1="543.14" y1="287.6" x2="543.14" y2="286.4" stroke="#000" stroke-width="0.6"/>
<line x1="544.39" y1="287.6" x2="544.39" y2="286.4" stroke="#000" stroke-width="0.6"/>
<line x1="545.75" y1="287.6" x2="545.75" y2="287" stroke="#000" stroke-width="0.6"/>
<line x1="546.98" y1="287.6" x2="546.98" y2="287" stroke="#000" stroke-width="0.6"/>
<line x1="548.55" y1="287.6" x2="548.55" y2="286.4" stroke="#000" stroke-width="0.6"/>
<line x1="549.81" y1="287.6" x2="549.81" y2="286.4" stroke="#000" stroke-width="0.6"/>
<line x1="551.05" y1="287.6" x2="551.05" y2="286.4" stroke="#000" stroke-width="0.6"/>
<line x1="551.91" y1="287.6" x2="551.91" y2="286.7" stroke="#000" stroke-width="0.6"/>
<line x1="552.89" y1="287.6" x2="552.89" y2="286.4" stroke="#000" stroke-width="0.6"/>
<line x1="554.35" y1="287.6" x2="554.35" y2="286.4" stroke="#000" stroke-width="0.6"/>
<line x1="555.32" y1="287.6" x2="555.32" y2="286.1" stroke="#000" stroke-width="0.6"/>
<line x1="556.11" y1="287.6" x2="556.11" y2="287" stroke="#000" stroke-width="0.6"/>
<line x1="557.69" y1="287.6" x2="557.69" y2="286.7" stroke="#000" stroke-width="0.6"/>
<line x1="558.66" y1="287.6" x2="558.66" y2="286.7" stroke="#000" stroke-width="0.6"/>
<line x1="559.95" y1="287.6" x2="559.95" y2="286.4" stroke="#000" stroke-width="0.6"/>
<line x1="560.87" y1="287.6" x2="560.87" y2="286.7" stroke="#000" stroke-width="0.6"/>
<line x1="562.18" y1="287.6" x2="562.18" y2="287" stroke="#000" stroke-width="0.6"/>
<line x1="562.97" y1="287.6" x2="562.97" y2="286.4" stroke="#000" stroke-width="0.6"/>
<line x1="564.52" y1="287.6" x2="564.52" y2="286.7" stroke="#000" stroke-width="0.6"/>
<line x1="565.62" y1="287.6" x2="565.62" y2="286.7" stroke="#000" stroke-width="0.6"/>
<line x1="566.39" y1="287.6" x2="566.39" y2="286.7" stroke="#000" stroke-width="0.6"/>
<line x1="567.89" y1="287.6" x2="567.89" y2="286.1" stroke="#000" stroke-width="0.6"/>
<line x1="568.83" y1="287.6" x2="568.83" y2="287" stroke="#000" stroke-width="0.6"/>
<line x1="569.56" y1="287.6" x2="569.56" y2="286.7" stroke="#000" stroke-width="0.6"/>
<line x1="570.54" y1="287.6" x2="570.54" y2="285.6" stroke="#000" stroke-width="0.6"/>
<line x1="571.41" y1="287.6" x2="571.41" y2="286.4" stroke="#000" stroke-width="0.6"/>
<line x1="572.42" y1="287.6" x2="572.42" y2="287" stroke="#000" stroke-width="0.6"/>
<line x1="573.84" y1="287.6" x2="573.84" y2="286.4" stroke="#000" stroke-width="0.6"/>
<line x1="575.07" y1="287.6" x2="575.07" y2="286.1" stroke="#000" stroke-width="0.6"/>
<line x1="576.03" y1="287.6" x2="576.03" y2="286.4" stroke="#000" stroke-width="0.6"/>
<line x1="577.15" y1="287.6" x2="577.15" y2="286.1" stroke="#000" stroke-width="0.6"/>
<line x1="578.11" y1="287.6" x2="578.11" y2="285.6" stroke="#000" stroke-width="0.6"/>
<line x1="579.18" y1="287.6" x2="579.18" y2="286.1" stroke="#000" stroke-width="0.6"/>
<line x1="580.02" y1="287.6" x2="580.02" y2="287" stroke="#000" stroke-width="0.6"/>
<line x1="581.15" y1="287.6" x2="581.15" y2="285.6" stroke="#000" stroke-width="0.6"/>
<line x1="582.74" y1="287.6" x2="582.74" y2="286.1" stroke="#000" stroke-width="0.6"/>
<line x1="583.94" y1="287.6" x2="583.94" y2="286.7" stroke="#000" stroke-width="0.6"/>
<line x1="584.67" y1="287.6" x2="584.67" y2="286.1" stroke="#000" stroke-width="0.6"/>
<line x1="586.13" y1="287.6" x2="586.13" y2="285.6" stroke="#000" stroke-width="0.6"/>
<line x1="587.69" y1="287.6" x2="587.69" y2="285.6" stroke="#000" stroke-width="0.6"/>
<line x1="588.7" y1="287.6" x2="588.7" y2="286.7" stroke="#000" stroke-width="0.6"/>
<line x1="590.18" y1="287.6" x2="590.18" y2="285.6" stroke="#000" stroke-width="0.6"/>
<line x1="591.75" y1="287.6" x2="591.75" y2="287" stroke="#000" stroke-width="0.6"/>
<line x1="593.18" y1="287.6" x2="593.18" y2="287" stroke="#000" stroke-width="0.6"/>
<line x1="593.91" y1="287.6" x2="593.91" y2="285.6" stroke="#000" stroke-width="0.6"/>
<line x1="595.44" y1="287.6" x2="595.44" y2="286.1" stroke="#000" stroke-width="0.6"/>
<line x1="596.66" y1="287.6" x2="596.66" y2="287" stroke="#000" stroke-width="0.6"/>
<line x1="597.79" y1="287.6" x2="597.79" y2="287" stroke="#000" stroke-width="0.6"/>
<line x1="598.65" y1="287.6" x2="598.65" y2="286.4" stroke="#000" stroke-width="0.6"/>
<line x1="599.56" y1="287.6" x2="599.56" y2="287" stroke="#000" stroke-width="0.6"/>
<line x1="600.74" y1="287.6" x2="600.74" y2="286.1" stroke="#000" stroke-width="0.6"/>
<line x1="601.48" y1="287.6" x2="601.48" y2="285.6" stroke="#000" stroke-width="0.6"/>
<line x1="602.29" y1="287.6" x2="602.29" y2="286.7" stroke="#000" stroke-width="0.6"/>
<line x1="603.21" y1="287.6" x2="603.21" y2="285.6" stroke="#000" stroke-width="0.6"/>
<line x1="604.34" y1="287.6" x2="604.34" y2="287" stroke="#000" stroke-width="0.6"/>
<line x1="605.36" y1="287.6" x2="605.36" y2="286.7" stroke="#000" stroke-width="0.6"/>
<line x1="606.17" y1="287.6" x2="606.17" y2="287" stroke="#000" stroke-width="0.6"/>
<line x1="607.02" y1="287.6" x2="607.02" y2="286.4" stroke="#000" stroke-width="0.6"/>
<line x1="608.55" y1="287.6" x2="608.55" y2="286.7" stroke="#000" stroke-width="0.6"/>
<line x1="609.99" y1="287.6" x2="609.99" y2="287" stroke="#000" stroke-width="0.6"/>
<line x1="611.13" y1="287.6" x2="611.13" y2="285.6" stroke="#000" stroke-width="0.6"/>
<line x1="612.61" y1="287.6" x2="612.61" y2="287" stroke="#000" stroke-width="0.6"/>
<line x1="613.99" y1="287.6" x2="613.99" y2="286.7" stroke="#000" stroke-width="0.6"/>
<line x1="614.93" y1="287.6" x2="614.93" y2="285.6" stroke="#000" stroke-width="0.6"/>
<line x1="616.1" y1="287.6" x2="616.1" y2="287" stroke="#000" stroke-width="0.6"/>
<line x1="617.23" y1="287.6" x2="617.23" y2="287" stroke="#000" stroke-width="0.6"/>
<line x1="618.7" y1="287.6" x2="618.7" y2="286.7" stroke="#000" stroke-width="0.6"/>
<line x1="619.44" y1="287.6" x2="619.44" y2="287" stroke="#000" stroke-width="0.6"/>
<line x1="620.2" y1="287.6" x2="620.2" y2="287" stroke="#000" stroke-width="0.6"/>
<line x1="621.67" y1="287.6" x2="621.67" y2="287" stroke="#000" stroke-width="0.6"/>
<line x1="622.83" y1="287.6" x2="622.83" y2="286.1" stroke="#000" stroke-width="0.6"/>
<line x1="623.82" y1="287.6" x2="623.82" y2="286.4" stroke="#000" stroke-width="0.6"/>
<line x1="624.58" y1="287.6" x2="624.58" y2="286.1" stroke="#000" stroke-width="0.6"/>
<line x1="625.86" y1="287.6" x2="625.86" y2="285.6" stroke="#000" stroke-width="0.6"/>
<line x1="626.84" y1="287.6" x2="626.84" y2="286.4" stroke="#000" stroke-width="0.6"/>
<line x1="627.71" y1="287.6" x2="627.71" y2="286.4" stroke="#000" stroke-width="0.6"/>
<line x1="628.8" y1="287.6" x2="628.8" y2="286.7" stroke="#000" stroke-width="0.6"/>
<line x1="630" y1="287.6" x2="630" y2="286.1" stroke="#000" stroke-width="0.6"/>
<line x1="631.41" y1="287.6" x2="631.41" y2="285.6" stroke="#000" stroke-width="0.6"/>
<line x1="632.27" y1="287.6" x2="632.27" y2="286.4" stroke="#000" stroke-width="0.6"/>
<line x1="633.39" y1="287.6" x2="633.39" y2="285.6" stroke="#000" stroke-width="0.6"/>
<line x1="634.43" y1="287.6" x2="634.43" y2="287" stroke="#000" stroke-width="0.6"/>
<line x1="635.69" y1="287.6" x2="635.69" y2="286.1" stroke="#000" stroke-width="0.6"/>
<line x1="636.44" y1="287.6" x2="636.44" y2="286.1" stroke="#000" stroke-width="0.6"/>
<line x1="637.82" y1="287.6" x2="637.82" y2="286.4" stroke="#000" stroke-width="0.6"/>
<line x1="638.9" y1="287.6" x2="638.9" y2="286.1" stroke="#000" stroke-width="0.6"/>
<line x1="640.01" y1="287.6" x2="640.01" y2="286.7" stroke="#000" stroke-width="0.6"/>
<line x1="640.91" y1="287.6" x2="640.91" y2="286.4" stroke="#000" stroke-width="0.6"/>
<line x1="642.24" y1="287.6" x2="642.24" y2="287" stroke="#000" stroke-width="0.6"/>
<line x1="643.66" y1="287.6" x2="643.66" y2="286.7" stroke="#000" stroke-width="0.6"/>
<line x1="644.74" y1="287.6" x2="644.74" y2="287" stroke="#000" stroke-width="0.6"/>
<line x1="646.29" y1="287.6" x2="646.29" y2="286.4" stroke="#000" stroke-width="0.6"/>
<line x1="647.86" y1="287.6" x2="647.86" y2="285.6" stroke="#000" stroke-width="0.6"/>
<line x1="649.27" y1="287.6" x2="649.27" y2="286.4" stroke="#000" stroke-width="0.6"/>
<line x1="650.08" y1="287.6" x2="650.08" y2="287" stroke="#000" stroke-width="0.6"/>
<line x1="651.62" y1="287.6" x2="651.62" y2="285.6" stroke="#000" stroke-width="0.6"/>
<line x1="653.04" y1="287.6" x2="653.04" y2="287" stroke="#000" stroke-width="0.6"/>
<line x1="654.4" y1="287.6" x2="654.4" y2="285.6" stroke="#000" stroke-width="0.6"/>
<line x1="655.58" y1="287.6" x2="655.58" y2="285.6" stroke="#000" stroke-width="0.6"/>
<line x1="656.92" y1="287.6" x2="656.92" y2="286.1" stroke="#000" stroke-width="0.6"/>
<line x1="657.75" y1="287.6" x2="657.75" y2="286.1" stroke="#000" stroke-width="0.6"/>
<line x1="658.49" y1="287.6" x2="658.49" y2="287" stroke="#000" stroke-width="0.6"/>
<text transform="translate(463.5,295.58) scale(0.86,1)" font-size="4.7" text-anchor="middle" fill="#111" stroke="#111" stroke-width="0.1">1000</text>
<text transform="translate(502.2,295.58) scale(0.86,1)" font-size="4.7" text-anchor="middle" fill="#111" stroke="#111" stroke-width="0.1">1020</text>
<text transform="translate(540.9,295.58) scale(0.86,1)" font-size="4.7" text-anchor="middle" fill="#111" stroke="#111" stroke-width="0.1">1040</text>
<text transform="translate(579.6,295.58) scale(0.86,1)" font-size="4.7" text-anchor="middle" fill="#111" stroke="#111" stroke-width="0.1">1060</text>
<text transform="translate(618.3,295.58) scale(0.86,1)" font-size="4.7" text-anchor="middle" fill="#111" stroke="#111" stroke-width="0.1">1080</text>
<text transform="translate(657,295.58) scale(0.86,1)" font-size="4.7" text-anchor="middle" fill="#111" stroke="#111" stroke-width="0.1">1100</text>
<text transform="translate(560.3,303.02) scale(0.76,1)" font-size="5.46" text-anchor="middle" fill="#111" stroke="#111" stroke-width="0.1">m/z</text>
<text transform="translate(452.8,235) rotate(-90) scale(0.87,1)" font-size="4.95" text-anchor="middle" fill="#111" stroke="#111" stroke-width="0.1">Relative Abundance</text>
<text transform="translate(607.7,167) scale(0.84,1)" font-size="9.28" text-anchor="start" fill="#000" stroke="#000" stroke-width="0.12">ESI-MS spectrum</text>
<text transform="translate(607.7,176.3) scale(0.84,1)" font-size="9.16" text-anchor="start" fill="#000" stroke="#000" stroke-width="0.12">Bacillomycin D</text>
<line x1="23.2" y1="287.6" x2="23.2" y2="255.4" stroke="#000" stroke-width="1.05"/>
<line x1="25.4" y1="287.6" x2="25.4" y2="269.3" stroke="#000" stroke-width="1.05"/>
<line x1="27.6" y1="287.6" x2="27.6" y2="277.9" stroke="#000" stroke-width="1.05"/>
<line x1="29.5" y1="287.6" x2="29.5" y2="282.9" stroke="#000" stroke-width="1.05"/>
<line x1="33.1" y1="287.6" x2="33.1" y2="262.6" stroke="#7e7e7e" stroke-width="1.1"/>
<line x1="35" y1="287.6" x2="35" y2="274.8" stroke="#7e7e7e" stroke-width="1.1"/>
<line x1="36.8" y1="287.6" x2="36.8" y2="282.9" stroke="#7e7e7e" stroke-width="1.1"/>
<line x1="46.4" y1="287.6" x2="46.4" y2="285" stroke="#000" stroke-width="1.05"/>
<line x1="54.4" y1="287.6" x2="54.4" y2="283" stroke="#000" stroke-width="1.05"/>
<line x1="56.3" y1="287.6" x2="56.3" y2="284" stroke="#000" stroke-width="1.05"/>
<line x1="65.5" y1="287.6" x2="65.5" y2="285" stroke="#000" stroke-width="1.05"/>
<line x1="69.9" y1="287.6" x2="69.9" y2="281.6" stroke="#000" stroke-width="1.05"/>
<line x1="71.3" y1="287.6" x2="71.3" y2="284" stroke="#000" stroke-width="1.05"/>
<line x1="77.3" y1="287.6" x2="77.3" y2="285" stroke="#000" stroke-width="1.05"/>
<line x1="81" y1="287.6" x2="81" y2="188.1" stroke="#7e7e7e" stroke-width="1.3"/>
<line x1="81.4" y1="287.6" x2="81.4" y2="223.3" stroke="#000" stroke-width="1.05"/>
<line x1="83.1" y1="287.6" x2="83.1" y2="232.3" stroke="#7e7e7e" stroke-width="1.2"/>
<line x1="84.7" y1="287.6" x2="84.7" y2="268.7" stroke="#7e7e7e" stroke-width="1.1"/>
<line x1="86.5" y1="287.6" x2="86.5" y2="282.9" stroke="#7e7e7e" stroke-width="1.1"/>
<line x1="99.6" y1="287.6" x2="99.6" y2="284.1" stroke="#000" stroke-width="2.2"/>
<line x1="107.9" y1="287.6" x2="107.9" y2="174.2" stroke="#7e7e7e" stroke-width="1.3"/>
<line x1="107.6" y1="287.6" x2="107.6" y2="257.6" stroke="#000" stroke-width="1.05"/>
<line x1="110" y1="287.6" x2="110" y2="220.9" stroke="#555" stroke-width="1.2"/>
<line x1="111.9" y1="287.6" x2="111.9" y2="264.3" stroke="#7e7e7e" stroke-width="1.1"/>
<line x1="113.8" y1="287.6" x2="113.8" y2="282.2" stroke="#7e7e7e" stroke-width="1.1"/>
<line x1="116.1" y1="287.6" x2="116.1" y2="284" stroke="#7e7e7e" stroke-width="1.1"/>
<line x1="123.6" y1="287.6" x2="123.6" y2="257" stroke="#000" stroke-width="1.05"/>
<line x1="125.5" y1="287.6" x2="125.5" y2="271.1" stroke="#000" stroke-width="1.05"/>
<line x1="127.6" y1="287.6" x2="127.6" y2="279.2" stroke="#000" stroke-width="1.05"/>
<line x1="129.4" y1="287.6" x2="129.4" y2="283.5" stroke="#000" stroke-width="1.05"/>
<line x1="135" y1="287.6" x2="135" y2="257" stroke="#7e7e7e" stroke-width="1.2"/>
<line x1="136.9" y1="287.6" x2="136.9" y2="269.9" stroke="#7e7e7e" stroke-width="1.1"/>
<line x1="139.1" y1="287.6" x2="139.1" y2="281" stroke="#7e7e7e" stroke-width="1.1"/>
<line x1="142.8" y1="287.6" x2="142.8" y2="282.9" stroke="#7e7e7e" stroke-width="1.1"/>
<line x1="150.4" y1="287.6" x2="150.4" y2="243.4" stroke="#000" stroke-width="1.05"/>
<line x1="152.5" y1="287.6" x2="152.5" y2="261.3" stroke="#000" stroke-width="1.05"/>
<line x1="154.7" y1="287.6" x2="154.7" y2="278.2" stroke="#000" stroke-width="1.05"/>
<line x1="161.7" y1="287.6" x2="161.7" y2="276" stroke="#7e7e7e" stroke-width="1.1"/>
<line x1="164" y1="287.6" x2="164" y2="280.4" stroke="#7e7e7e" stroke-width="1.1"/>
<line x1="166" y1="287.6" x2="166" y2="285" stroke="#7e7e7e" stroke-width="1.1"/>
<line x1="173.3" y1="287.6" x2="173.3" y2="285" stroke="#000" stroke-width="1.05"/>
<line x1="177" y1="287.6" x2="177" y2="274.8" stroke="#000" stroke-width="1.05"/>
<line x1="179.3" y1="287.6" x2="179.3" y2="279.2" stroke="#000" stroke-width="1.05"/>
<line x1="181.4" y1="287.6" x2="181.4" y2="256.9" stroke="#000" stroke-width="1.05"/>
<line x1="183.2" y1="287.6" x2="183.2" y2="269.9" stroke="#7e7e7e" stroke-width="1.1"/>
<line x1="185" y1="287.6" x2="185" y2="281.6" stroke="#7e7e7e" stroke-width="1.1"/>
<line x1="187.3" y1="287.6" x2="187.3" y2="275" stroke="#000" stroke-width="1.05"/>
<line x1="188" y1="287.6" x2="188" y2="266" stroke="#000" stroke-width="1.05"/>
<line x1="188.7" y1="287.6" x2="188.7" y2="264.3" stroke="#000" stroke-width="1.05"/>
<line x1="189.4" y1="287.6" x2="189.4" y2="269" stroke="#000" stroke-width="1.05"/>
<line x1="190.1" y1="287.6" x2="190.1" y2="274" stroke="#000" stroke-width="1.05"/>
<line x1="190.8" y1="287.6" x2="190.8" y2="279" stroke="#000" stroke-width="1.05"/>
<line x1="200.5" y1="287.6" x2="200.5" y2="280.6" stroke="#000" stroke-width="1.05"/>
<line x1="202.3" y1="287.6" x2="202.3" y2="283" stroke="#000" stroke-width="1.05"/>
<line x1="208.5" y1="287.6" x2="208.5" y2="284" stroke="#000" stroke-width="1.05"/>
<line x1="123.6" y1="257" x2="123.6" y2="248" stroke="#2a2" stroke-width="0.9"/>
<text transform="translate(73.8,180.7) scale(0.84,1)" font-size="9.04" text-anchor="start" fill="#000" stroke="#000" stroke-width="0.12">C14</text>
<text transform="translate(99.8,166) scale(0.84,1)" font-size="9.04" text-anchor="start" fill="#000" stroke="#000" stroke-width="0.12">C15</text>
<text transform="translate(129.7,250) scale(0.84,1)" font-size="9.04" text-anchor="start" fill="#000" stroke="#000" stroke-width="0.12">C16</text>
<text transform="translate(43.9,280.4) scale(0.84,1)" font-size="9.04" text-anchor="start" fill="#000" stroke="#000" stroke-width="0.12">C13</text>
<text transform="translate(71.4,187.02) scale(0.76,1)" font-size="5.46" text-anchor="start" fill="#111" stroke="#111" stroke-width="0.1">1031.54</text>
<text transform="translate(98.5,173.12) scale(0.76,1)" font-size="5.46" text-anchor="start" fill="#111" stroke="#111" stroke-width="0.1">1045.90</text>
<text transform="translate(22.3,255.02) scale(0.76,1)" font-size="5.46" text-anchor="start" fill="#111" stroke="#111" stroke-width="0.1">1001.51</text>
<line x1="23.2" y1="255.6" x2="30" y2="255" stroke="#22a022" stroke-width="0.85"/>
<text transform="translate(24.8,262.42) scale(0.76,1)" font-size="5.46" text-anchor="start" fill="#111" stroke="#111" stroke-width="0.1">1006.46</text>
<line x1="33.1" y1="262.6" x2="33.1" y2="263.5" stroke="#22a022" stroke-width="0.85"/>
<text transform="translate(60,280.22) scale(0.76,1)" font-size="5.46" text-anchor="start" fill="#111" stroke="#111" stroke-width="0.1">1029.37</text>
<text transform="translate(88.1,282.72) scale(0.76,1)" font-size="5.46" text-anchor="start" fill="#111" stroke="#111" stroke-width="0.1">1041.58</text>
<line x1="97.5" y1="283.5" x2="99.5" y2="283" stroke="#22a022" stroke-width="0.85"/>
<text transform="translate(114.3,248.02) scale(0.76,1)" font-size="5.46" text-anchor="start" fill="#111" stroke="#111" stroke-width="0.1">1053.32</text>
<text transform="translate(125.6,255.92) scale(0.76,1)" font-size="5.46" text-anchor="start" fill="#111" stroke="#111" stroke-width="0.1">1059.51</text>
<text transform="translate(141,242.02) scale(0.76,1)" font-size="5.46" text-anchor="start" fill="#111" stroke="#111" stroke-width="0.1">1067.84</text>
<text transform="translate(171.9,255.92) scale(0.76,1)" font-size="5.46" text-anchor="start" fill="#111" stroke="#111" stroke-width="0.1">1083.93</text>
<text transform="translate(183,263.32) scale(0.76,1)" font-size="5.46" text-anchor="start" fill="#111" stroke="#111" stroke-width="0.1">1087.32</text>
<line x1="188" y1="264.5" x2="191" y2="263.5" stroke="#22a022" stroke-width="0.85"/>
<text transform="translate(161.2,273.52) scale(0.76,1)" font-size="5.46" text-anchor="start" fill="#111" stroke="#111" stroke-width="0.1">1081.25</text>
<line x1="171" y1="274.3" x2="177" y2="274.9" stroke="#22a022" stroke-width="0.85"/>
<text transform="translate(191.2,279.62) scale(0.76,1)" font-size="5.46" text-anchor="start" fill="#111" stroke="#111" stroke-width="0.1">1090.69</text>
<line x1="250.8" y1="287.6" x2="250.8" y2="285.5" stroke="#000" stroke-width="1.05"/>
<line x1="277.4" y1="287.6" x2="277.4" y2="285.5" stroke="#000" stroke-width="1.05"/>
<line x1="304.5" y1="287.6" x2="304.5" y2="174" stroke="#7e7e7e" stroke-width="1.3"/>
<line x1="304.6" y1="287.6" x2="304.6" y2="274" stroke="#000" stroke-width="1.05"/>
<line x1="305.8" y1="287.6" x2="305.8" y2="224.6" stroke="#7e7e7e" stroke-width="1.2"/>
<line x1="307.9" y1="287.6" x2="307.9" y2="266.2" stroke="#7e7e7e" stroke-width="1.1"/>
<line x1="309.5" y1="287.6" x2="309.5" y2="281.8" stroke="#7e7e7e" stroke-width="1.1"/>
<line x1="331.4" y1="287.6" x2="331.4" y2="180.5" stroke="#7e7e7e" stroke-width="1.3"/>
<line x1="331.6" y1="287.6" x2="331.6" y2="268.8" stroke="#000" stroke-width="1.05"/>
<line x1="333" y1="287.6" x2="333" y2="227.3" stroke="#7e7e7e" stroke-width="1.2"/>
<line x1="334.8" y1="287.6" x2="334.8" y2="266.2" stroke="#7e7e7e" stroke-width="1.1"/>
<line x1="336.5" y1="287.6" x2="336.5" y2="281.8" stroke="#7e7e7e" stroke-width="1.1"/>
<line x1="340" y1="287.6" x2="340" y2="285.5" stroke="#000" stroke-width="1.05"/>
<line x1="342" y1="287.6" x2="342" y2="285.5" stroke="#000" stroke-width="1.05"/>
<line x1="346.3" y1="287.6" x2="346.3" y2="246.4" stroke="#000" stroke-width="1.05"/>
<line x1="345.8" y1="287.6" x2="345.8" y2="275.3" stroke="#7e7e7e" stroke-width="1.1"/>
<line x1="348.4" y1="287.6" x2="348.4" y2="262.3" stroke="#000" stroke-width="1.05"/>
<line x1="350.4" y1="287.6" x2="350.4" y2="279.9" stroke="#000" stroke-width="1.05"/>
<line x1="356.9" y1="287.6" x2="356.9" y2="284" stroke="#000" stroke-width="2"/>
<line x1="358.1" y1="287.6" x2="358.1" y2="241" stroke="#7e7e7e" stroke-width="1.2"/>
<line x1="359.5" y1="287.6" x2="359.5" y2="259.7" stroke="#7e7e7e" stroke-width="1.1"/>
<line x1="361.7" y1="287.6" x2="361.7" y2="277.9" stroke="#7e7e7e" stroke-width="1.1"/>
<line x1="363.4" y1="287.6" x2="363.4" y2="285" stroke="#7e7e7e" stroke-width="1.1"/>
<line x1="373.3" y1="287.6" x2="373.3" y2="245.3" stroke="#000" stroke-width="1.05"/>
<line x1="373" y1="287.6" x2="373" y2="274" stroke="#7e7e7e" stroke-width="1.1"/>
<line x1="375.2" y1="287.6" x2="375.2" y2="263.6" stroke="#7e7e7e" stroke-width="1.1"/>
<line x1="377.3" y1="287.6" x2="377.3" y2="279.2" stroke="#7e7e7e" stroke-width="1.1"/>
<line x1="382.8" y1="287.6" x2="382.8" y2="284" stroke="#000" stroke-width="2"/>
<line x1="392.5" y1="287.6" x2="392.5" y2="285" stroke="#000" stroke-width="2"/>
<line x1="400.3" y1="287.6" x2="400.3" y2="266.2" stroke="#000" stroke-width="1.05"/>
<line x1="402.5" y1="287.6" x2="402.5" y2="275.3" stroke="#7e7e7e" stroke-width="1.1"/>
<line x1="404.2" y1="287.6" x2="404.2" y2="281.8" stroke="#7e7e7e" stroke-width="1.1"/>
<line x1="407.5" y1="287.6" x2="407.5" y2="283.1" stroke="#7e7e7e" stroke-width="1.1"/>
<line x1="434.7" y1="287.6" x2="434.7" y2="281.8" stroke="#7e7e7e" stroke-width="1.1"/>
<line x1="346.3" y1="246.4" x2="346.3" y2="233.5" stroke="#2a2" stroke-width="0.9"/>
<text transform="translate(295.9,166.3) scale(0.84,1)" font-size="9.04" text-anchor="start" fill="#000" stroke="#000" stroke-width="0.12">C14</text>
<text transform="translate(323.5,172.8) scale(0.84,1)" font-size="9.04" text-anchor="start" fill="#000" stroke="#000" stroke-width="0.12">C15</text>
<text transform="translate(356,233.8) scale(0.84,1)" font-size="9.04" text-anchor="start" fill="#000" stroke="#000" stroke-width="0.12">C16</text>
<text transform="translate(268.7,277.3) scale(0.84,1)" font-size="9.04" text-anchor="start" fill="#000" stroke="#000" stroke-width="0.12">C13</text>
<text transform="translate(294.9,172.82) scale(0.76,1)" font-size="5.46" text-anchor="start" fill="#111" stroke="#111" stroke-width="0.1">1031.34</text>
<text transform="translate(321.8,179.02) scale(0.76,1)" font-size="5.46" text-anchor="start" fill="#111" stroke="#111" stroke-width="0.1">1045.39</text>
<text transform="translate(336.7,233.82) scale(0.76,1)" font-size="5.46" text-anchor="start" fill="#111" stroke="#111" stroke-width="0.1">1053.52</text>
<text transform="translate(348,239.82) scale(0.76,1)" font-size="5.46" text-anchor="start" fill="#111" stroke="#111" stroke-width="0.1">1059.57</text>
<text transform="translate(368.3,244.62) scale(0.76,1)" font-size="5.46" text-anchor="start" fill="#111" stroke="#111" stroke-width="0.1">1067.54</text>
<line x1="373.5" y1="245.5" x2="379" y2="244.5" stroke="#22a022" stroke-width="0.85"/>
<text transform="translate(390.3,264.82) scale(0.76,1)" font-size="5.46" text-anchor="start" fill="#111" stroke="#111" stroke-width="0.1">1081.30</text>
<text transform="translate(245.3,284.02) scale(0.76,1)" font-size="5.46" text-anchor="start" fill="#111" stroke="#111" stroke-width="0.1">1003.51</text>
<line x1="250" y1="285" x2="254" y2="283.5" stroke="#22a022" stroke-width="0.85"/>
<text transform="translate(268.1,284.02) scale(0.76,1)" font-size="5.46" text-anchor="start" fill="#111" stroke="#111" stroke-width="0.1">1017.82</text>
<line x1="472.5" y1="287.6" x2="472.5" y2="285.5" stroke="#000" stroke-width="1.05"/>
<line x1="499" y1="287.6" x2="499" y2="285.5" stroke="#000" stroke-width="1.05"/>
<line x1="527.1" y1="287.6" x2="527.1" y2="174.4" stroke="#7e7e7e" stroke-width="1.3"/>
<line x1="527.1" y1="287.6" x2="527.1" y2="219.1" stroke="#000" stroke-width="1.05"/>
<line x1="529.1" y1="287.6" x2="529.1" y2="226.9" stroke="#7e7e7e" stroke-width="1.2"/>
<line x1="530.4" y1="287.6" x2="530.4" y2="266.9" stroke="#7e7e7e" stroke-width="1.1"/>
<line x1="531.5" y1="287.6" x2="531.5" y2="277.9" stroke="#7e7e7e" stroke-width="1.1"/>
<line x1="532.8" y1="287.6" x2="532.8" y2="283.1" stroke="#7e7e7e" stroke-width="1.1"/>
<line x1="554" y1="287.6" x2="554" y2="214.4" stroke="#7e7e7e" stroke-width="1.3"/>
<line x1="554.1" y1="287.6" x2="554.1" y2="239.3" stroke="#000" stroke-width="1.05"/>
<line x1="556.4" y1="287.6" x2="556.4" y2="245.1" stroke="#7e7e7e" stroke-width="1.2"/>
<line x1="557.5" y1="287.6" x2="557.5" y2="272.7" stroke="#7e7e7e" stroke-width="1.1"/>
<line x1="560" y1="287.6" x2="560" y2="284" stroke="#7e7e7e" stroke-width="1.1"/>
<line x1="564" y1="287.6" x2="564" y2="285" stroke="#000" stroke-width="1.8"/>
<line x1="569.1" y1="287.6" x2="569.1" y2="259.7" stroke="#000" stroke-width="1.05"/>
<line x1="571.5" y1="287.6" x2="571.5" y2="270.8" stroke="#000" stroke-width="1.05"/>
<line x1="573.3" y1="287.6" x2="573.3" y2="281.8" stroke="#000" stroke-width="1.05"/>
<line x1="580.6" y1="287.6" x2="580.6" y2="243.8" stroke="#7e7e7e" stroke-width="1.2"/>
<line x1="580.2" y1="287.6" x2="580.2" y2="276.6" stroke="#000" stroke-width="1.05"/>
<line x1="582.4" y1="287.6" x2="582.4" y2="260.4" stroke="#7e7e7e" stroke-width="1.1"/>
<line x1="583.4" y1="287.6" x2="583.4" y2="265" stroke="#7e7e7e" stroke-width="1.1"/>
<line x1="584.7" y1="287.6" x2="584.7" y2="277.9" stroke="#7e7e7e" stroke-width="1.1"/>
<line x1="586.7" y1="287.6" x2="586.7" y2="285" stroke="#7e7e7e" stroke-width="1.1"/>
<line x1="596.4" y1="287.6" x2="596.4" y2="266.2" stroke="#000" stroke-width="1.05"/>
<line x1="598.2" y1="287.6" x2="598.2" y2="275.3" stroke="#000" stroke-width="1.05"/>
<line x1="600.3" y1="287.6" x2="600.3" y2="283.8" stroke="#000" stroke-width="1.05"/>
<line x1="604" y1="287.6" x2="604" y2="285.5" stroke="#000" stroke-width="1.8"/>
<line x1="623" y1="287.6" x2="623" y2="263.6" stroke="#000" stroke-width="1.05"/>
<line x1="625.3" y1="287.6" x2="625.3" y2="272.7" stroke="#000" stroke-width="1.05"/>
<line x1="627.2" y1="287.6" x2="627.2" y2="281.8" stroke="#7e7e7e" stroke-width="1.1"/>
<line x1="629.2" y1="287.6" x2="629.2" y2="285" stroke="#7e7e7e" stroke-width="1.1"/>
<line x1="657.5" y1="287.6" x2="657.5" y2="285.3" stroke="#2a2" stroke-width="1.1"/>
<text transform="translate(518.8,166.3) scale(0.84,1)" font-size="9.04" text-anchor="start" fill="#000" stroke="#000" stroke-width="0.12">C14</text>
<text transform="translate(546.9,206) scale(0.84,1)" font-size="9.04" text-anchor="start" fill="#000" stroke="#000" stroke-width="0.12">C15</text>
<text transform="translate(572,236) scale(0.84,1)" font-size="9.04" text-anchor="start" fill="#000" stroke="#000" stroke-width="0.12">C16</text>
<text transform="translate(492.7,277.9) scale(0.84,1)" font-size="9.04" text-anchor="start" fill="#000" stroke="#000" stroke-width="0.12">C13</text>
<text transform="translate(517.5,173.32) scale(0.76,1)" font-size="5.46" text-anchor="start" fill="#111" stroke="#111" stroke-width="0.1">1031.34</text>
<text transform="translate(544.4,213.42) scale(0.76,1)" font-size="5.46" text-anchor="start" fill="#111" stroke="#111" stroke-width="0.1">1045.56</text>
<text transform="translate(560,258.02) scale(0.76,1)" font-size="5.46" text-anchor="start" fill="#111" stroke="#111" stroke-width="0.1">1053.52</text>
<text transform="translate(571.7,242.22) scale(0.76,1)" font-size="5.46" text-anchor="start" fill="#111" stroke="#111" stroke-width="0.1">1059.37</text>
<text transform="translate(587,264.82) scale(0.76,1)" font-size="5.46" text-anchor="start" fill="#111" stroke="#111" stroke-width="0.1">1067.54</text>
<text transform="translate(613.6,262.22) scale(0.76,1)" font-size="5.46" text-anchor="start" fill="#111" stroke="#111" stroke-width="0.1">1081.33</text>
<text transform="translate(467.6,283.72) scale(0.76,1)" font-size="5.46" text-anchor="start" fill="#111" stroke="#111" stroke-width="0.1">1003.51</text>
<line x1="472" y1="285" x2="476" y2="283.5" stroke="#22a022" stroke-width="0.85"/>
<text transform="translate(491,285.32) scale(0.76,1)" font-size="5.46" text-anchor="start" fill="#111" stroke="#111" stroke-width="0.1">1017.83</text>
<line x1="0" y1="0.6" x2="669" y2="0.6" stroke="#3a3a3a" stroke-width="1.3"/>
<line x1="222.8" y1="0" x2="222.8" y2="308" stroke="#6a6a6a" stroke-width="1.4"/>
<line x1="445.8" y1="0" x2="445.8" y2="308" stroke="#6a6a6a" stroke-width="1.4"/>
<line x1="0" y1="153.7" x2="669" y2="153.7" stroke="#8a8a8a" stroke-width="1.4"/>
</svg>
</body></html>
